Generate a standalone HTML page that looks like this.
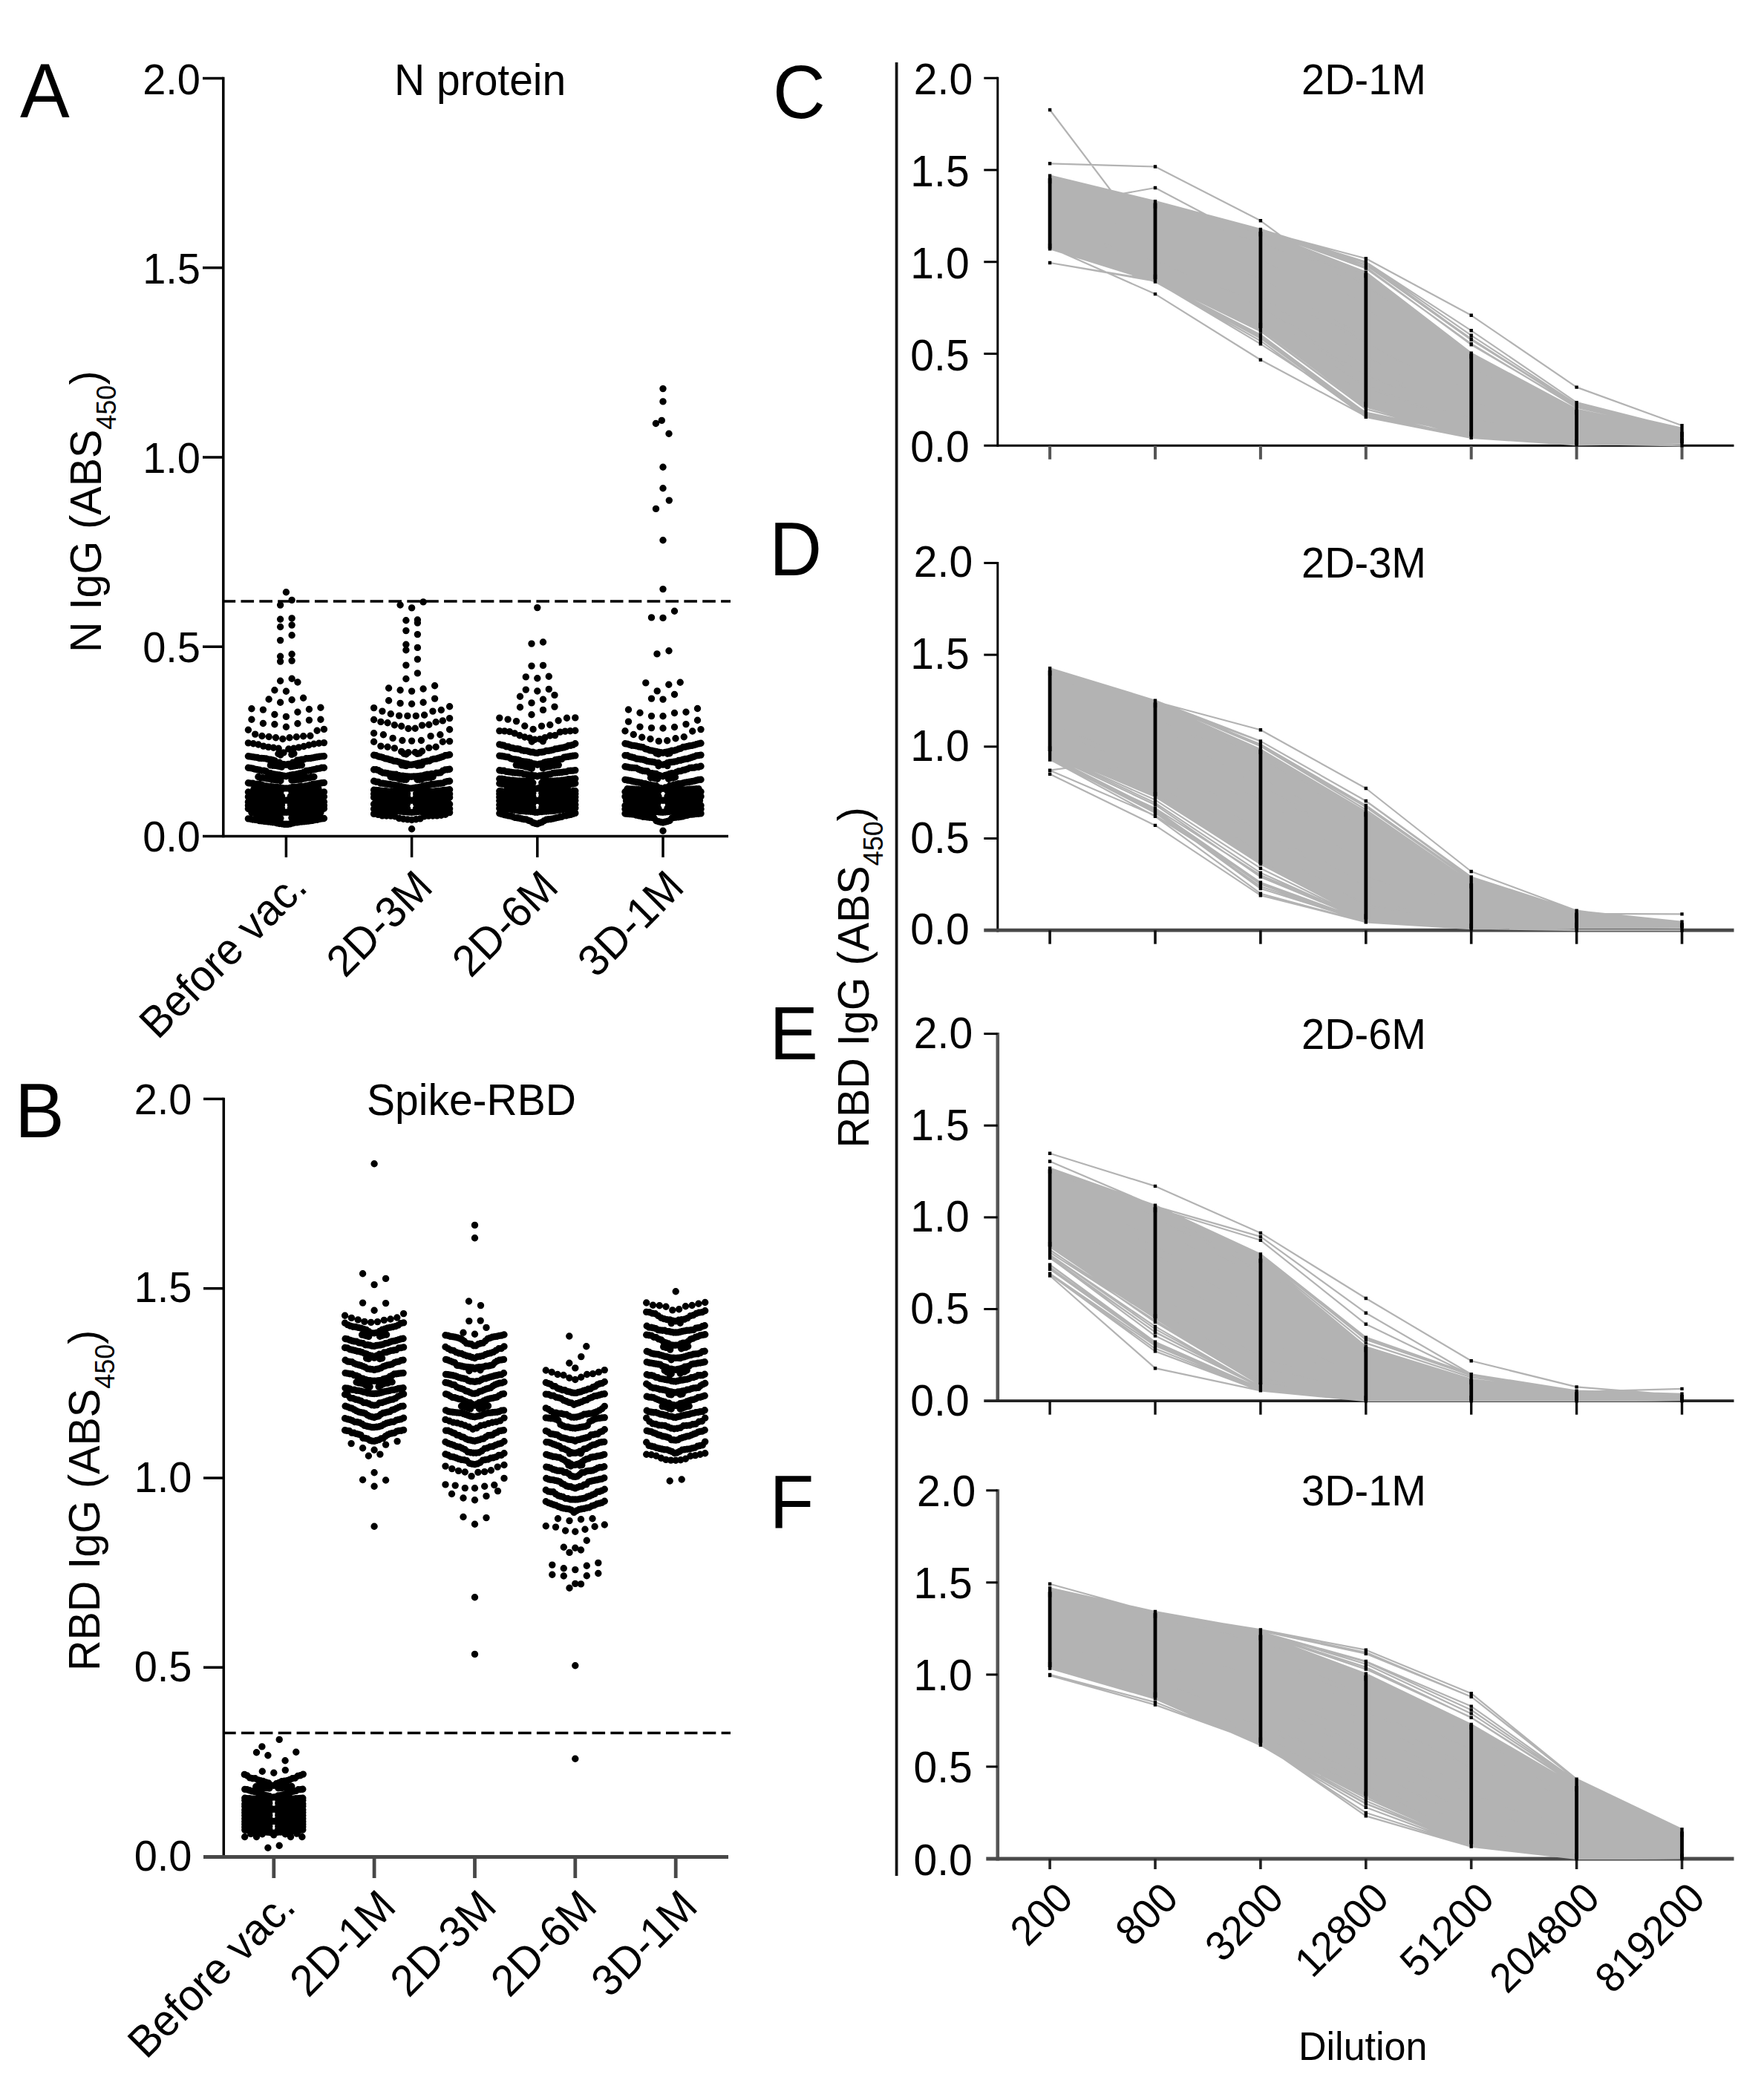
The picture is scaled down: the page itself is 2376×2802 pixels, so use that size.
<!DOCTYPE html>
<html lang="en"><head><meta charset="utf-8"><title>Figure</title>
<style>html,body{margin:0;padding:0;background:#fff}svg{display:block}text{font-family:"Liberation Sans", Arial, Helvetica, sans-serif;fill:#000}</style></head>
<body>
<svg width="2376" height="2802" viewBox="0 0 2376 2802">
<rect width="2376" height="2802" fill="#fff"/>
<line x1="300.8" y1="103.8" x2="300.8" y2="1128.2" stroke="#000" stroke-width="3.5"/>
<line x1="273" y1="1126.4" x2="981" y2="1126.4" stroke="#000" stroke-width="3.5"/>
<line x1="273" y1="871.2" x2="300.8" y2="871.2" stroke="#000" stroke-width="3.5"/>
<line x1="273" y1="616" x2="300.8" y2="616" stroke="#000" stroke-width="3.5"/>
<line x1="273" y1="360.7" x2="300.8" y2="360.7" stroke="#000" stroke-width="3.5"/>
<line x1="273" y1="105.5" x2="300.8" y2="105.5" stroke="#000" stroke-width="3.5"/>
<text font-size="56" text-anchor="end" transform="translate(270 1147.4) scale(1 1.04)">0.0</text>
<text font-size="56" text-anchor="end" transform="translate(270 892.2) scale(1 1.04)">0.5</text>
<text font-size="56" text-anchor="end" transform="translate(270 637) scale(1 1.04)">1.0</text>
<text font-size="56" text-anchor="end" transform="translate(270 381.7) scale(1 1.04)">1.5</text>
<text font-size="56" text-anchor="end" transform="translate(270 126.5) scale(1 1.04)">2.0</text>
<line x1="385.4" y1="1126.4" x2="385.4" y2="1154.9" stroke="#000" stroke-width="3.5"/>
<line x1="554.6" y1="1126.4" x2="554.6" y2="1154.9" stroke="#000" stroke-width="3.5"/>
<line x1="723.8" y1="1126.4" x2="723.8" y2="1154.9" stroke="#000" stroke-width="3.5"/>
<line x1="893" y1="1126.4" x2="893" y2="1154.9" stroke="#000" stroke-width="3.5"/>
<line x1="300.8" y1="809.9" x2="984" y2="809.9" stroke="#000" stroke-width="3.5" stroke-dasharray="17.6 7.27" stroke-dashoffset="1.2"/>
<text font-size="57" text-anchor="middle" transform="translate(646.6 127.5) scale(1 1.04)">N protein</text>
<text font-size="57.5" text-anchor="start" transform="translate(136.4 879) rotate(-90) scale(1 1.04)">N IgG (ABS<tspan font-size="36" dy="19">450</tspan><tspan dy="-19">)</tspan></text>
<text font-size="57" text-anchor="end" transform="translate(416.4 1197.9) rotate(-45) scale(1 1.04)">Before vac.</text>
<text font-size="57" text-anchor="end" transform="translate(585.6 1197.9) rotate(-45) scale(1 1.04)">2D-3M</text>
<text font-size="57" text-anchor="end" transform="translate(754.8 1197.9) rotate(-45) scale(1 1.04)">2D-6M</text>
<text font-size="57" text-anchor="end" transform="translate(924 1197.9) rotate(-45) scale(1 1.04)">3D-1M</text>
<path d="M385.4 1110.3h0M382.4 1110.3h0M388.4 1110.2h0M379.4 1109.8h0M391.4 1109.7h0M376.4 1109.5h0M394.4 1108.9h0M373.4 1108.9h0M397.4 1108h0M370.4 1108h0M400.4 1107.9h0M367.4 1107.8h0M403.4 1107.3h0M364.4 1107.2h0M406.4 1107h0M361.4 1107h0M409.4 1106.8h0M358.4 1106.6h0M412.4 1106.4h0M355.4 1106.3h0M415.4 1106.1h0M352.4 1105.9h0M418.4 1105.6h0M349.4 1105.6h0M421.4 1105.2h0M346.4 1104.6h0M424.4 1104.5h0M343.4 1104.3h0M427.4 1104.2h0M340.4 1104h0M430.4 1103.4h0M337.4 1103.3h0M433.4 1102.9h0M334.4 1102.9h0M436.4 1102.5h0M377.9 1102.2h0M392.9 1101.7h0M374.9 1101.5h0M395.9 1101h0M371.9 1100.8h0M398.9 1100.7h0M368.9 1100.6h0M401.9 1100.4h0M365.9 1100.3h0M404.9 1100.2h0M362.9 1100.2h0M407.9 1099.6h0M359.9 1099.3h0M410.9 1098.5h0M356.9 1097.7h0M413.9 1097.6h0M353.9 1097.3h0M416.9 1097.3h0M350.9 1097.1h0M419.9 1096.8h0M347.9 1096.5h0M422.9 1096.4h0M344.9 1096.3h0M425.9 1095.7h0M341.9 1094.9h0M428.9 1094.7h0M338.9 1094.6h0M431.9 1094.5h0M385.4 1094.3h0M382.4 1094.2h0M388.4 1094.1h0M379.4 1094h0M391.4 1093.9h0M376.4 1093.9h0M394.4 1093.8h0M373.4 1093.8h0M397.4 1093.7h0M370.4 1093.6h0M400.4 1093.4h0M367.4 1093.3h0M403.4 1092.6h0M364.4 1092.6h0M406.4 1092.4h0M361.4 1092.3h0M409.4 1092.2h0M358.4 1092.1h0M412.4 1092h0M355.4 1091.5h0M415.4 1091.5h0M352.4 1091.5h0M418.4 1091.4h0M349.4 1091.3h0M421.4 1091.2h0M346.4 1091.2h0M424.4 1091h0M343.4 1090.8h0M427.4 1090.6h0M340.4 1090.4h0M430.4 1090.4h0M337.4 1090.4h0M433.4 1090.1h0M334.4 1089.5h0M436.4 1089.2h0M379.4 1088.9h0M391.4 1088.7h0M376.4 1088.6h0M394.4 1088.4h0M373.4 1088.4h0M397.4 1088h0M370.4 1087.8h0M400.4 1087.8h0M367.4 1087.8h0M403.4 1087.7h0M364.4 1087.6h0M406.4 1087.6h0M361.4 1087.5h0M409.4 1087.3h0M358.4 1087h0M412.4 1086.9h0M355.4 1086.7h0M415.4 1086.2h0M352.4 1086.2h0M418.4 1086.1h0M349.4 1086.1h0M421.4 1086.1h0M346.4 1086h0M424.4 1086h0M343.4 1085.6h0M427.4 1085.6h0M340.4 1085.3h0M430.4 1085.3h0M337.4 1085.3h0M433.4 1085.2h0M334.4 1085.1h0M436.4 1085h0M379.4 1084.4h0M391.4 1084.3h0M376.4 1084.3h0M394.4 1084.2h0M373.4 1084.1h0M397.4 1083.9h0M370.4 1083.9h0M400.4 1083.8h0M367.4 1083.6h0M403.4 1083.5h0M364.4 1082.9h0M406.4 1082.8h0M361.4 1082.7h0M409.4 1082.5h0M358.4 1082.4h0M412.4 1082.4h0M355.4 1082.2h0M415.4 1082.2h0M352.4 1081.7h0M418.4 1081.6h0M349.4 1081.5h0M421.4 1081.4h0M346.4 1081.4h0M424.4 1081.4h0M343.4 1081h0M427.4 1080.9h0M340.4 1080.4h0M430.4 1080.4h0M337.4 1080.4h0M433.4 1080.4h0M334.4 1080.4h0M436.4 1080.3h0M379.4 1079.8h0M391.4 1079.8h0M376.4 1079.8h0M394.4 1079.6h0M373.4 1079.6h0M397.4 1079.5h0M370.4 1079.3h0M400.4 1079.2h0M367.4 1079.2h0M403.4 1079.2h0M364.4 1079h0M406.4 1078.9h0M361.4 1078.9h0M409.4 1078.7h0M385.4 1078.1h0M382.4 1078h0M388.4 1077.8h0M379.4 1077.6h0M391.4 1077.4h0M376.4 1077.2h0M394.4 1077.1h0M373.4 1077.1h0M397.4 1076.9h0M370.4 1076.9h0M400.4 1076.8h0M367.4 1076.6h0M403.4 1076.4h0M364.4 1076.3h0M406.4 1076.3h0M361.4 1076.3h0M409.4 1076.3h0M358.4 1076.3h0M412.4 1075.8h0M355.4 1075.5h0M415.4 1075.4h0M352.4 1075.4h0M418.4 1075.3h0M349.4 1075.2h0M421.4 1075h0M346.4 1075h0M424.4 1074.4h0M343.4 1074.4h0M427.4 1074.1h0M340.4 1074.1h0M430.4 1073.6h0M337.4 1073.5h0M433.4 1073.4h0M334.4 1073.4h0M436.4 1073.3h0M379.4 1072.5h0M391.4 1072.5h0M376.4 1072.4h0M394.4 1072.4h0M373.4 1072.3h0M397.4 1072.3h0M370.4 1071.4h0M400.4 1071.1h0M367.4 1071.1h0M403.4 1070.1h0M364.4 1069.8h0M406.4 1069.8h0M361.4 1069.8h0M409.4 1069.4h0M358.4 1069.2h0M412.4 1069.2h0M355.4 1069.1h0M415.4 1068.7h0M352.4 1068.6h0M418.4 1068.5h0M349.4 1068.4h0M421.4 1068.3h0M346.4 1068.2h0M424.4 1068.1h0M343.4 1068h0M427.4 1067.9h0M340.4 1067.9h0M430.4 1067.8h0M337.4 1067.8h0M433.4 1067.6h0M334.4 1067h0M436.4 1066.9h0M377.9 1066.3h0M392.9 1066.2h0M374.9 1066.1h0M395.9 1066h0M371.9 1065.7h0M398.9 1065.6h0M368.9 1065.6h0M401.9 1065.6h0M365.9 1065.5h0M404.9 1065.4h0M362.9 1065.2h0M407.9 1065.2h0M359.9 1065.1h0M410.9 1065.1h0M356.9 1064.7h0M413.9 1064.6h0M353.9 1064.5h0M416.9 1064.3h0M350.9 1064.3h0M419.9 1064.1h0M347.9 1064.1h0M422.9 1063.9h0M344.9 1063.4h0M425.9 1063.3h0M341.9 1063h0M428.9 1062.5h0M385.4 1061.9h0M382.4 1061.9h0M388.4 1061.9h0M379.4 1061.5h0M391.4 1061.3h0M376.4 1060.9h0M394.4 1060.5h0M373.4 1060.4h0M397.4 1060.4h0M370.4 1060.4h0M400.4 1060.2h0M367.4 1060h0M403.4 1059.6h0M364.4 1059.6h0M406.4 1059.5h0M361.4 1059.5h0M409.4 1059.4h0M358.4 1058.9h0M412.4 1058.8h0M355.4 1058.5h0M415.4 1058.2h0M352.4 1057.4h0M418.4 1057.4h0M349.4 1056.4h0M421.4 1056.3h0M346.4 1056.2h0M424.4 1056.2h0M343.4 1056.1h0M427.4 1055.7h0M340.4 1055.3h0M430.4 1055.3h0M337.4 1055.1h0M433.4 1054.8h0M334.4 1054.7h0M436.4 1054.4h0M377.9 1051.7h0M392.9 1051h0M374.9 1050.9h0M395.9 1050.9h0M371.9 1050.9h0M398.9 1050.4h0M368.9 1050.3h0M401.9 1050.3h0M365.9 1050.2h0M404.9 1050.1h0M362.9 1049.2h0M407.9 1049.1h0M359.9 1048.9h0M410.9 1048.6h0M356.9 1048.2h0M413.9 1047.8h0M353.9 1047.7h0M416.9 1047.7h0M350.9 1047.7h0M419.9 1046.6h0M347.9 1046.5h0M422.9 1046.5h0M385.4 1045.8h0M382.4 1045.3h0M388.4 1044.9h0M379.4 1044.6h0M391.4 1044.2h0M376.4 1043.9h0M394.4 1043.8h0M373.4 1043.7h0M397.4 1043.5h0M370.4 1043.1h0M400.4 1042.7h0M367.4 1042.6h0M403.4 1041.9h0M364.4 1041.6h0M406.4 1041.4h0M361.4 1041.1h0M409.4 1040.1h0M358.4 1039h0M412.4 1038.5h0M355.4 1038.3h0M415.4 1038.2h0M352.4 1038.2h0M418.4 1037.8h0M349.4 1037.2h0M421.4 1036.9h0M346.4 1036.8h0M424.4 1036.4h0M343.4 1036.1h0M427.4 1035.5h0M340.4 1035.2h0M430.4 1035.1h0M337.4 1034.6h0M433.4 1034.3h0M334.4 1034.2h0M436.4 1034.2h0M379.4 1033.1h0M391.4 1032.8h0M376.4 1032.4h0M394.4 1032.3h0M373.4 1031.8h0M397.4 1031.7h0M370.4 1031.4h0M400.4 1031.3h0M367.4 1031.2h0M403.4 1031h0M364.4 1030.9h0M406.4 1030.7h0M385.4 1030.2h0M382.4 1029.8h0M388.4 1029.4h0M379.4 1029.2h0M391.4 1029.1h0M376.4 1027.3h0M394.4 1027.2h0M373.4 1027.1h0M397.4 1026.9h0M370.4 1025h0M400.4 1024.1h0M367.4 1023.9h0M403.4 1023.9h0M364.4 1023.2h0M406.4 1023.1h0M361.4 1023h0M409.4 1022.9h0M358.4 1022h0M412.4 1021.6h0M355.4 1021.6h0M415.4 1021.6h0M352.4 1021.5h0M418.4 1021.5h0M349.4 1021.4h0M421.4 1020.9h0M346.4 1020.5h0M424.4 1020.3h0M343.4 1020.1h0M427.4 1019.7h0M340.4 1019.6h0M430.4 1019.3h0M337.4 1019.1h0M433.4 1018.9h0M334.4 1018.8h0M436.4 1018.7h0M377.9 1017h0M392.9 1016.4h0M374.9 1015.5h0M395.9 1015.1h0M382 1013.9h0M388.8 1009h0M375.2 1008.3h0M395.6 1008.2h0M368.4 1007.3h0M402.4 1006.9h0M361.6 1006.4h0M409.2 1005.5h0M354.8 1005.1h0M416 1003.8h0M348 1003h0M422.8 1002.3h0M341.2 1001.8h0M429.6 1001.2h0M334.4 1000.9h0M436.4 1000.6h0M380.8 995.5h0M390 993.7h0M371.5 993.7h0M399.3 992.8h0M362.2 992.5h0M408.6 991.7h0M352.9 991.5h0M417.9 991.3h0M343.7 989.1h0M427.1 984.2h0M334.4 983.2h0M436.4 982.4h0M385.4 979.2h0M369.9 975.7h0M400.9 974.8h0M354.4 974.5h0M416.4 970.1h0M338.9 969.2h0M431.9 969.2h0M385.4 965.4h0M369.9 962.5h0M400.9 959.3h0M354.4 956.1h0M416.4 955.5h0M338.9 954.7h0M431.9 953.3h0M377.6 946.3h0M393.1 942.8h0M362.1 942h0M408.6 940.2h0M385.4 931.2h0M369.9 929.8h0M400.9 919h0M377.6 917.3h0M393.1 914.3h0M377.6 891.1h0M393.1 890.1h0M377.6 884.2h0M393.1 881.3h0M377.6 862.6h0M393.1 855.7h0M377.6 844.5h0M393.1 842.1h0M377.6 834.3h0M393.1 832.9h0M377.6 815.1h0M393.1 808.4h0M385.4 797.7h0" stroke="#000" stroke-width="9.4" stroke-linecap="round" fill="none"/>
<path d="M554.6 1104.5h0M548.9 1103.9h0M560.3 1103.7h0M543.3 1103.2h0M565.9 1102.9h0M537.6 1102.4h0M571.6 1099.8h0M531.9 1099.7h0M577.3 1099.1h0M526.3 1099.1h0M582.9 1099h0M520.6 1099h0M588.6 1098.9h0M514.9 1098.9h0M594.3 1098.3h0M509.3 1097.4h0M599.9 1097.3h0M503.6 1096.4h0M605.6 1094.6h0M554.6 1094.4h0M551.6 1094.1h0M557.6 1094h0M548.6 1093.9h0M560.6 1093.8h0M545.6 1093.6h0M563.6 1093.4h0M542.6 1093.2h0M566.6 1093.2h0M539.6 1093.1h0M569.6 1092.6h0M536.6 1092.5h0M572.6 1092.3h0M533.6 1092.3h0M575.6 1092.1h0M530.6 1091.8h0M578.6 1091.6h0M527.6 1091.5h0M581.6 1091.5h0M524.6 1091.1h0M584.6 1091h0M521.6 1091h0M587.6 1091h0M518.6 1090.9h0M590.6 1090.5h0M515.6 1090.1h0M593.6 1090.1h0M512.6 1090.1h0M596.6 1090h0M509.6 1090h0M599.6 1089.9h0M506.6 1089.9h0M602.6 1089.8h0M503.6 1089.7h0M605.6 1089.5h0M548.6 1089h0M560.6 1089h0M545.6 1088.4h0M563.6 1088.2h0M542.6 1088h0M566.6 1087.9h0M539.6 1087.7h0M569.6 1087.7h0M536.6 1087.2h0M572.6 1087.2h0M533.6 1087.1h0M575.6 1087h0M530.6 1086.9h0M578.6 1086.2h0M527.6 1086.1h0M581.6 1085.6h0M524.6 1085.3h0M584.6 1084.8h0M521.6 1084.7h0M587.6 1084.7h0M518.6 1084.6h0M590.6 1084.5h0M515.6 1084.3h0M593.6 1084.2h0M512.6 1083.8h0M596.6 1083.7h0M509.6 1083.7h0M599.6 1083.5h0M506.6 1083.5h0M602.6 1083.4h0M503.6 1083.3h0M605.6 1083.2h0M548.6 1082.8h0M560.6 1082.7h0M545.6 1082.6h0M563.6 1082.6h0M542.6 1082.3h0M566.6 1082.3h0M539.6 1082.2h0M569.6 1082h0M536.6 1081.8h0M572.6 1081.6h0M533.6 1081.4h0M575.6 1081.3h0M530.6 1081.1h0M578.6 1080.9h0M527.6 1080.8h0M581.6 1080.7h0M524.6 1080.6h0M584.6 1080.6h0M521.6 1080.2h0M587.6 1080.1h0M518.6 1080h0M590.6 1079.8h0M515.6 1079.6h0M593.6 1079.6h0M512.6 1079.6h0M596.6 1079.4h0M509.6 1079.2h0M599.6 1079.2h0M506.6 1079h0M602.6 1078.6h0M554.6 1078.3h0M551.6 1078.2h0M557.6 1077.9h0M548.6 1077.7h0M560.6 1077.7h0M545.6 1077.6h0M563.6 1077.3h0M542.6 1077.3h0M566.6 1077.2h0M539.6 1077.2h0M569.6 1077.1h0M536.6 1076.8h0M572.6 1076.7h0M533.6 1076.5h0M575.6 1076.4h0M530.6 1076.3h0M578.6 1076.3h0M527.6 1076.2h0M581.6 1076.2h0M524.6 1076.2h0M584.6 1076.1h0M521.6 1076.1h0M587.6 1076h0M518.6 1075.8h0M590.6 1075.8h0M515.6 1075.7h0M593.6 1075.7h0M512.6 1075.6h0M596.6 1075.3h0M509.6 1075.2h0M599.6 1074.9h0M506.6 1074.4h0M602.6 1074.4h0M503.6 1074.3h0M605.6 1074.2h0M548.6 1073.4h0M560.6 1073.4h0M545.6 1073.3h0M563.6 1073.2h0M542.6 1073.1h0M566.6 1073.1h0M539.6 1072.7h0M569.6 1072.7h0M536.6 1072.5h0M572.6 1072.4h0M533.6 1072.1h0M575.6 1072h0M530.6 1071.9h0M578.6 1071.9h0M527.6 1071.4h0M581.6 1071.4h0M524.6 1071.2h0M584.6 1071.1h0M521.6 1071h0M587.6 1070.9h0M518.6 1070.9h0M590.6 1070.8h0M515.6 1070.8h0M593.6 1070.6h0M512.6 1070.6h0M596.6 1070.3h0M509.6 1070.1h0M599.6 1070h0M506.6 1069.7h0M602.6 1069.7h0M503.6 1069.6h0M605.6 1069.5h0M548.6 1069.1h0M560.6 1069h0M545.6 1069h0M563.6 1068.9h0M542.6 1068.8h0M566.6 1068.5h0M539.6 1068.1h0M569.6 1067.8h0M536.6 1067.4h0M572.6 1067h0M533.6 1066.7h0M575.6 1066.6h0M530.6 1066.5h0M578.6 1066.4h0M527.6 1066.4h0M581.6 1066.3h0M524.6 1066.3h0M584.6 1066.2h0M521.6 1065.9h0M587.6 1065.6h0M518.6 1065.5h0M590.6 1065.5h0M515.6 1065.4h0M593.6 1065.3h0M512.6 1065.3h0M596.6 1064.8h0M509.6 1064.6h0M599.6 1064.5h0M506.6 1064.5h0M602.6 1064.2h0M503.6 1064.2h0M605.6 1063.8h0M547.1 1063.1h0M562.1 1062.9h0M544.1 1062.8h0M565.1 1062.7h0M554.6 1061.9h0M551.6 1061.9h0M557.6 1061.4h0M548.6 1061.3h0M560.6 1060.9h0M545.6 1060.8h0M563.6 1060.7h0M542.6 1060.2h0M566.6 1059.9h0M539.6 1059.4h0M569.6 1058.7h0M536.6 1058.7h0M572.6 1058.2h0M533.6 1058h0M575.6 1057.7h0M530.6 1057.5h0M578.6 1057.2h0M527.6 1057.1h0M581.6 1056.4h0M524.6 1056.4h0M584.6 1056.4h0M521.6 1056.2h0M587.6 1055.9h0M518.6 1055.8h0M590.6 1055.5h0M515.6 1055.2h0M593.6 1055.2h0M512.6 1055.1h0M596.6 1054.9h0M509.6 1053.4h0M599.6 1053.4h0M506.6 1053.3h0M602.6 1052.6h0M503.6 1052.2h0M605.6 1052.2h0M547.1 1050.3h0M562.1 1050.3h0M544.1 1050.3h0M565.1 1050.2h0M541.1 1049.9h0M568.1 1049.6h0M538.1 1049.4h0M571.1 1048.1h0M535.1 1047.9h0M574.1 1047.7h0M532.1 1047.4h0M577.1 1047.4h0M529.1 1047.3h0M580.1 1047.3h0M526.1 1046.5h0M583.1 1046.5h0M554.6 1046.3h0M551.6 1046.3h0M557.6 1046h0M548.6 1046h0M560.6 1045.9h0M545.6 1045.8h0M563.6 1045.7h0M542.6 1045.3h0M566.6 1045.2h0M539.6 1045.1h0M569.6 1044.9h0M536.6 1044.4h0M572.6 1043.9h0M533.6 1043.2h0M575.6 1043.2h0M530.6 1043.2h0M578.6 1043.1h0M527.6 1042.9h0M581.6 1042.5h0M524.6 1042.4h0M584.6 1042.4h0M521.6 1041.8h0M587.6 1041.3h0M518.6 1041.2h0M590.6 1041.1h0M515.6 1041h0M593.6 1040.8h0M512.6 1039.4h0M596.6 1038.1h0M509.6 1037.6h0M599.6 1037h0M506.6 1036.8h0M602.6 1036.7h0M503.6 1036.7h0M605.6 1036.2h0M547.1 1031.6h0M562.1 1031.2h0M544.1 1031h0M565.1 1030.9h0M541.1 1030.6h0M568.1 1030.5h0M554.6 1030.3h0M551.6 1030.2h0M557.6 1029.8h0M548.6 1029.3h0M560.6 1029h0M545.6 1028.8h0M563.6 1028.3h0M542.6 1027.9h0M566.6 1027.6h0M539.6 1027.2h0M569.6 1026.5h0M536.6 1026.2h0M572.6 1025.9h0M533.6 1025.4h0M575.6 1025.3h0M530.6 1025.1h0M578.6 1025h0M527.6 1024h0M581.6 1023.3h0M524.6 1023.2h0M584.6 1022.4h0M521.6 1022.3h0M587.6 1022.1h0M518.6 1021.7h0M590.6 1021.1h0M515.6 1020.5h0M593.6 1020.2h0M512.6 1019.6h0M596.6 1019.3h0M509.6 1019h0M599.6 1017.8h0M506.6 1017.7h0M602.6 1017.4h0M503.6 1017.3h0M605.6 1016.8h0M547.1 1016h0M562.1 1015.4h0M544.1 1015.2h0M565.1 1014.8h0M550 1013.7h0M559.2 1013.5h0M540.7 1012.4h0M568.5 1012h0M531.4 1007.9h0M577.8 1007.4h0M522.1 1006.3h0M587.1 1006.2h0M512.9 1005.1h0M596.3 999.2h0M503.6 999.2h0M605.6 998.6h0M554.6 998.1h0M541.9 997.5h0M567.4 997.5h0M529.1 994.4h0M580.1 991.6h0M516.4 989.8h0M592.9 989.8h0M503.6 987.8h0M605.6 982.8h0M550 981.5h0M559.2 981.3h0M540.7 978.3h0M568.5 977.1h0M531.4 976.8h0M577.8 976.3h0M522.1 973.7h0M587.1 972.8h0M512.9 972.4h0M596.3 970.9h0M503.6 969.5h0M605.6 967.6h0M548.9 964.4h0M560.3 964.4h0M537.6 964.1h0M571.6 963.2h0M526.3 961.8h0M582.9 958.1h0M514.9 958.1h0M594.3 956.5h0M503.6 953.6h0M605.6 951.7h0M554.6 948.3h0M539.1 947.4h0M570.1 946.2h0M523.6 943.7h0M585.6 941.1h0M554.6 931.1h0M539.1 929.8h0M570.1 928h0M523.6 927h0M585.6 923.8h0M546.9 914.5h0M562.4 906.9h0M546.9 896.1h0M562.4 888.1h0M546.9 875.7h0M562.4 872.4h0M546.9 868.2h0M562.4 854.6h0M546.9 849.6h0M562.4 839.1h0M546.9 835.8h0M562.4 835h0M554.6 818.9h0M539.1 815h0M570.1 810.9h0M554.6 1116.7h0" stroke="#000" stroke-width="9.4" stroke-linecap="round" fill="none"/>
<path d="M723.8 1109.9h0M720.8 1109.2h0M726.8 1108.6h0M717.8 1108.2h0M729.8 1107.6h0M714.8 1106.3h0M732.8 1105.8h0M711.8 1105.3h0M735.8 1104.2h0M708.8 1103.9h0M738.8 1103.8h0M705.8 1103.6h0M741.8 1103.5h0M702.8 1103h0M744.8 1102.9h0M699.8 1102.2h0M747.8 1102.1h0M696.8 1101.7h0M750.8 1101.4h0M693.8 1101.4h0M753.8 1100.7h0M690.8 1100.3h0M756.8 1100.2h0M687.8 1099.3h0M759.8 1098.9h0M684.8 1098.9h0M762.8 1098.7h0M681.8 1098.1h0M765.8 1097.9h0M678.8 1097.5h0M768.8 1097.4h0M675.8 1096.6h0M771.8 1096.4h0M672.8 1095.7h0M774.8 1095.4h0M723.8 1094.3h0M720.8 1094.2h0M726.8 1093.6h0M717.8 1093.5h0M729.8 1093.5h0M714.8 1093.3h0M732.8 1093.1h0M711.8 1093h0M735.8 1093h0M708.8 1093h0M738.8 1092.8h0M705.8 1092.5h0M741.8 1092.5h0M702.8 1092.4h0M744.8 1092.4h0M699.8 1092.4h0M747.8 1092h0M696.8 1091.8h0M750.8 1091.4h0M693.8 1091.3h0M753.8 1091.3h0M690.8 1090.5h0M756.8 1090.2h0M687.8 1089.9h0M759.8 1089.8h0M684.8 1089.8h0M762.8 1089.7h0M681.8 1089.7h0M765.8 1089.6h0M678.8 1089.6h0M768.8 1089.5h0M675.8 1089.2h0M771.8 1089.1h0M672.8 1089h0M774.8 1088.6h0M717.8 1087.9h0M729.8 1087.9h0M714.8 1087.4h0M732.8 1087.2h0M711.8 1087h0M735.8 1087h0M708.8 1086.9h0M738.8 1086.8h0M705.8 1086.7h0M741.8 1086.6h0M702.8 1086.5h0M744.8 1086.4h0M699.8 1086.3h0M747.8 1086.2h0M696.8 1086.2h0M750.8 1086.2h0M693.8 1085.6h0M753.8 1085.6h0M690.8 1085.6h0M756.8 1085.3h0M687.8 1085.1h0M759.8 1085.1h0M684.8 1085h0M762.8 1084.9h0M681.8 1084.9h0M765.8 1084.8h0M678.8 1084.8h0M768.8 1084.7h0M675.8 1084.6h0M771.8 1084.4h0M672.8 1084.2h0M774.8 1084h0M717.8 1082.5h0M729.8 1082.4h0M714.8 1082.2h0M732.8 1082.1h0M711.8 1082h0M735.8 1081.8h0M708.8 1081.8h0M738.8 1081.6h0M705.8 1081.4h0M741.8 1081.3h0M702.8 1081.2h0M744.8 1081.1h0M699.8 1080.8h0M747.8 1080.7h0M696.8 1080.5h0M750.8 1080.5h0M693.8 1080.4h0M753.8 1080.4h0M690.8 1080.3h0M756.8 1080.2h0M687.8 1080.2h0M759.8 1080.2h0M684.8 1080.1h0M762.8 1079.8h0M681.8 1079.5h0M765.8 1079.4h0M678.8 1079.2h0M768.8 1079h0M675.8 1079h0M771.8 1079h0M672.8 1078.7h0M774.8 1078.6h0M723.8 1078.4h0M720.8 1078.3h0M726.8 1078.1h0M717.8 1077.7h0M729.8 1077.7h0M714.8 1077.6h0M732.8 1077.6h0M711.8 1077.5h0M735.8 1077.4h0M708.8 1077.2h0M738.8 1077.1h0M705.8 1077.1h0M741.8 1077h0M702.8 1077h0M744.8 1076.9h0M699.8 1076.8h0M747.8 1076.4h0M696.8 1076.4h0M750.8 1076.2h0M693.8 1076.2h0M753.8 1076h0M690.8 1075.7h0M756.8 1075.6h0M687.8 1075.4h0M759.8 1075.2h0M684.8 1075.1h0M762.8 1074.8h0M681.8 1074.6h0M765.8 1074.5h0M678.8 1074.3h0M768.8 1074.2h0M675.8 1074.2h0M771.8 1073.9h0M672.8 1073.9h0M774.8 1073.7h0M717.8 1073.2h0M729.8 1073.2h0M714.8 1072.9h0M732.8 1072.8h0M711.8 1072.7h0M735.8 1072.7h0M708.8 1072.6h0M738.8 1072.6h0M705.8 1072.6h0M741.8 1072.3h0M702.8 1072.2h0M744.8 1072.1h0M699.8 1071.8h0M747.8 1071.8h0M696.8 1071.4h0M750.8 1071.3h0M693.8 1071.3h0M753.8 1071h0M690.8 1071h0M756.8 1070.9h0M687.8 1070.5h0M759.8 1070.4h0M684.8 1070.3h0M762.8 1070.3h0M681.8 1070.1h0M765.8 1070h0M678.8 1069.9h0M768.8 1069.7h0M675.8 1069.7h0M771.8 1069.5h0M672.8 1069.5h0M774.8 1069.4h0M717.8 1068.5h0M729.8 1068.5h0M714.8 1068.5h0M732.8 1068.4h0M711.8 1068.2h0M735.8 1068h0M708.8 1067.9h0M738.8 1067.9h0M705.8 1067.8h0M741.8 1067.8h0M702.8 1067.8h0M744.8 1067.7h0M699.8 1067.5h0M747.8 1067.4h0M696.8 1067.2h0M750.8 1067.1h0M693.8 1067.1h0M753.8 1067h0M690.8 1067h0M756.8 1067h0M687.8 1066.9h0M759.8 1066.8h0M684.8 1066.8h0M762.8 1066.7h0M681.8 1066.6h0M765.8 1066.6h0M678.8 1066.5h0M768.8 1066.2h0M675.8 1066h0M771.8 1065.8h0M672.8 1065.7h0M774.8 1065.5h0M716.3 1064.5h0M731.3 1064.2h0M713.3 1064.2h0M734.3 1064.1h0M710.3 1064h0M737.3 1064h0M707.3 1064h0M740.3 1063.8h0M704.3 1063.8h0M743.3 1063.7h0M701.3 1063.7h0M746.3 1063.6h0M698.3 1063.4h0M749.3 1063.4h0M695.3 1063.4h0M752.3 1063.2h0M692.3 1063h0M755.3 1063h0M689.3 1063h0M758.3 1062.9h0M686.3 1062.8h0M761.3 1062.6h0M683.3 1062.5h0M764.3 1062.4h0M723.8 1062.1h0M720.8 1062.1h0M726.8 1061.2h0M717.8 1061h0M729.8 1060.7h0M714.8 1060.5h0M732.8 1060.4h0M711.8 1060.4h0M735.8 1060.3h0M708.8 1060.2h0M738.8 1059.4h0M705.8 1059.4h0M741.8 1058.9h0M702.8 1058.9h0M744.8 1058.7h0M699.8 1058.7h0M747.8 1058.2h0M696.8 1058h0M750.8 1057.8h0M693.8 1057.7h0M753.8 1057.6h0M690.8 1057.3h0M756.8 1057.3h0M687.8 1056.9h0M759.8 1056.7h0M684.8 1056.6h0M762.8 1056.6h0M681.8 1056.5h0M765.8 1056.3h0M678.8 1056.3h0M768.8 1056.2h0M675.8 1056.1h0M771.8 1056h0M672.8 1055.5h0M774.8 1055.3h0M717.8 1054.6h0M729.8 1054.5h0M714.8 1054.4h0M732.8 1053.9h0M711.8 1053.4h0M735.8 1053.1h0M708.8 1052.7h0M738.8 1052.6h0M705.8 1052.5h0M741.8 1052.4h0M702.8 1052.2h0M744.8 1052.1h0M699.8 1052h0M747.8 1051.9h0M696.8 1051.9h0M750.8 1051.6h0M693.8 1051.6h0M753.8 1051.6h0M690.8 1051.3h0M756.8 1051.3h0M687.8 1051.3h0M759.8 1051h0M684.8 1050.6h0M762.8 1050.5h0M681.8 1050.5h0M765.8 1049.8h0M678.8 1049.6h0M768.8 1049.6h0M675.8 1049.3h0M771.8 1049.3h0M672.8 1049.3h0M774.8 1049h0M716.3 1047.3h0M731.3 1046.7h0M713.3 1046.6h0M734.3 1046.5h0M723.8 1045.8h0M720.8 1045h0M726.8 1044.9h0M717.8 1044.7h0M729.8 1044.7h0M714.8 1044.2h0M732.8 1044.1h0M711.8 1043.9h0M735.8 1043.9h0M708.8 1043.3h0M738.8 1043.3h0M705.8 1042.9h0M741.8 1042.7h0M702.8 1041.6h0M744.8 1041.5h0M699.8 1041.5h0M747.8 1041.2h0M696.8 1041h0M750.8 1041h0M693.8 1041h0M753.8 1040.8h0M690.8 1040.8h0M756.8 1040.5h0M687.8 1040.1h0M759.8 1039.9h0M684.8 1039.7h0M762.8 1039.6h0M681.8 1039.4h0M765.8 1038.5h0M678.8 1038.3h0M768.8 1038.3h0M675.8 1038.3h0M771.8 1038.1h0M672.8 1037.8h0M774.8 1037.6h0M716.3 1035.2h0M731.3 1034.9h0M713.3 1034.3h0M734.3 1033.6h0M710.3 1033.1h0M737.3 1032.8h0M707.3 1032.8h0M740.3 1032.6h0M704.3 1031.6h0M743.3 1031.4h0M701.3 1031.3h0M746.3 1031.2h0M698.3 1031h0M749.3 1030.7h0M695.3 1030.6h0M752.3 1030.6h0M723.8 1030.2h0M720.8 1029.3h0M726.8 1029.2h0M717.8 1028.8h0M729.8 1028.7h0M714.8 1027.5h0M732.8 1027.3h0M711.8 1026.7h0M735.8 1026.4h0M708.8 1026.3h0M738.8 1026h0M705.8 1025.9h0M741.8 1025.7h0M702.8 1025.5h0M744.8 1025.4h0M699.8 1024.2h0M747.8 1023.7h0M696.8 1023.4h0M750.8 1023.1h0M693.8 1023h0M753.8 1022.7h0M690.8 1022.6h0M756.8 1022.5h0M687.8 1021.8h0M759.8 1020.1h0M684.8 1020h0M762.8 1019.6h0M681.8 1019.6h0M765.8 1019.2h0M678.8 1019h0M768.8 1018.8h0M675.8 1018.5h0M771.8 1018.3h0M672.8 1018.1h0M774.8 1017.9h0M723.8 1014.4h0M720.8 1014.1h0M726.8 1013.4h0M717.8 1013.3h0M729.8 1013.3h0M714.8 1013.1h0M732.8 1012.8h0M711.8 1012.2h0M735.8 1011.4h0M708.8 1011.4h0M738.8 1011.4h0M705.8 1011.2h0M741.8 1010.9h0M702.8 1010.6h0M744.8 1010.1h0M699.8 1009.3h0M747.8 1009h0M696.8 1008.7h0M750.8 1008.6h0M693.8 1008.6h0M753.8 1008h0M690.8 1007.8h0M756.8 1007.4h0M687.8 1007.2h0M759.8 1006.9h0M684.8 1005.9h0M762.8 1005.9h0M681.8 1005.7h0M765.8 1004.4h0M678.8 1004.3h0M768.8 1004.2h0M675.8 1003.8h0M771.8 1003.4h0M672.8 1002.9h0M774.8 1001.7h0M716.3 999h0M731.3 998.6h0M720.4 996.2h0M727.2 995.8h0M713.6 994.2h0M734 993.6h0M706.8 993h0M740.8 991h0M700 990.7h0M747.6 990.6h0M693.2 987.9h0M754.4 986.1h0M686.4 985.6h0M761.2 985.1h0M679.6 984.9h0M768 984.7h0M672.8 984.6h0M774.8 984.2h0M718.1 982.4h0M729.5 978.1h0M706.8 978h0M740.8 976.5h0M695.5 971.6h0M752.1 970.7h0M684.1 969.1h0M763.5 967.3h0M672.8 967.1h0M774.8 966.9h0M716 962.7h0M731.5 956.4h0M700.5 952.7h0M747 952.1h0M716 946.9h0M731.5 942.2h0M700.5 938.2h0M747 936.4h0M723.8 931h0M708.3 929.1h0M739.3 928.4h0M723.8 913.8h0M708.3 911.9h0M739.3 911.2h0M716 897.1h0M731.5 896.4h0M723.8 818.6h0M716 867.1h0M731.5 865h0" stroke="#000" stroke-width="9.4" stroke-linecap="round" fill="none"/>
<path d="M893 523.6h0M893 540.9h0M891.3 566.4h0M883.4 570.5h0M901 584.3h0M893 629.2h0M893 657.8h0M901.3 674.1h0M883.5 685.4h0M893 727.7h0M893 793.6h0M908.5 823.2h0M893 832.4h0M877.5 831.9h0M901 876.8h0M885 880.9h0M893 1119.3h0M893 1108h0M890 1107.5h0M896 1107.3h0M887 1106.7h0M899 1106.5h0M884 1105.7h0M902 1105.5h0M881 1102.2h0M905 1102.1h0M878 1101.4h0M908 1101.4h0M875 1101.2h0M911 1101h0M872 1100.9h0M914 1100.8h0M869 1100.4h0M917 1100.3h0M866 1100.3h0M920 1099.7h0M863 1099.2h0M923 1098.7h0M860 1098.7h0M926 1098.3h0M857 1098.1h0M929 1097.3h0M854 1097.1h0M932 1097.1h0M851 1096.8h0M935 1096.7h0M848 1096.6h0M938 1096.4h0M845 1096.4h0M941 1096.2h0M842 1096h0M944 1095.9h0M893 1094.2h0M890 1094.1h0M896 1094h0M887 1093.8h0M899 1093.6h0M884 1093.5h0M902 1093.3h0M881 1093.3h0M905 1092.9h0M878 1092.9h0M908 1092.8h0M875 1092.6h0M911 1091.9h0M872 1091.8h0M914 1091.8h0M869 1091.7h0M917 1091.4h0M866 1091.3h0M920 1091.2h0M863 1091.2h0M923 1091.1h0M860 1091.1h0M926 1090.8h0M857 1090.7h0M929 1090.6h0M854 1090.6h0M932 1090.5h0M851 1090.4h0M935 1090.4h0M848 1090.3h0M938 1090.2h0M845 1090.2h0M941 1090.1h0M842 1090h0M944 1089.9h0M887 1089.4h0M899 1088.7h0M884 1088.6h0M902 1088.4h0M881 1088.4h0M905 1088.2h0M878 1088.1h0M908 1087.9h0M875 1087.9h0M911 1087.8h0M872 1087.7h0M914 1087.7h0M869 1087.5h0M917 1087.5h0M866 1087.4h0M920 1087.2h0M863 1087.2h0M923 1087.2h0M860 1087.1h0M926 1087h0M857 1086.7h0M929 1086.6h0M854 1086.5h0M932 1086.4h0M851 1086.4h0M935 1086.2h0M848 1086.1h0M938 1086.1h0M845 1086h0M941 1085.8h0M842 1085.2h0M944 1085h0M885.5 1083.8h0M900.5 1083.6h0M882.5 1083.6h0M903.5 1083.4h0M879.5 1083.2h0M906.5 1083.1h0M876.5 1083.1h0M909.5 1082.9h0M873.5 1082.7h0M912.5 1082.7h0M870.5 1082.2h0M915.5 1081.9h0M867.5 1081.9h0M918.5 1081.9h0M864.5 1081.9h0M921.5 1081h0M861.5 1081h0M924.5 1081h0M858.5 1080.8h0M927.5 1080.3h0M855.5 1080.2h0M930.5 1080.2h0M852.5 1080h0M933.5 1079.4h0M849.5 1079.4h0M936.5 1079.3h0M846.5 1079.2h0M939.5 1078.8h0M843.5 1078.8h0M942.5 1078.5h0M893 1078.3h0M890 1078.3h0M896 1078.2h0M887 1078.1h0M899 1077.9h0M884 1077.7h0M902 1077.4h0M881 1077.2h0M905 1077.1h0M878 1077h0M908 1076.9h0M875 1076.6h0M911 1076.6h0M872 1076.1h0M914 1075.6h0M869 1075.3h0M917 1075.2h0M866 1075h0M920 1074.9h0M863 1074.7h0M923 1074.6h0M860 1074.4h0M926 1074h0M857 1073.9h0M929 1073.7h0M854 1073.7h0M932 1073.7h0M851 1073.6h0M935 1073.5h0M848 1073.5h0M938 1073.2h0M845 1073.2h0M941 1073.1h0M842 1073.1h0M944 1072.9h0M887 1072.8h0M899 1072.8h0M884 1072.7h0M902 1072.6h0M881 1072.5h0M905 1072.3h0M878 1072.3h0M908 1071.4h0M875 1071.2h0M911 1071.1h0M872 1071h0M914 1070.9h0M869 1070.6h0M917 1070.4h0M866 1070.1h0M920 1069.9h0M863 1069.8h0M923 1069.5h0M860 1069.3h0M926 1069.1h0M857 1068.9h0M929 1068.7h0M854 1068.5h0M932 1068.2h0M851 1067.8h0M935 1067.4h0M848 1067.3h0M938 1067.3h0M845 1067h0M941 1066.9h0M842 1066.7h0M944 1066.6h0M887 1065.7h0M899 1065.5h0M884 1065.5h0M902 1065.5h0M881 1065.3h0M905 1065.1h0M878 1065.1h0M908 1065.1h0M875 1065h0M911 1064.9h0M872 1064.9h0M914 1064.5h0M869 1064.2h0M917 1064.1h0M866 1064.1h0M920 1064h0M863 1064h0M923 1063.9h0M860 1063.7h0M926 1063.6h0M857 1063.5h0M929 1063.3h0M854 1063.3h0M932 1063.3h0M851 1063h0M935 1063h0M848 1062.9h0M938 1062.8h0M845 1062.8h0M941 1062.6h0M893 1062.3h0M890 1061.6h0M896 1061h0M887 1061h0M899 1060.7h0M884 1058.7h0M902 1058.5h0M881 1058.1h0M905 1058.1h0M878 1057.9h0M908 1057.1h0M875 1057.1h0M911 1056.7h0M872 1056.6h0M914 1055.8h0M869 1055.6h0M917 1055.6h0M866 1055.5h0M920 1054.9h0M863 1054.4h0M923 1054.1h0M860 1054h0M926 1053.8h0M857 1053.5h0M929 1053.3h0M854 1052.9h0M932 1052.8h0M851 1052.3h0M935 1052.1h0M848 1051.4h0M938 1051.3h0M845 1051h0M941 1050.5h0M842 1050.4h0M944 1050.2h0M885.5 1049.2h0M900.5 1049.2h0M882.5 1048.4h0M903.5 1048h0M879.5 1047.8h0M906.5 1047.7h0M876.5 1047.7h0M909.5 1047h0M893 1045.8h0M890 1045.3h0M896 1044.4h0M887 1044.1h0M899 1043.7h0M884 1042.5h0M902 1042.4h0M881 1042.1h0M905 1041.8h0M878 1041.7h0M908 1041.6h0M875 1041.5h0M911 1040.2h0M872 1039h0M914 1038.9h0M869 1038.7h0M917 1038.6h0M866 1038.5h0M920 1037.5h0M863 1037.5h0M923 1037h0M860 1036.2h0M926 1035.9h0M857 1034.6h0M929 1034.5h0M854 1034.4h0M932 1034.3h0M851 1034.2h0M935 1034.1h0M848 1034h0M938 1033.2h0M845 1033.2h0M941 1033.2h0M842 1032.8h0M944 1032.3h0M887 1031.8h0M899 1031.6h0M893 1030.1h0M890 1030h0M896 1029.4h0M887 1027.8h0M899 1027.6h0M884 1027.6h0M902 1026.9h0M881 1026.7h0M905 1026.6h0M878 1026.3h0M908 1026.3h0M875 1025.9h0M911 1025.6h0M872 1025.4h0M914 1024.5h0M869 1024.3h0M917 1024.3h0M866 1023.3h0M920 1023.3h0M863 1022.9h0M923 1022.5h0M860 1022.4h0M926 1022.3h0M857 1022h0M929 1021.2h0M854 1020.8h0M932 1020.3h0M851 1020h0M935 1019.3h0M848 1019.2h0M938 1018h0M845 1017.8h0M941 1017.6h0M842 1017.6h0M944 1017.1h0M887 1015.8h0M899 1015.3h0M884 1014.8h0M902 1014.7h0M893 1014.2h0M890 1013.7h0M896 1013.4h0M887 1013.2h0M899 1012.9h0M884 1012.5h0M902 1012.3h0M881 1011.9h0M905 1011.2h0M878 1011.1h0M908 1011.1h0M875 1010.7h0M911 1010.2h0M872 1009.4h0M914 1009h0M869 1008.7h0M917 1008.3h0M866 1006.7h0M920 1006.5h0M863 1006.3h0M923 1006.1h0M860 1005.7h0M926 1005.4h0M857 1004.9h0M929 1004.7h0M854 1004.4h0M932 1004.4h0M851 1004.3h0M935 1003.6h0M848 1003.3h0M938 1002.8h0M845 1002.2h0M941 1001.9h0M842 1001.7h0M944 1001.3h0M887.3 998.4h0M898.7 997.8h0M876 995.5h0M910 994.7h0M864.7 993.2h0M921.3 992.7h0M853.3 989.5h0M932.7 985h0M842 984.8h0M944 982.6h0M893 981h0M877.5 980.6h0M908.5 979.5h0M862 979.1h0M924 975.6h0M846.5 972.1h0M939.5 970.2h0M893 964.7h0M877.5 964.6h0M908.5 960.5h0M862 960.2h0M924 959.2h0M846.5 956h0M939.5 954.5h0M893 942.1h0M877.5 941.1h0M908.5 935.5h0M885.2 930.9h0M900.8 922.2h0M869.8 919.9h0M916.2 919.2h0" stroke="#000" stroke-width="9.4" stroke-linecap="round" fill="none"/>
<line x1="301.3" y1="1478.7" x2="301.3" y2="2503.2" stroke="#000" stroke-width="3.5"/>
<line x1="274" y1="2501.5" x2="981" y2="2501.5" stroke="#484848" stroke-width="4.8"/>
<line x1="274" y1="2246.2" x2="301.3" y2="2246.2" stroke="#000" stroke-width="3.5"/>
<line x1="274" y1="1991" x2="301.3" y2="1991" stroke="#000" stroke-width="3.5"/>
<line x1="274" y1="1735.7" x2="301.3" y2="1735.7" stroke="#000" stroke-width="3.5"/>
<line x1="274" y1="1480.4" x2="301.3" y2="1480.4" stroke="#000" stroke-width="3.5"/>
<text font-size="56" text-anchor="end" transform="translate(258.5 2520) scale(1 1.04)">0.0</text>
<text font-size="56" text-anchor="end" transform="translate(258.5 2264.7) scale(1 1.04)">0.5</text>
<text font-size="56" text-anchor="end" transform="translate(258.5 2009.5) scale(1 1.04)">1.0</text>
<text font-size="56" text-anchor="end" transform="translate(258.5 1754.2) scale(1 1.04)">1.5</text>
<text font-size="56" text-anchor="end" transform="translate(258.5 1501.1) scale(1 1.04)">2.0</text>
<line x1="368.8" y1="2501.5" x2="368.8" y2="2530" stroke="#484848" stroke-width="4.8"/>
<line x1="504.1" y1="2501.5" x2="504.1" y2="2530" stroke="#484848" stroke-width="4.8"/>
<line x1="639.5" y1="2501.5" x2="639.5" y2="2530" stroke="#484848" stroke-width="4.8"/>
<line x1="774.8" y1="2501.5" x2="774.8" y2="2530" stroke="#484848" stroke-width="4.8"/>
<line x1="910.2" y1="2501.5" x2="910.2" y2="2530" stroke="#484848" stroke-width="4.8"/>
<line x1="301.3" y1="2334.6" x2="984" y2="2334.6" stroke="#000" stroke-width="3.5" stroke-dasharray="17.6 7.27" stroke-dashoffset="1.2"/>
<text font-size="57" text-anchor="middle" transform="translate(635 1502.4) scale(1 1.04)">Spike-RBD</text>
<text font-size="57.5" text-anchor="start" transform="translate(134 2251) rotate(-90) scale(1 1.04)">RBD IgG (ABS<tspan font-size="36" dy="19">450</tspan><tspan dy="-19">)</tspan></text>
<text font-size="57" text-anchor="end" transform="translate(400.8 2571.5) rotate(-45) scale(1 1.04)">Before vac.</text>
<text font-size="57" text-anchor="end" transform="translate(536.1 2571.5) rotate(-45) scale(1 1.04)">2D-1M</text>
<text font-size="57" text-anchor="end" transform="translate(671.5 2571.5) rotate(-45) scale(1 1.04)">2D-3M</text>
<text font-size="57" text-anchor="end" transform="translate(806.8 2571.5) rotate(-45) scale(1 1.04)">2D-6M</text>
<text font-size="57" text-anchor="end" transform="translate(942.2 2571.5) rotate(-45) scale(1 1.04)">3D-1M</text>
<path d="M376.2 2343.4h0M352.9 2352.9h0M345.5 2360.8h0M360.9 2364.7h0M398.8 2360.3h0M384.1 2371.8h0M329.7 2474.5h0M345.5 2474.5h0M391.5 2474.5h0M406.9 2474.5h0M360.9 2489.3h0M376.2 2486.2h0M368.8 2471.9h0M353.3 2470.8h0M384.3 2470.7h0M337.8 2470.4h0M399.8 2470.1h0M368.8 2469.1h0M365.8 2469.1h0M371.8 2468.8h0M362.8 2468.4h0M374.8 2468.1h0M359.8 2468.1h0M377.8 2468h0M356.8 2467.9h0M380.8 2467.9h0M353.8 2467.6h0M383.8 2467.5h0M350.8 2467.5h0M386.8 2467.2h0M347.8 2467.1h0M389.8 2467.1h0M344.8 2467h0M392.8 2466.9h0M341.8 2466.6h0M395.8 2466.6h0M338.8 2466.3h0M398.8 2466h0M335.8 2465.6h0M401.8 2465.6h0M332.8 2465.4h0M404.8 2465.3h0M329.8 2465.1h0M407.8 2465h0M362.8 2464.2h0M374.8 2464.1h0M359.8 2464.1h0M377.8 2464h0M356.8 2464h0M380.8 2463.7h0M353.8 2463.7h0M383.8 2463.6h0M350.8 2463.5h0M386.8 2463.5h0M347.8 2463.3h0M389.8 2462.4h0M344.8 2462.1h0M392.8 2462h0M341.8 2461.8h0M395.8 2461.8h0M338.8 2461.7h0M398.8 2461.7h0M335.8 2461.5h0M401.8 2461.5h0M332.8 2461.4h0M404.8 2461.4h0M329.8 2461.3h0M407.8 2461.1h0M362.8 2460.3h0M374.8 2460.3h0M359.8 2460.3h0M377.8 2460.3h0M356.8 2460.2h0M380.8 2459.5h0M353.8 2459.4h0M383.8 2459.4h0M350.8 2459.3h0M386.8 2458.9h0M347.8 2458.9h0M389.8 2458.5h0M344.8 2458.4h0M392.8 2458.4h0M341.8 2458.3h0M395.8 2458.2h0M338.8 2458h0M398.8 2458h0M335.8 2457.8h0M401.8 2457.7h0M332.8 2457.7h0M404.8 2457.6h0M329.8 2457.6h0M407.8 2457.5h0M362.8 2457.1h0M374.8 2457.1h0M359.8 2457.1h0M377.8 2457h0M356.8 2456.7h0M380.8 2456.2h0M353.8 2456.1h0M383.8 2456.1h0M350.8 2456h0M386.8 2456h0M347.8 2455.9h0M389.8 2455.8h0M344.8 2455.7h0M392.8 2455.7h0M341.8 2455.7h0M395.8 2455.2h0M338.8 2455.1h0M398.8 2455h0M335.8 2454.8h0M401.8 2454.7h0M332.8 2454.5h0M404.8 2454.5h0M329.8 2454.1h0M407.8 2453.9h0M368.8 2453.4h0M365.8 2453.3h0M371.8 2453.2h0M362.8 2453.1h0M374.8 2452.8h0M359.8 2452.7h0M377.8 2452.5h0M356.8 2452.5h0M380.8 2452.4h0M353.8 2452.3h0M383.8 2452.2h0M350.8 2452.2h0M386.8 2452.2h0M347.8 2452h0M389.8 2452h0M344.8 2451.9h0M392.8 2451.8h0M341.8 2451.8h0M395.8 2451.7h0M338.8 2450.8h0M398.8 2450.8h0M335.8 2450.8h0M401.8 2450.5h0M332.8 2450.4h0M404.8 2450h0M329.8 2450h0M407.8 2449.9h0M362.8 2449.5h0M374.8 2449.4h0M359.8 2449.3h0M377.8 2449.3h0M356.8 2449.1h0M380.8 2448.9h0M353.8 2448.8h0M383.8 2448.8h0M350.8 2448.7h0M386.8 2448.7h0M347.8 2448.2h0M389.8 2448.1h0M344.8 2448.1h0M392.8 2448h0M341.8 2447.9h0M395.8 2447.4h0M338.8 2447.4h0M398.8 2447.2h0M335.8 2447h0M401.8 2446.7h0M332.8 2446.3h0M404.8 2446h0M329.8 2445.8h0M407.8 2445.8h0M362.8 2445.4h0M374.8 2445.3h0M359.8 2445h0M377.8 2445h0M356.8 2444.8h0M380.8 2444.5h0M353.8 2444.3h0M383.8 2444h0M350.8 2443.7h0M386.8 2443.3h0M347.8 2443.2h0M389.8 2443.1h0M344.8 2442.9h0M392.8 2442.8h0M341.8 2442.6h0M395.8 2442.6h0M338.8 2442.5h0M398.8 2442.4h0M335.8 2442.2h0M401.8 2442.2h0M332.8 2442.2h0M404.8 2442.1h0M329.8 2441.9h0M407.8 2441.7h0M362.8 2441.5h0M374.8 2441.5h0M359.8 2441.3h0M377.8 2441.3h0M356.8 2441.1h0M380.8 2441h0M353.8 2440.9h0M383.8 2440.6h0M350.8 2440.4h0M386.8 2439.9h0M347.8 2439.9h0M389.8 2439.8h0M344.8 2439.8h0M392.8 2439.6h0M341.8 2439.5h0M395.8 2439.2h0M338.8 2439.1h0M398.8 2439h0M335.8 2438.7h0M401.8 2438.5h0M332.8 2438.4h0M404.8 2438.4h0M329.8 2438.2h0M407.8 2438.1h0M361.3 2437.6h0M376.3 2437.6h0M368.8 2437.3h0M365.8 2437.2h0M371.8 2437.2h0M362.8 2437.1h0M374.8 2436.8h0M359.8 2436.4h0M377.8 2436.4h0M356.8 2435.9h0M380.8 2435.4h0M353.8 2435.3h0M383.8 2435.3h0M350.8 2435.3h0M386.8 2435.1h0M347.8 2435h0M389.8 2434.7h0M344.8 2434.7h0M392.8 2434.7h0M341.8 2434.6h0M395.8 2434.4h0M338.8 2434.3h0M398.8 2434h0M335.8 2433.9h0M401.8 2433.7h0M332.8 2433.6h0M404.8 2433.5h0M329.8 2433.4h0M407.8 2433.3h0M362.8 2433.2h0M374.8 2433.2h0M359.8 2433h0M377.8 2432.9h0M356.8 2432.8h0M380.8 2432.8h0M353.8 2432.8h0M383.8 2432.7h0M350.8 2432h0M386.8 2431.8h0M347.8 2431.6h0M389.8 2431.5h0M344.8 2431.4h0M392.8 2431.3h0M341.8 2431.3h0M395.8 2431.2h0M338.8 2430.9h0M398.8 2430.9h0M335.8 2430.9h0M401.8 2430.4h0M332.8 2430.4h0M404.8 2430.3h0M329.8 2430.3h0M407.8 2430.1h0M362.8 2429h0M374.8 2429h0M359.8 2428.7h0M377.8 2428.5h0M356.8 2428.4h0M380.8 2428h0M353.8 2428h0M383.8 2427.6h0M350.8 2427.6h0M386.8 2427.2h0M347.8 2427.1h0M389.8 2427h0M344.8 2427h0M392.8 2426.6h0M341.8 2426.4h0M395.8 2426.3h0M338.8 2426.2h0M398.8 2426h0M335.8 2426h0M401.8 2425.5h0M332.8 2425.3h0M404.8 2425.3h0M329.8 2425.3h0M407.8 2425.2h0M362.8 2424.9h0M374.8 2424.8h0M359.8 2424.3h0M377.8 2424.1h0M356.8 2424h0M380.8 2423.9h0M353.8 2423.9h0M383.8 2423.7h0M350.8 2423.6h0M386.8 2423.6h0M347.8 2423.6h0M389.8 2423.5h0M344.8 2423.5h0M392.8 2423.2h0M341.8 2423.1h0M395.8 2423.1h0M338.8 2423.1h0M398.8 2422.8h0M335.8 2422.7h0M401.8 2422.7h0M332.8 2422.6h0M404.8 2422.5h0M329.8 2422.3h0M407.8 2422.2h0M362.8 2421.7h0M374.8 2421.5h0M368.8 2421h0M365.8 2420.9h0M371.8 2420.5h0M362.8 2419.6h0M374.8 2418.9h0M359.8 2418.9h0M377.8 2418.7h0M356.8 2418.4h0M380.8 2418h0M353.8 2417.5h0M383.8 2417.2h0M350.8 2416.1h0M386.8 2415.4h0M347.8 2415.1h0M389.8 2415h0M344.8 2413.9h0M392.8 2413.8h0M341.8 2413.3h0M395.8 2413h0M338.8 2412.7h0M398.8 2412.4h0M335.8 2411.8h0M401.8 2410.8h0M332.8 2410.8h0M404.8 2410.6h0M329.8 2410.4h0M407.8 2410.3h0M362.8 2409h0M374.8 2408.7h0M359.8 2408.6h0M377.8 2408.6h0M356.8 2408.6h0M380.8 2408.2h0M353.8 2408.2h0M383.8 2407.9h0M350.8 2407.4h0M386.8 2407.4h0M347.8 2407.2h0M389.8 2406.8h0M344.8 2406.8h0M392.8 2406.5h0M368.8 2405.3h0M365.2 2405h0M372.4 2402.6h0M361.6 2401.9h0M376 2401.4h0M358 2400.9h0M379.6 2399.8h0M354.4 2399.5h0M383.2 2399.2h0M350.8 2398.8h0M386.8 2398.6h0M347.3 2397.7h0M390.3 2397.4h0M343.7 2395.8h0M393.9 2395.7h0M340.1 2395.7h0M397.5 2395.3h0M336.5 2394.9h0M401.1 2392.5h0M332.9 2392h0M404.7 2391.7h0M329.3 2390.4h0M408.3 2390.1h0M368.8 2388.2h0M353.3 2386.3h0M384.3 2384.6h0" stroke="#000" stroke-width="9.4" stroke-linecap="round" fill="none"/>
<path d="M504.1 1567.7h0M488.6 1715.8h0M519.6 1722.4h0M504.1 1730.6h0M488.6 1755.1h0M519.6 1755.6h0M504.1 1765.3h0M504.1 1983.8h0M488.6 1993.5h0M519.6 1994h0M504.1 2002.2h0M504.1 2056.3h0M496.4 1961.3h0M511.9 1959.1h0M504.1 1953.2h0M488.6 1950.7h0M519.6 1946.1h0M473.1 1944.6h0M535.1 1941.6h0M504.1 1941.4h0M501.1 1941.1h0M507.1 1940.5h0M498 1940.3h0M510.2 1939.6h0M495 1938.3h0M513.2 1938h0M491.9 1937.5h0M516.3 1937.5h0M488.9 1937.3h0M519.3 1934.6h0M485.9 1933.1h0M522.3 1932.8h0M482.8 1932.1h0M525.4 1931.4h0M479.8 1931.4h0M528.4 1930.8h0M476.8 1930.3h0M531.4 1930.2h0M473.7 1930.1h0M534.5 1928.1h0M470.7 1927.8h0M537.5 1927.4h0M467.6 1927.4h0M540.6 1927.2h0M464.6 1926.8h0M543.6 1926.4h0M504.1 1922.6h0M500.8 1922.6h0M507.4 1922.2h0M497.5 1921.9h0M510.7 1921.8h0M494.2 1921.2h0M514 1920.8h0M490.9 1920.4h0M517.3 1918.7h0M487.6 1918.1h0M520.6 1917.2h0M484.4 1916.5h0M523.9 1916.4h0M481.1 1915.7h0M527.1 1915.5h0M477.8 1915.5h0M530.4 1915.3h0M474.5 1913.7h0M533.7 1913.2h0M471.2 1912.5h0M537 1912.4h0M467.9 1911.7h0M540.3 1911.7h0M464.6 1910.7h0M543.6 1910.1h0M504.1 1909.5h0M501.1 1908.7h0M507.1 1908.4h0M498.1 1907.9h0M510.1 1907.7h0M495.1 1906.4h0M513.1 1905.1h0M492.1 1904.3h0M516.1 1903.4h0M489.1 1903.3h0M519.1 1903h0M486.1 1902.7h0M522.1 1902.1h0M483.1 1902h0M525.1 1901.6h0M480.1 1900.6h0M528.1 1899.4h0M477.1 1898.9h0M531.1 1898.7h0M474.1 1897.2h0M534.1 1897.1h0M471.1 1896.5h0M537.1 1895.7h0M468.1 1895.1h0M540.1 1894.5h0M465.1 1894.3h0M543.1 1894.2h0M504.1 1893.1h0M500.5 1892.7h0M507.7 1892.6h0M496.9 1891h0M511.3 1889.9h0M493.3 1889.7h0M514.9 1889.5h0M489.7 1889.5h0M518.5 1888.1h0M486.1 1887.1h0M522.1 1886.9h0M482.6 1886h0M525.6 1885.8h0M479 1885.3h0M529.2 1885.1h0M475.4 1883.7h0M532.8 1883.6h0M471.8 1883.2h0M536.4 1880.9h0M468.2 1879.3h0M540 1879.1h0M464.6 1878.5h0M543.6 1877.9h0M504.1 1877.5h0M501.1 1877.4h0M507.1 1877.2h0M498.1 1877h0M510.1 1876.9h0M495.1 1876.8h0M513.1 1876.1h0M492.1 1875.5h0M516.1 1875.3h0M489.1 1875h0M519.1 1874.4h0M486.1 1874h0M522.1 1873.9h0M483.1 1873.4h0M525.1 1873.2h0M480.1 1873.2h0M528.1 1872.4h0M477.1 1872.3h0M531.1 1872.2h0M474.1 1872.1h0M534.1 1871.5h0M471.1 1870.9h0M537.1 1870.4h0M468.1 1870.3h0M540.1 1870.1h0M465.1 1869.9h0M543.1 1869.8h0M498.1 1868.1h0M510.1 1867.9h0M495.1 1867.8h0M513.1 1866.1h0M492.1 1865.7h0M516.1 1864.4h0M489.1 1863.9h0M519.1 1863.4h0M486.1 1863.3h0M522.1 1863.3h0M483.1 1862.9h0M525.1 1862h0M480.1 1862h0M528.1 1861.7h0M504.1 1860.3h0M501.1 1860.2h0M507.1 1860.1h0M498.1 1859.7h0M510.1 1859.7h0M495.1 1859.5h0M513.1 1859.5h0M492.1 1858.4h0M516.1 1858h0M489.1 1857.3h0M519.1 1857.1h0M486.1 1856.6h0M522.1 1856.5h0M483.1 1854.5h0M525.1 1854.3h0M480.1 1853.1h0M528.1 1852.9h0M477.1 1852.6h0M531.1 1850.9h0M474.1 1850.9h0M534.1 1850.8h0M471.1 1850.7h0M537.1 1850.2h0M468.1 1850.1h0M540.1 1849.9h0M465.1 1849.6h0M543.1 1849.6h0M504.1 1845.4h0M501.1 1844.6h0M507.1 1844.5h0M498.1 1844.3h0M510.1 1844h0M495.1 1843.9h0M513.1 1842.9h0M492.1 1842h0M516.1 1841h0M489.1 1840.6h0M519.1 1840h0M486.1 1839.5h0M522.1 1838.9h0M483.1 1838.7h0M525.1 1838.5h0M480.1 1837.9h0M528.1 1837.8h0M477.1 1836.6h0M531.1 1835.7h0M474.1 1834.8h0M534.1 1834.6h0M471.1 1834.4h0M537.1 1834.1h0M468.1 1834h0M540.1 1832.8h0M465.1 1832.2h0M543.1 1832.1h0M496.6 1830.5h0M511.6 1830.5h0M493.6 1829.8h0M514.6 1829.7h0M504.1 1829.1h0M500.8 1826.5h0M507.4 1826.1h0M497.5 1825.7h0M510.7 1824.3h0M494.2 1824.3h0M514 1824.1h0M490.9 1823.1h0M517.3 1822h0M487.6 1821.6h0M520.6 1821.6h0M484.4 1820.8h0M523.9 1820.4h0M481.1 1820.3h0M527.1 1819.4h0M477.8 1819.2h0M530.4 1819h0M474.5 1818.5h0M533.7 1818.4h0M471.2 1817.8h0M537 1816h0M467.9 1815.9h0M540.3 1815.6h0M464.6 1815.5h0M543.6 1814.9h0M504.1 1813.4h0M501.1 1813.1h0M507.1 1812.5h0M498.1 1812.3h0M510.1 1812.1h0M495.1 1811.8h0M513.1 1811.8h0M492.1 1811.8h0M516.1 1811h0M489.1 1809.8h0M519.1 1809.6h0M486.1 1809.1h0M522.1 1809.1h0M483.1 1808.8h0M525.1 1808h0M480.1 1807.1h0M528.1 1806.9h0M477.1 1806.9h0M531.1 1806.4h0M474.1 1806.3h0M534.1 1805.7h0M471.1 1805.2h0M537.1 1804.6h0M468.1 1804h0M540.1 1803.7h0M465.1 1803.5h0M543.1 1803.2h0M496.6 1800.4h0M511.6 1800.3h0M493.6 1799.6h0M514.6 1799.3h0M490.6 1798.7h0M517.6 1798.2h0M487.6 1798.1h0M520.6 1798h0M504.1 1795.9h0M500.5 1795.7h0M507.7 1795.1h0M496.9 1793.8h0M511.3 1793.3h0M493.3 1791.4h0M514.9 1791.1h0M489.7 1790.4h0M518.5 1790.3h0M486.1 1789.1h0M522.1 1788.9h0M482.6 1788.4h0M525.6 1788.1h0M479 1787.5h0M529.2 1787.5h0M475.4 1787.3h0M532.8 1786.6h0M471.8 1786.1h0M536.4 1785.1h0M468.2 1784.6h0M540 1782.6h0M464.6 1782.3h0M543.6 1781.9h0M499.7 1781.4h0M508.5 1780.6h0M490.9 1780.4h0M517.3 1778.4h0M482.2 1777.9h0M526 1777h0M473.4 1775.4h0M534.8 1775h0M464.6 1772.3h0M543.6 1769.6h0" stroke="#000" stroke-width="9.4" stroke-linecap="round" fill="none"/>
<path d="M639.5 1650.4h0M639.5 1667.8h0M631.5 1753h0M647.5 1758.6h0M624 2043.5h0M655 2044.6h0M639.5 2053.2h0M639.5 2151.8h0M639.5 2228.4h0M639.5 2020.7h0M624 2018h0M655 2015.4h0M608.5 2012.5h0M670.5 2008.6h0M639.5 2004.8h0M626.3 2004.6h0M652.7 2002.3h0M613.2 2001.1h0M665.8 2000.5h0M600 1999.9h0M679 1991.4h0M635.1 1988.6h0M643.9 1983.4h0M626.3 1983h0M652.7 1982.6h0M617.6 1981.4h0M661.4 1980.7h0M608.8 1978.6h0M670.2 1976.1h0M600 1975.1h0M679 1973.5h0M639.5 1972.6h0M635.9 1972.1h0M643.1 1971.9h0M632.3 1971.2h0M646.7 1970.2h0M628.7 1967.7h0M650.3 1967.1h0M625.1 1966.8h0M653.9 1966.5h0M621.5 1966.4h0M657.5 1966h0M618 1965.4h0M661 1964.1h0M614.4 1964h0M664.6 1963.8h0M610.8 1962.7h0M668.2 1962.6h0M607.2 1962.1h0M671.8 1960.4h0M603.6 1960.2h0M675.4 1960.2h0M600 1959h0M679 1957.8h0M637.6 1957.3h0M641.4 1957.2h0M633.9 1956.8h0M645.1 1956.7h0M630.1 1955.9h0M648.9 1954.8h0M626.3 1952.7h0M652.7 1951.5h0M622.6 1951h0M656.4 1950.8h0M618.8 1949.1h0M660.2 1948.9h0M615 1948.6h0M664 1948.5h0M611.3 1947h0M667.7 1946.6h0M607.5 1945.6h0M671.5 1945.1h0M603.8 1944.4h0M675.2 1944.2h0M600 1942.5h0M679 1941.7h0M639.5 1941.3h0M636.5 1940.7h0M642.5 1940.4h0M633.5 1940h0M645.5 1939.6h0M630.5 1939.5h0M648.5 1938.5h0M627.5 1938.2h0M651.5 1938h0M624.5 1936.3h0M654.5 1935.6h0M621.5 1935.5h0M657.5 1933.8h0M618.5 1933.8h0M660.5 1933.5h0M615.5 1933.1h0M663.5 1933h0M612.5 1931h0M666.5 1930.8h0M609.5 1930h0M669.5 1929.6h0M606.5 1928.4h0M672.5 1927.6h0M603.5 1927.3h0M675.5 1927.2h0M600.5 1927.1h0M678.5 1926.8h0M636.9 1925.3h0M642.1 1923.7h0M631.6 1922.2h0M647.4 1920.5h0M626.3 1920.2h0M652.7 1919.5h0M621.1 1918.4h0M657.9 1917.6h0M615.8 1916.9h0M663.2 1916.3h0M610.5 1916.1h0M668.5 1915.4h0M605.3 1914.2h0M673.7 1913.9h0M600 1912.4h0M679 1910.1h0M639.5 1908.8h0M636.5 1908.3h0M642.5 1908h0M633.5 1907.7h0M645.5 1907.5h0M630.5 1906.8h0M648.5 1906.7h0M627.5 1905.6h0M651.5 1905h0M624.5 1904.6h0M654.5 1904h0M621.5 1903.4h0M657.5 1903.2h0M618.5 1903.2h0M660.5 1903.1h0M615.5 1903h0M663.5 1902.7h0M612.5 1902.6h0M666.5 1902.5h0M609.5 1902.3h0M669.5 1902.3h0M606.5 1901.9h0M672.5 1901.5h0M603.5 1901.2h0M675.5 1900.1h0M600.5 1899.9h0M678.5 1899.9h0M633.5 1897.9h0M645.5 1897.8h0M630.5 1897h0M648.5 1896.9h0M627.5 1896.1h0M651.5 1895.4h0M624.5 1894.7h0M654.5 1894.2h0M621.5 1894.2h0M657.5 1893.9h0M639.5 1893.3h0M636.5 1891.7h0M642.5 1891.3h0M633.5 1889.8h0M645.5 1889.4h0M630.5 1889.1h0M648.5 1888.9h0M627.5 1887.9h0M651.5 1887h0M624.5 1886.6h0M654.5 1885.8h0M621.5 1885h0M657.5 1884.7h0M618.5 1884.6h0M660.5 1883.9h0M615.5 1883.7h0M663.5 1883.4h0M612.5 1882.7h0M666.5 1882.6h0M609.5 1882.4h0M669.5 1882h0M606.5 1880.7h0M672.5 1879.9h0M603.5 1878.9h0M675.5 1878.3h0M600.5 1877.9h0M678.5 1877.6h0M639.5 1877.3h0M636.5 1877.1h0M642.5 1876.6h0M633.4 1875.9h0M645.6 1874.8h0M630.4 1874.5h0M648.6 1873.9h0M627.3 1873.7h0M651.7 1872.5h0M624.3 1871.8h0M654.7 1871.3h0M621.3 1870.6h0M657.7 1870.4h0M618.2 1869.7h0M660.8 1869.6h0M615.2 1868.5h0M663.8 1867.3h0M612.2 1865.8h0M666.8 1865.4h0M609.1 1865.3h0M669.9 1864.2h0M606.1 1864h0M672.9 1863.2h0M603 1863h0M676 1862.9h0M600 1862.5h0M679 1861.8h0M639.5 1861.4h0M636.5 1860.9h0M642.5 1860.8h0M633.5 1860.7h0M645.5 1860.5h0M630.5 1859.8h0M648.5 1858.7h0M627.5 1857.8h0M651.5 1857.2h0M624.5 1857h0M654.5 1857h0M621.5 1856.5h0M657.5 1855.9h0M618.5 1855.6h0M660.5 1854.9h0M615.5 1854.5h0M663.5 1854.1h0M612.5 1853.4h0M666.5 1853.3h0M609.5 1852.8h0M669.5 1852.8h0M606.5 1852.3h0M672.5 1851.9h0M603.5 1851.8h0M675.5 1851.7h0M600.5 1851.4h0M678.5 1849.8h0M632 1846.8h0M647 1845.7h0M639.5 1844.1h0M636.5 1842.2h0M642.5 1842.1h0M633.5 1842h0M645.5 1841.8h0M630.5 1841.8h0M648.5 1841.6h0M627.5 1841.5h0M651.5 1841.3h0M624.5 1841h0M654.5 1840.3h0M621.5 1840.2h0M657.5 1840.1h0M618.5 1839.6h0M660.5 1839.5h0M615.5 1839.3h0M663.5 1838.7h0M612.5 1835.7h0M666.5 1835.5h0M609.5 1834.7h0M669.5 1833.5h0M606.5 1833.4h0M672.5 1832.3h0M603.5 1832.2h0M675.5 1831.9h0M600.5 1831.4h0M678.5 1831.4h0M639.5 1829.5h0M635.9 1828.5h0M643.1 1827.6h0M632.3 1827.2h0M646.7 1827.2h0M628.7 1826.5h0M650.3 1826.4h0M625.1 1825.1h0M653.9 1824.6h0M621.5 1823.5h0M657.5 1823.4h0M618 1823h0M661 1822.7h0M614.4 1821.6h0M664.6 1821.4h0M610.8 1819.4h0M668.2 1819.1h0M607.2 1818.8h0M671.8 1816.7h0M603.6 1816.6h0M675.4 1816.5h0M600 1814.5h0M679 1813.9h0M637.9 1812.8h0M641.1 1812.7h0M634.8 1810.8h0M644.2 1810.8h0M631.6 1810.1h0M647.4 1809.8h0M628.4 1809.6h0M650.6 1809.1h0M625.3 1806.7h0M653.7 1806.5h0M622.1 1804.4h0M656.9 1803.5h0M619 1802.9h0M660 1802.5h0M615.8 1801.9h0M663.2 1801.2h0M612.6 1801.1h0M666.4 1800.6h0M609.5 1800.6h0M669.5 1800.3h0M606.3 1800.3h0M672.7 1799.4h0M603.2 1799.2h0M675.8 1799h0M600 1798.8h0M679 1798h0M639.5 1797.2h0M624 1795.3h0M655 1788.4h0M631.8 1779.6h0M647.2 1779.1h0" stroke="#000" stroke-width="9.4" stroke-linecap="round" fill="none"/>
<path d="M766.8 1800h0M789.8 1813.8h0M782.8 1827.6h0M766.8 1836.3h0M774.8 2243.7h0M774.8 2369.3h0M767 2139.2h0M782.5 2133.9h0M774.8 2133.4h0M759.3 2123h0M790.3 2122.7h0M743.8 2121.3h0M805.8 2119.5h0M774.8 2114.6h0M759.3 2112.8h0M790.3 2109.3h0M743.8 2108.1h0M805.8 2105.4h0M767 2091.4h0M782.5 2088h0M774.8 2085.3h0M759.3 2084.3h0M790.3 2075.2h0M774.8 2063.3h0M761.6 2062h0M788 2060.2h0M748.5 2057.1h0M801.1 2056.5h0M735.3 2055.7h0M814.3 2054h0M767 2048.6h0M782.5 2046.7h0M751.5 2045.8h0M798 2045.7h0M773.1 2037.4h0M776.5 2035.3h0M769.6 2034.3h0M780 2033.5h0M766.2 2032.9h0M783.4 2032.7h0M762.8 2032.5h0M786.8 2032.3h0M759.3 2031.9h0M790.3 2031.3h0M755.9 2031h0M793.7 2030.8h0M752.5 2029.6h0M797.1 2028.8h0M749 2028h0M800.6 2027.7h0M745.6 2027h0M804 2026h0M742.2 2025.7h0M807.4 2025.1h0M738.7 2024.5h0M810.9 2024.3h0M735.3 2022.8h0M814.3 2022.3h0M774.8 2020h0M771.5 2019.9h0M778.1 2019.9h0M768.2 2019.9h0M781.4 2019.3h0M764.9 2018.8h0M784.7 2018.8h0M761.6 2018.5h0M788 2018h0M758.3 2016.5h0M791.3 2016.1h0M755 2015.7h0M794.5 2015.2h0M751.8 2014.7h0M797.8 2013.7h0M748.5 2012.6h0M801.1 2012.4h0M745.2 2009.8h0M804.4 2009.8h0M741.9 2009.6h0M807.7 2009.3h0M738.6 2009.1h0M811 2008h0M735.3 2007.3h0M814.3 2006.3h0M774.8 2004.9h0M771.8 2003.9h0M777.8 2003.6h0M768.8 2002.7h0M780.8 2002.5h0M765.8 2002.5h0M783.8 2002.2h0M762.8 2001.7h0M786.8 2000.1h0M759.8 1999.8h0M789.8 1999.6h0M756.8 1998.4h0M792.8 1996.3h0M753.8 1995.9h0M795.8 1995.4h0M750.8 1995h0M798.8 1994.6h0M747.8 1994.4h0M801.8 1994h0M744.8 1993.6h0M804.8 1993.5h0M741.8 1993.4h0M807.8 1992.8h0M738.8 1992.7h0M810.8 1992.3h0M735.8 1991.5h0M813.8 1990.9h0M774.8 1989.4h0M771.8 1989h0M777.8 1988.8h0M768.8 1987.9h0M780.8 1986.5h0M765.8 1985.1h0M783.8 1983.6h0M762.8 1983.5h0M786.8 1983.4h0M759.8 1983.4h0M789.8 1982h0M756.8 1981.4h0M792.8 1981.4h0M753.8 1981.2h0M795.8 1981.2h0M750.8 1981.1h0M798.8 1980.8h0M747.8 1980.3h0M801.8 1979.4h0M744.8 1979.4h0M804.8 1977.8h0M741.8 1977.7h0M807.8 1976.8h0M738.8 1976.8h0M810.8 1976.7h0M735.8 1976.1h0M813.8 1975.8h0M768.8 1975h0M780.8 1974h0M765.8 1973.7h0M783.8 1973.6h0M774.8 1973.4h0M771.8 1973.4h0M777.8 1972.4h0M768.8 1972h0M780.8 1971.5h0M765.8 1970.2h0M783.8 1969.5h0M762.8 1969.3h0M786.8 1967.3h0M759.8 1966.7h0M789.8 1965.6h0M756.8 1965.3h0M792.8 1964.9h0M753.8 1963.5h0M795.8 1963.2h0M750.8 1963.1h0M798.8 1962.7h0M747.8 1962.4h0M801.8 1962.4h0M744.8 1962.3h0M804.8 1961.5h0M741.8 1961.2h0M807.8 1961.1h0M738.8 1960.5h0M810.8 1960.5h0M735.8 1959.4h0M813.8 1959.4h0M767.3 1958.1h0M782.3 1957.9h0M774.8 1957.4h0M771.8 1957.2h0M777.8 1956.7h0M768.8 1956.5h0M780.8 1955.3h0M765.8 1954.8h0M783.8 1954.7h0M762.8 1953.1h0M786.8 1951.9h0M759.8 1951.7h0M789.8 1951.4h0M756.8 1951.1h0M792.8 1949.7h0M753.8 1948.5h0M795.8 1947.7h0M750.8 1947.4h0M798.8 1946.4h0M747.8 1946.2h0M801.8 1946h0M744.8 1945.2h0M804.8 1944.5h0M741.8 1943.9h0M807.8 1943.1h0M738.8 1942.9h0M810.8 1942.8h0M735.8 1942.7h0M813.8 1942.4h0M774.8 1941.2h0M771.8 1940h0M777.8 1939.7h0M768.7 1939.4h0M780.9 1939.2h0M765.7 1939.1h0M783.9 1938.3h0M762.6 1938h0M787 1937.5h0M759.6 1937.1h0M790 1936.8h0M756.6 1936.6h0M793 1935.9h0M753.5 1935h0M796.1 1933h0M750.5 1932.9h0M799.1 1932.8h0M747.5 1932.5h0M802.1 1932h0M744.4 1931.9h0M805.2 1931.8h0M741.4 1931.5h0M808.2 1929.1h0M738.3 1929h0M811.3 1928.1h0M735.3 1927.6h0M814.3 1925.7h0M774.8 1924h0M771.5 1923.8h0M778.1 1923.4h0M768.2 1923.2h0M781.4 1922.8h0M764.9 1922.3h0M784.7 1922.1h0M761.6 1922h0M788 1921.6h0M758.3 1920.6h0M791.3 1920.2h0M755 1918.9h0M794.5 1914.9h0M751.8 1913.5h0M797.8 1913.4h0M748.5 1911.9h0M801.1 1911.7h0M745.2 1910.9h0M804.4 1910.8h0M741.9 1910.8h0M807.7 1910.4h0M738.6 1910.2h0M811 1909.9h0M735.3 1909.9h0M814.3 1909.6h0M773.1 1909.2h0M776.5 1909h0M769.6 1909h0M780 1908.1h0M766.2 1907.4h0M783.4 1906.9h0M762.8 1905.4h0M786.8 1905.1h0M759.3 1905.1h0M790.3 1905h0M755.9 1904.3h0M793.7 1904.3h0M752.5 1904.2h0M797.1 1904.1h0M749 1903.3h0M800.6 1903h0M745.6 1902.9h0M804 1901.6h0M742.2 1900.9h0M807.4 1899.9h0M738.7 1898.5h0M810.9 1897.8h0M735.3 1896.9h0M814.3 1894.4h0M773.1 1892.2h0M776.5 1890.7h0M769.6 1889.9h0M780 1889.8h0M766.2 1889.2h0M783.4 1888.4h0M762.8 1887.8h0M786.8 1886.7h0M759.3 1886.4h0M790.3 1885.9h0M755.9 1884h0M793.7 1883.6h0M752.5 1882.9h0M797.1 1882.4h0M749 1882.3h0M800.6 1880.8h0M745.6 1880.2h0M804 1880.2h0M742.2 1880h0M807.4 1879.3h0M738.7 1878.4h0M810.9 1878.3h0M735.3 1878.1h0M814.3 1877.8h0M773.2 1876.4h0M776.4 1876.4h0M770.1 1876h0M779.5 1875.4h0M766.9 1874.9h0M782.7 1874.7h0M763.7 1874.3h0M785.9 1873.4h0M760.6 1872.6h0M789 1872.6h0M757.4 1872.5h0M792.2 1871.2h0M754.3 1871.2h0M795.3 1870.9h0M751.1 1870.3h0M798.5 1868.8h0M747.9 1867.8h0M801.7 1867.8h0M744.8 1867.1h0M804.8 1865.2h0M741.6 1864.8h0M808 1864h0M738.5 1863.6h0M811.1 1863.4h0M735.3 1862.5h0M814.3 1861.5h0M774.8 1858.5h0M766.9 1856.2h0M782.7 1855.3h0M759 1852.5h0M790.6 1851.5h0M751.1 1851.5h0M798.5 1850.6h0M743.2 1848.5h0M806.4 1848.4h0M735.3 1846h0M814.3 1845.6h0M774.8 1842.9h0" stroke="#000" stroke-width="9.4" stroke-linecap="round" fill="none"/>
<path d="M910.2 1739.8h0M918.2 1993h0M902.2 1995h0M910.2 1967.2h0M903.6 1967.1h0M916.8 1966.8h0M897 1966.4h0M923.4 1965.2h0M890.5 1964.2h0M930 1961.5h0M883.9 1961.3h0M936.5 1960.6h0M877.3 1959.7h0M943.1 1959.3h0M870.7 1959.2h0M949.7 1957.8h0M908.5 1957.5h0M911.9 1957h0M905 1955.4h0M915.4 1955.3h0M901.6 1954.3h0M918.8 1953.3h0M898.2 1952.9h0M922.2 1952.8h0M894.7 1952.7h0M925.7 1952.2h0M891.3 1952h0M929.1 1951.9h0M887.9 1951.3h0M932.5 1950.9h0M884.4 1950.4h0M936 1950.1h0M881 1949h0M939.4 1948.2h0M877.6 1948.2h0M942.8 1947.5h0M874.1 1947.4h0M946.3 1946.8h0M870.7 1943h0M949.7 1942.1h0M910.2 1940.1h0M907.2 1939.8h0M913.2 1939.6h0M904.2 1939.6h0M916.2 1937.6h0M901.2 1936.9h0M919.2 1936.8h0M898.2 1936h0M922.2 1935.9h0M895.2 1935.1h0M925.2 1934.9h0M892.2 1934.7h0M928.2 1934.5h0M889.2 1933.4h0M931.2 1933.2h0M886.2 1932.8h0M934.2 1932h0M883.2 1931.1h0M937.2 1931h0M880.2 1930.1h0M940.2 1929.2h0M877.2 1928.6h0M943.2 1928.4h0M874.2 1928.1h0M946.2 1928h0M871.2 1927.4h0M949.2 1926.5h0M908.1 1924.8h0M912.3 1924.3h0M904 1924h0M916.4 1923.4h0M899.8 1922.3h0M920.6 1920.7h0M895.6 1920.5h0M924.8 1920.4h0M891.5 1920.1h0M928.9 1920.1h0M887.3 1919.9h0M933.1 1918.6h0M883.2 1918.4h0M937.2 1918.1h0M879 1917.7h0M941.4 1915.2h0M874.9 1914.9h0M945.5 1914.5h0M870.7 1910.3h0M949.7 1910.2h0M910.2 1909.5h0M907.2 1909.2h0M913.2 1908.5h0M904.2 1908.1h0M916.2 1908h0M901.2 1907.9h0M919.2 1906.9h0M898.2 1906.7h0M922.2 1906.4h0M895.2 1906.2h0M925.2 1905.6h0M892.2 1905.4h0M928.2 1905.2h0M889.2 1905h0M931.2 1904.1h0M886.2 1903.7h0M934.2 1903.6h0M883.2 1902.8h0M937.2 1902.8h0M880.2 1902.7h0M940.2 1902.5h0M877.2 1902.2h0M943.2 1901.8h0M874.2 1901.8h0M946.2 1901.5h0M871.2 1900.2h0M949.2 1899.8h0M904.2 1898h0M916.2 1898h0M901.2 1897.4h0M919.2 1897h0M898.2 1895.9h0M922.2 1895.7h0M895.2 1894.8h0M925.2 1894.8h0M892.2 1894.6h0M928.2 1894.2h0M910.2 1893.5h0M907.2 1892.8h0M913.2 1892.5h0M904.2 1892.1h0M916.2 1890.6h0M901.2 1890.3h0M919.2 1890.2h0M898.2 1890h0M922.2 1889.5h0M895.2 1888.4h0M925.2 1887.9h0M892.2 1887.7h0M928.2 1887h0M889.2 1886.7h0M931.2 1886h0M886.2 1885.5h0M934.2 1885.4h0M883.2 1884.2h0M937.2 1884.2h0M880.2 1882.8h0M940.2 1882.5h0M877.2 1882.3h0M943.2 1882.3h0M874.2 1882.1h0M946.2 1881.3h0M871.2 1881.2h0M949.2 1880.3h0M904.2 1878.9h0M916.2 1878.4h0M901.2 1878.2h0M919.2 1877.7h0M910.2 1875.9h0M907.2 1875.6h0M913.2 1875h0M904.1 1874.9h0M916.3 1874.6h0M901.1 1874.5h0M919.3 1873.9h0M898 1873.5h0M922.4 1873.4h0M895 1872.5h0M925.4 1872.2h0M892 1872h0M928.4 1871.9h0M888.9 1871.7h0M931.5 1870.6h0M885.9 1870.6h0M934.5 1869.9h0M882.9 1869.9h0M937.5 1869.7h0M879.8 1869.7h0M940.6 1869.4h0M876.8 1868.6h0M943.6 1866.7h0M873.7 1866.2h0M946.7 1864.9h0M870.7 1864.2h0M949.7 1863.5h0M910.2 1861h0M907.2 1860.7h0M913.2 1860.3h0M904.2 1860.2h0M916.2 1859.5h0M901.2 1859.1h0M919.2 1859.1h0M898.2 1858.8h0M922.2 1858.5h0M895.2 1858.3h0M925.2 1858.1h0M892.2 1857.6h0M928.2 1857.3h0M889.2 1857.1h0M931.2 1855.7h0M886.2 1855.7h0M934.2 1855.5h0M883.2 1855.2h0M937.2 1854.4h0M880.2 1853.5h0M940.2 1852.8h0M877.2 1852.8h0M943.2 1852.7h0M874.2 1852.7h0M946.2 1852.6h0M871.2 1851.7h0M949.2 1851.2h0M904.2 1850.8h0M916.2 1850.1h0M901.2 1850.1h0M919.2 1848.2h0M898.2 1848.2h0M922.2 1847.8h0M895.2 1846.3h0M925.2 1846h0M910.2 1845.2h0M907.2 1844.9h0M913.2 1844.4h0M904.2 1844.3h0M916.2 1844h0M901.2 1843.9h0M919.2 1843h0M898.2 1842.3h0M922.2 1841.3h0M895.2 1841.3h0M925.2 1841h0M892.2 1840.4h0M928.2 1840.2h0M889.2 1838.1h0M931.2 1838h0M886.2 1837.8h0M934.2 1837.2h0M883.2 1837.2h0M937.2 1837h0M880.2 1836.8h0M940.2 1836.3h0M877.2 1836.1h0M943.2 1836h0M874.2 1835.8h0M946.2 1835.4h0M871.2 1834.9h0M949.2 1834.7h0M904.2 1831.7h0M916.2 1829.6h0M910.2 1829.4h0M907.2 1829.3h0M913.2 1829.2h0M904.2 1829.2h0M916.2 1829h0M901.2 1828.6h0M919.2 1828.4h0M898.2 1827.8h0M922.2 1827.7h0M895.2 1827.2h0M925.2 1826.8h0M892.2 1826.3h0M928.2 1825.7h0M889.2 1825.4h0M931.2 1825.2h0M886.2 1824.4h0M934.2 1824.3h0M883.2 1824.1h0M937.2 1823.9h0M880.2 1823.8h0M940.2 1823.7h0M877.2 1823h0M943.2 1822.6h0M874.2 1821.4h0M946.2 1820.6h0M871.2 1820.5h0M949.2 1820.2h0M902.7 1818.1h0M917.7 1816.8h0M899.7 1815.6h0M920.7 1815.5h0M896.7 1815.3h0M923.7 1815.1h0M893.7 1814.4h0M926.7 1813.7h0M910.2 1812.1h0M906.9 1812.1h0M913.5 1812h0M903.6 1811.8h0M916.8 1810.3h0M900.3 1810h0M920.1 1809.1h0M897 1809h0M923.4 1809h0M893.7 1807.8h0M926.7 1807.2h0M890.5 1804.9h0M930 1804.3h0M887.2 1803.9h0M933.2 1803.1h0M883.9 1801.8h0M936.5 1801.5h0M880.6 1801.2h0M939.8 1800.5h0M877.3 1799.1h0M943.1 1799h0M874 1798.7h0M946.4 1798.4h0M870.7 1798.3h0M949.7 1797.7h0M910.2 1795h0M907.2 1795h0M913.2 1794.9h0M904.2 1794.4h0M916.2 1794.2h0M901.2 1793.7h0M919.2 1793.5h0M898.2 1793.4h0M922.2 1792.9h0M895.2 1792.2h0M925.2 1792.2h0M892.2 1792.2h0M928.2 1792.1h0M889.2 1791.9h0M931.2 1791.6h0M886.2 1791.5h0M934.2 1791.5h0M883.2 1789.6h0M937.2 1789.3h0M880.2 1788.9h0M940.2 1788.8h0M877.2 1788.3h0M943.2 1788.2h0M874.2 1788.1h0M946.2 1786.6h0M871.2 1786.3h0M949.2 1785.8h0M904.2 1782.6h0M916.2 1782.2h0M910.2 1779.7h0M906.2 1779.3h0M914.2 1778.2h0M902.3 1777.9h0M918.1 1777.7h0M898.4 1777.6h0M922.1 1777.2h0M894.4 1776.6h0M926 1775.6h0M890.5 1775.2h0M930 1772.6h0M886.5 1772.5h0M933.9 1771.7h0M882.6 1769.7h0M937.9 1769.4h0M878.6 1769.1h0M941.8 1768.1h0M874.7 1767.7h0M945.8 1767.6h0M870.7 1767.4h0M949.7 1765.8h0M905.8 1764.9h0M914.6 1763.8h0M897 1760.2h0M923.4 1759.8h0M888.3 1758.8h0M932.1 1758.5h0M879.5 1758.3h0M940.9 1756.3h0M870.7 1755h0M949.7 1754.5h0" stroke="#000" stroke-width="9.4" stroke-linecap="round" fill="none"/>
<line x1="1343.8" y1="103.7" x2="1343.8" y2="601.8" stroke="#000" stroke-width="3"/>
<line x1="1325.3" y1="600.3" x2="2335.5" y2="600.3" stroke="#000" stroke-width="3"/>
<line x1="1325.3" y1="476.5" x2="1343.8" y2="476.5" stroke="#000" stroke-width="3"/>
<line x1="1325.3" y1="352.8" x2="1343.8" y2="352.8" stroke="#000" stroke-width="3"/>
<line x1="1325.3" y1="229" x2="1343.8" y2="229" stroke="#000" stroke-width="3"/>
<line x1="1325.3" y1="105.2" x2="1343.8" y2="105.2" stroke="#000" stroke-width="3"/>
<text font-size="57" text-anchor="end" transform="translate(1305.6 622.3) scale(1 1.04)">0.0</text>
<text font-size="57" text-anchor="end" transform="translate(1305.6 498.5) scale(1 1.04)">0.5</text>
<text font-size="57" text-anchor="end" transform="translate(1305.6 374.8) scale(1 1.04)">1.0</text>
<text font-size="57" text-anchor="end" transform="translate(1305.6 251) scale(1 1.04)">1.5</text>
<text font-size="57" text-anchor="end" transform="translate(1310.1 127.2) scale(1 1.04)">2.0</text>
<line x1="1414.1" y1="600.3" x2="1414.1" y2="618.8" stroke="#555" stroke-width="4"/>
<line x1="1556" y1="600.3" x2="1556" y2="618.8" stroke="#555" stroke-width="4"/>
<line x1="1697.9" y1="600.3" x2="1697.9" y2="618.8" stroke="#555" stroke-width="4"/>
<line x1="1839.8" y1="600.3" x2="1839.8" y2="618.8" stroke="#555" stroke-width="4"/>
<line x1="1981.7" y1="600.3" x2="1981.7" y2="618.8" stroke="#555" stroke-width="4"/>
<line x1="2123.6" y1="600.3" x2="2123.6" y2="618.8" stroke="#555" stroke-width="4"/>
<line x1="2265.5" y1="600.3" x2="2265.5" y2="618.8" stroke="#555" stroke-width="4"/>
<polygon points="1414.1,240.1 1556,273.5 1697.9,311.9 1839.8,368.1 1981.7,476.5 2123.6,552 2265.5,581.7 2265.5,597.3 2123.6,599.3 1981.7,587.9 1839.8,548.3 1697.9,441.9 1556,376.3 1414.1,335.2" fill="#b3b3b3"/>
<path d="M1414.1 335.2L1556 378.7L1697.9 455.7L1839.8 559.6L1981.7 589.6L2123.6 599.3L2265.5 597.3M1414.1 335.2L1556 378.5L1697.9 454.1L1839.8 557.2L1981.7 589.2L2123.6 599.3L2265.5 597.3M1414.1 335.2L1556 378.2L1697.9 451L1839.8 556.5L1981.7 589.4L2123.6 599.3L2265.5 597.3M1414.1 335.2L1556 378L1697.9 453.2L1839.8 559L1981.7 589.5L2123.6 599.3L2265.5 597.3M1414.1 335.2L1556 377L1697.9 446.2L1839.8 551.1L1981.7 588.1L2123.6 599.3L2265.5 597.3M1414.1 335.2L1556 376.4L1697.9 444.6L1839.8 551.2L1981.7 588.5L2123.6 599.3L2265.5 597.3M1414.1 236.9L1556 271.1L1697.9 308.9L1839.8 352.8L1981.7 451.8L2123.6 544.6L2265.5 577.3M1414.1 237L1556 271.7L1697.9 309.6L1839.8 356.7L1981.7 456.4L2123.6 546.3L2265.5 577.9M1414.1 237.5L1556 271.9L1697.9 309.8L1839.8 357.1L1981.7 457.8L2123.6 546.7L2265.5 577.7M1414.1 238L1556 271.9L1697.9 309.6L1839.8 354.1L1981.7 457.2L2123.6 545.7L2265.5 577.3M1414.1 238.8L1556 272.3L1697.9 310.8L1839.8 361.5L1981.7 463.1L2123.6 549L2265.5 579.9M1414.1 238.8L1556 272.3L1697.9 309.9L1839.8 359.8L1981.7 464.4L2123.6 547.9L2265.5 578.3M1414.1 239.8L1556 273.3L1697.9 311.6L1839.8 366.6L1981.7 475.7L2123.6 551.5L2265.5 581.3M1414.1 240.1L1556 273.9L1697.9 317.1L1839.8 368.1L1981.7 478.1L2123.6 557.8L2265.5 582.1M1414.1 314.3L1556 353.2L1697.9 417.2L1839.8 533.8L1981.7 567.8L2123.6 581.6L2265.5 592.5M1414.1 327.2L1556 374.1L1697.9 441.8L1839.8 548.3L1981.7 586.3L2123.6 594.7L2265.5 595.8M1414.1 308.2L1556 344.6L1697.9 422.7L1839.8 541.4L1981.7 577L2123.6 596.8L2265.5 595.8M1414.1 259.1L1556 287.8L1697.9 320L1839.8 380.9L1981.7 490.3L2123.6 560.5L2265.5 585.1M1414.1 270.8L1556 307.4L1697.9 352.3L1839.8 428.7L1981.7 530.1L2123.6 575L2265.5 589.1M1414.1 283.7L1556 325.6L1697.9 384.9L1839.8 442L1981.7 515.9L2123.6 562.2L2265.5 582.6M1414.1 304.8L1556 339.9L1697.9 390.4L1839.8 469.6L1981.7 537.6L2123.6 577.3L2265.5 591.8M1414.1 317.9L1556 363.4L1697.9 424.4L1839.8 530.4L1981.7 571.6L2123.6 589.5L2265.5 593.7M1414.1 248.8L1556 286.4L1697.9 329.7L1839.8 399.6L1981.7 492.7L2123.6 558.9L2265.5 583.3M1414.1 258L1556 298.8L1697.9 351L1839.8 425.1L1981.7 516.5L2123.6 567.9L2265.5 587.7M1414.1 274.2L1556 300.2L1697.9 345.2L1839.8 430.1L1981.7 514.8L2123.6 573.8L2265.5 586.8M1414.1 272.9L1556 304.7L1697.9 365.6L1839.8 438.4L1981.7 511.6L2123.6 565.3L2265.5 585.8M1414.1 287.1L1556 323.1L1697.9 371.3L1839.8 452.2L1981.7 523.2L2123.6 575.2L2265.5 588.4M1414.1 335.2L1556 373.4L1697.9 421.7L1839.8 507.4L1981.7 566.9L2123.6 587.9L2265.5 594.1M1414.1 307.2L1556 363.9L1697.9 424.4L1839.8 538L1981.7 587.4L2123.6 599.3L2265.5 597.3M1414.1 321.7L1556 348.8L1697.9 407.4L1839.8 485.7L1981.7 551.4L2123.6 590.6L2265.5 594.3M1414.1 268L1556 301.3L1697.9 341.4L1839.8 420.7L1981.7 521.4L2123.6 571.9L2265.5 588.5M1414.1 289.5L1556 313.5L1697.9 366.6L1839.8 434.4L1981.7 509.6L2123.6 563.5L2265.5 584.3M1414.1 242.9L1556 273.5L1697.9 311.9L1839.8 376.5L1981.7 476.6L2123.6 552L2265.5 581.7M1414.1 296.4L1556 344L1697.9 396.2L1839.8 485.2L1981.7 558.9L2123.6 582.6L2265.5 591.4M1414.1 284.6L1556 324.9L1697.9 395.5L1839.8 493.4L1981.7 551.7L2123.6 581.7L2265.5 591.3M1414.1 319.7L1556 361.2L1697.9 411.3L1839.8 503.9L1981.7 558L2123.6 584.7L2265.5 593.7M1414.1 248.2L1556 279.7L1697.9 322.5L1839.8 378.1L1981.7 486.8L2123.6 555.4L2265.5 583.6M1414.1 335.2L1556 366L1697.9 433.9L1839.8 548.3L1981.7 587.9L2123.6 599.3L2265.5 597.2M1414.1 276L1556 284.3L1697.9 338L1839.8 399.8L1981.7 498.7L2123.6 560.8L2265.5 586.7M1414.1 310.4L1556 349.8L1697.9 392.3L1839.8 489.2L1981.7 549.9L2123.6 572.8L2265.5 589.5M1414.1 280.5L1556 317.5L1697.9 359.3L1839.8 432L1981.7 522.4L2123.6 570.7L2265.5 584.8M1414.1 264.1L1556 300.5L1697.9 354.6L1839.8 418.9L1981.7 509.4L2123.6 559.1L2265.5 583M1414.1 255.7L1556 290.7L1697.9 330.3L1839.8 376.1L1981.7 477L2123.6 553.5L2265.5 581.7M1414.1 286.9L1556 330.2L1697.9 389.2L1839.8 483.9L1981.7 571.5L2123.6 588.7L2265.5 593.2M1414.1 299.7L1556 334.5L1697.9 385.4L1839.8 503.6L1981.7 562.3L2123.6 586.5L2265.5 591.2M1414.1 240.1L1556 282.5L1697.9 344.8L1839.8 405.9L1981.7 499.7L2123.6 558.4L2265.5 584M1414.1 335.2L1556 372.8L1697.9 441.8L1839.8 543.5L1981.7 581.1L2123.6 596.8L2265.5 596.1M1414.1 294L1556 327.9L1697.9 386L1839.8 478.8L1981.7 530.3L2123.6 575.2L2265.5 588.2M1414.1 254L1556 294.3L1697.9 337.1L1839.8 399.5L1981.7 490.8L2123.6 562.6L2265.5 585.9M1414.1 287.1L1556 342.6L1697.9 394.9L1839.8 490.6L1981.7 548.6L2123.6 584.4L2265.5 592M1414.1 297.2L1556 331.9L1697.9 382.1L1839.8 475.6L1981.7 538.4L2123.6 579L2265.5 591.6M1414.1 253.4L1556 282L1697.9 323.1L1839.8 390.8L1981.7 478.3L2123.6 552L2265.5 581.7M1414.1 318.2L1556 361.2L1697.9 425.6L1839.8 512.8L1981.7 565.1L2123.6 594.9L2265.5 595.9M1414.1 298.6L1556 346.1L1697.9 416L1839.8 510.8L1981.7 565.4L2123.6 595.7L2265.5 595.3M1414.1 263.2L1556 284.4L1697.9 332.4L1839.8 403.3L1981.7 499.8L2123.6 567L2265.5 585.2M1414.1 271.9L1556 310L1697.9 372.9L1839.8 457.4L1981.7 523.8L2123.6 578.2L2265.5 590.9M1414.1 302.6L1556 330.6L1697.9 388.6L1839.8 484.5L1981.7 544.7L2123.6 582.2L2265.5 592.1M1414.1 288.7L1556 324L1697.9 377.6L1839.8 451.5L1981.7 543.9L2123.6 580.7L2265.5 592.4M1414.1 259.4L1556 293.3L1697.9 338.8L1839.8 439.5L1981.7 514.7L2123.6 562.4L2265.5 586M1414.1 299.2L1556 349.3L1697.9 398.6L1839.8 470L1981.7 537.6L2123.6 578.2L2265.5 589.4M1414.1 252.2L1556 278.5L1697.9 330.3L1839.8 380.2L1981.7 487.5L2123.6 564.1L2265.5 585.8M1414.1 268.1L1556 312.9L1697.9 351.4L1839.8 432.9L1981.7 513.6L2123.6 569.9L2265.5 588M1414.1 278.3L1556 317.9L1697.9 380.2L1839.8 447.1L1981.7 519.2L2123.6 571.3L2265.5 587.8M1414.1 286L1556 329.5L1697.9 379.3L1839.8 457.5L1981.7 538L2123.6 575.5L2265.5 588.6M1414.1 279.1L1556 317.9L1697.9 369.1L1839.8 441.1L1981.7 521.9L2123.6 568.5L2265.5 588.6M1414.1 273.1L1556 310.5L1697.9 372.1L1839.8 443.5L1981.7 512.4L2123.6 563.5L2265.5 584.5M1414.1 330.5L1556 374.8L1697.9 441.9L1839.8 533.1L1981.7 577L2123.6 594.7L2265.5 595.3M1414.1 331.5L1556 376.3L1697.9 437L1839.8 536.9L1981.7 576L2123.6 590.4L2265.5 596M1414.1 329.8L1556 376.3L1697.9 441.9L1839.8 534.6L1981.7 570.2L2123.6 587.9L2265.5 593.5M1414.1 240.5L1556 276.9L1697.9 312.8L1839.8 368.1L1981.7 479.6L2123.6 555.5L2265.5 582.9M1414.1 328.4L1556 367.7L1697.9 425.6L1839.8 547.5L1981.7 587.9L2123.6 598.7L2265.5 597.3M1414.1 288L1556 332.4L1697.9 388.1L1839.8 487.6L1981.7 548.4L2123.6 576.5L2265.5 590M1414.1 279.7L1556 325L1697.9 379.5L1839.8 475.2L1981.7 536.3L2123.6 581.5L2265.5 589.9M1414.1 307.5L1556 340.3L1697.9 381.2L1839.8 474.9L1981.7 534.3L2123.6 582.9L2265.5 591.6M1414.1 324.5L1556 376.3L1697.9 441.9L1839.8 542.9L1981.7 565.4L2123.6 591.9L2265.5 593.9M1414.1 312.5L1556 347L1697.9 388.8L1839.8 491.4L1981.7 548L2123.6 581.1L2265.5 593M1414.1 279.8L1556 323.8L1697.9 358.5L1839.8 431.9L1981.7 517.3L2123.6 564L2265.5 585.4M1414.1 240.1L1556 273.5L1697.9 311.9L1839.8 387.1L1981.7 501.5L2123.6 558.6L2265.5 585M1414.1 270.7L1556 308L1697.9 368.1L1839.8 423.8L1981.7 519.5L2123.6 570.7L2265.5 588.1M1414.1 264.2L1556 299.8L1697.9 347.2L1839.8 409.8L1981.7 498.4L2123.6 562.9L2265.5 585.1M1414.1 257.8L1556 293.4L1697.9 343.5L1839.8 412.3L1981.7 500.8L2123.6 554.3L2265.5 583M1414.1 273.2L1556 325.3L1697.9 394.5L1839.8 498.7L1981.7 558.2L2123.6 578L2265.5 589.8M1414.1 256.2L1556 310L1697.9 380.7L1839.8 449.7L1981.7 525.4L2123.6 577.4L2265.5 588.8M1414.1 240.1L1556 273.5L1697.9 319.4L1839.8 393.5L1981.7 485.1L2123.6 559.6L2265.5 583.2M1414.1 324.6L1556 364.1L1697.9 430.8L1839.8 545.1L1981.7 583.9L2123.6 599.3L2265.5 597.3M1414.1 305.4L1556 353.7L1697.9 396.6L1839.8 489.8L1981.7 561.3L2123.6 583.1L2265.5 590M1414.1 304.5L1556 343L1697.9 406.5L1839.8 503.5L1981.7 547.2L2123.6 580.6L2265.5 591M1414.1 248.9L1556 276.5L1697.9 311.9L1839.8 373.1L1981.7 478.7L2123.6 552L2265.5 581.7M1414.1 269.3L1556 305L1697.9 362.5L1839.8 429L1981.7 521.7L2123.6 573L2265.5 588.3M1414.1 267.6L1556 307.5L1697.9 360.6L1839.8 419.8L1981.7 514.5L2123.6 570.2L2265.5 585.3M1414.1 270.8L1556 296.5L1697.9 342.5L1839.8 429.8L1981.7 510.9L2123.6 564.2L2265.5 584.6M1414.1 266.2L1556 290.9L1697.9 344.2L1839.8 393.5L1981.7 490.8L2123.6 560.1L2265.5 584.8M1414.1 320.6L1556 374.4L1697.9 438.7L1839.8 545.8L1981.7 587.8L2123.6 599.3L2265.5 597.3M1414.1 314.6L1556 356.9L1697.9 423.2L1839.8 532.4L1981.7 571.8L2123.6 591.1L2265.5 595.4M1414.1 284.4L1556 313.9L1697.9 361.7L1839.8 434L1981.7 520L2123.6 571.4L2265.5 587.9M1414.1 266.5L1556 308.1L1697.9 361.2L1839.8 418.3L1981.7 505.7L2123.6 564.3L2265.5 586.5M1414.1 301.8L1556 331L1697.9 393.4L1839.8 462.6L1981.7 544.4L2123.6 583.4L2265.5 591.5M1414.1 318.3L1556 363.8L1697.9 436.2L1839.8 548.3L1981.7 587.9L2123.6 599.3L2265.5 597.3M1414.1 335.2L1556 376.3L1697.9 417.6L1839.8 526L1981.7 584.6L2123.6 593.5L2265.5 594M1414.1 300.6L1556 346.7L1697.9 393.4L1839.8 485.3L1981.7 555.7L2123.6 585.8L2265.5 591.4M1414.1 280.2L1556 327.5L1697.9 359L1839.8 408.7L1981.7 493.6L2123.6 559.8L2265.5 583.5M1414.1 274L1556 320.4L1697.9 384.2L1839.8 477.9L1981.7 547.3L2123.6 580L2265.5 590.2M1414.1 304.5L1556 337.9L1697.9 394.5L1839.8 466.6L1981.7 545.1L2123.6 591L2265.5 595.1M1414.1 240.1L1556 275L1697.9 311.9L1839.8 368.1L1981.7 476.5L2123.6 553.9L2265.5 582.2M1414.1 278.2L1556 323.3L1697.9 373.5L1839.8 440.4L1981.7 515.8L2123.6 566.9L2265.5 586.1M1414.1 309.8L1556 340.8L1697.9 377.8L1839.8 458.8L1981.7 530.3L2123.6 571.2L2265.5 586.1M1414.1 268.2L1556 303.2L1697.9 361.2L1839.8 421.3L1981.7 511.5L2123.6 573L2265.5 588.8M1414.1 250.4L1556 284.4L1697.9 334.7L1839.8 385.1L1981.7 499.3L2123.6 560.7L2265.5 583.9M1414.1 240.1L1556 273.5L1697.9 311.9L1839.8 368.8L1981.7 476.5L2123.6 554.3L2265.5 581.9M1414.1 261L1556 298.1L1697.9 322L1839.8 390.8L1981.7 488.4L2123.6 556L2265.5 582.3M1414.1 329.8L1556 362.8L1697.9 439.4L1839.8 544.6L1981.7 587.9L2123.6 598.4L2265.5 597.3M1414.1 258.7L1556 282.7L1697.9 317.7L1839.8 372L1981.7 476.5L2123.6 555.3L2265.5 585.3M1414.1 298.2L1556 326.6L1697.9 358L1839.8 449.9L1981.7 506.2L2123.6 559L2265.5 583M1414.1 252.9L1556 286.6L1697.9 332.9L1839.8 395.2L1981.7 504.6L2123.6 562.2L2265.5 585.2M1414.1 255.2L1556 298L1697.9 329.8L1839.8 406.5L1981.7 492.7L2123.6 564.5L2265.5 585.4M1414.1 245L1556 283.8L1697.9 346.1L1839.8 430.4L1981.7 514.3L2123.6 565.8L2265.5 588M1414.1 271.4L1556 308.8L1697.9 362.6L1839.8 449.2L1981.7 519.4L2123.6 566.7L2265.5 585.7M1414.1 313.9L1556 354.7L1697.9 428.4L1839.8 517.4L1981.7 568L2123.6 592.5L2265.5 593.4M1414.1 275.5L1556 302.3L1697.9 341.2L1839.8 425.6L1981.7 515.2L2123.6 564.8L2265.5 586.8M1414.1 259.1L1556 282.8L1697.9 311.9L1839.8 368.1L1981.7 478L2123.6 552L2265.5 581.7M1414.1 252.2L1556 282.7L1697.9 330.8L1839.8 376.9L1981.7 484L2123.6 553L2265.5 583.8M1414.1 270.4L1556 313.7L1697.9 381.3L1839.8 435.2L1981.7 519.1L2123.6 569.2L2265.5 586.1M1414.1 245.8L1556 290.2L1697.9 330.9L1839.8 399.9L1981.7 491.9L2123.6 557.9L2265.5 585.3M1414.1 320.2L1556 354.3L1697.9 409.8L1839.8 498.3L1981.7 573.9L2123.6 599.3L2265.5 597.3M1414.1 273.8L1556 307.1L1697.9 356L1839.8 445.2L1981.7 531.5L2123.6 574.9L2265.5 589.2M1414.1 258.5L1556 295.4L1697.9 338.3L1839.8 418.2L1981.7 510.5L2123.6 564.6L2265.5 585.2M1414.1 307.1L1556 345.5L1697.9 421.3L1839.8 548.3L1981.7 568.5L2123.6 588.1L2265.5 593.7M1414.1 323.8L1556 353.5L1697.9 440.3L1839.8 548.3L1981.7 580.6L2123.6 595.7L2265.5 595.3M1414.1 292.9L1556 338.5L1697.9 407.5L1839.8 496.9L1981.7 544.1L2123.6 580.9L2265.5 590M1414.1 268.1L1556 293L1697.9 321.1L1839.8 368.1L1981.7 480.2L2123.6 557.7L2265.5 585M1414.1 256.7L1556 287.5L1697.9 343.6L1839.8 409.4L1981.7 501.9L2123.6 562.5L2265.5 585.2M1414.1 281.5L1556 317.3L1697.9 365L1839.8 451.1L1981.7 524.5L2123.6 572.8L2265.5 591.1M1414.1 330.8L1556 364.3L1697.9 428.3L1839.8 530.9L1981.7 575.4L2123.6 594L2265.5 596.1M1414.1 264.7L1556 312.3L1697.9 364.3L1839.8 431.9L1981.7 512.7L2123.6 565.4L2265.5 585.2M1414.1 312.3L1556 329.1L1697.9 392.1L1839.8 476.3L1981.7 546.4L2123.6 583.6L2265.5 591.8M1414.1 259.2L1556 299.7L1697.9 337.9L1839.8 396.8L1981.7 477.9L2123.6 552L2265.5 581.7M1414.1 260.6L1556 297L1697.9 355L1839.8 427.7L1981.7 514.8L2123.6 569.1L2265.5 587.9M1414.1 283.8L1556 313.5L1697.9 368.4L1839.8 460.2L1981.7 535.9L2123.6 576.3L2265.5 590.2M1414.1 255.7L1556 288L1697.9 339.9L1839.8 412.7L1981.7 509.6L2123.6 565.4L2265.5 587.5M1414.1 269.5L1556 305L1697.9 360.7L1839.8 444.1L1981.7 522.5L2123.6 569.8L2265.5 586.6M1414.1 329.8L1556 359.4L1697.9 417.6L1839.8 509.2L1981.7 561.2L2123.6 591.6L2265.5 595.2M1414.1 314.3L1556 353.3L1697.9 441.9L1839.8 548.3L1981.7 585L2123.6 593.4L2265.5 594.6M1414.1 240.1L1556 273.5L1697.9 311.9L1839.8 386.9L1981.7 481L2123.6 552L2265.5 582.4M1414.1 244.4L1556 281.8L1697.9 323.5L1839.8 387.8L1981.7 486.8L2123.6 557.9L2265.5 583M1414.1 266.5L1556 315.1L1697.9 369.2L1839.8 440.5L1981.7 521.1L2123.6 571.3L2265.5 588M1414.1 283.8L1556 313.9L1697.9 377.8L1839.8 465.8L1981.7 535.5L2123.6 580.1L2265.5 590.8M1414.1 314.3L1556 354.3L1697.9 417.8L1839.8 541.2L1981.7 585.1L2123.6 599.3L2265.5 595.8M1414.1 241.7L1556 279.4L1697.9 311.9L1839.8 368.1L1981.7 476.5L2123.6 552L2265.5 581.7M1414.1 316.9L1556 359.2L1697.9 432.5L1839.8 548.3L1981.7 587.9L2123.6 596.6L2265.5 596M1414.1 265.1L1556 305.5L1697.9 355.1L1839.8 422.8L1981.7 525.1L2123.6 570.1L2265.5 589.4M1414.1 266.5L1556 304.9L1697.9 361.8L1839.8 453L1981.7 530.9L2123.6 579L2265.5 587.7M1414.1 273.6L1556 314L1697.9 373.7L1839.8 487.1L1981.7 552.3L2123.6 583.1L2265.5 593.8M1414.1 320.1L1556 360.3L1697.9 418.2L1839.8 509.1L1981.7 560.1L2123.6 590L2265.5 593.2M1414.1 246L1556 274.5L1697.9 316.2L1839.8 391.6L1981.7 486L2123.6 560L2265.5 585.4M1414.1 240.3L1556 275L1697.9 335.9L1839.8 391.5L1981.7 476.5L2123.6 552L2265.5 582.4M1414.1 283.5L1556 313.6L1697.9 362.3L1839.8 453L1981.7 522.8L2123.6 569.5L2265.5 589.1M1414.1 295.9L1556 333.9L1697.9 383.2L1839.8 456.4L1981.7 526.6L2123.6 573.7L2265.5 590.5M1414.1 309.2L1556 333.1L1697.9 387.6L1839.8 473.8L1981.7 529.8L2123.6 569.6L2265.5 587.1M1414.1 275.3L1556 307.2L1697.9 362.7L1839.8 440.7L1981.7 522.5L2123.6 573.3L2265.5 591.2M1414.1 314.8L1556 354.9L1697.9 418.8L1839.8 510.7L1981.7 559L2123.6 584.1L2265.5 593.3M1414.1 325.8L1556 373L1697.9 441.9L1839.8 548.3L1981.7 587.9L2123.6 591.7L2265.5 595M1414.1 299.9L1556 323.7L1697.9 384.8L1839.8 471.6L1981.7 547.1L2123.6 582.5L2265.5 591.8M1414.1 300.6L1556 339.2L1697.9 379.3L1839.8 468.7L1981.7 540.4L2123.6 582.3L2265.5 594.8M1414.1 266.2L1556 305.5L1697.9 370.6L1839.8 446.1L1981.7 524.2L2123.6 568.8L2265.5 586.2M1414.1 268.4L1556 318.1L1697.9 357.6L1839.8 429.2L1981.7 505.3L2123.6 560.5L2265.5 584.9M1414.1 269.4L1556 321.3L1697.9 373.8L1839.8 452L1981.7 537.6L2123.6 575.5L2265.5 589.4M1414.1 314.2L1556 367.4L1697.9 423.2L1839.8 514.3L1981.7 568L2123.6 592.4L2265.5 595.4M1414.1 265.7L1556 316.9L1697.9 359.2L1839.8 454.3L1981.7 532.7L2123.6 577L2265.5 589.7M1414.1 294.6L1556 327.4L1697.9 372.7L1839.8 435.4L1981.7 524.9L2123.6 583.8L2265.5 591.8M1414.1 319.8L1556 363.9L1697.9 427.2L1839.8 524.2L1981.7 587.9L2123.6 599.3L2265.5 597.3M1414.1 256.9L1556 279.6L1697.9 319.5L1839.8 401.4L1981.7 478.6L2123.6 556.4L2265.5 582.4M1414.1 283.1L1556 329.5L1697.9 372.6L1839.8 451.3L1981.7 538.3L2123.6 582.1L2265.5 592.1M1414.1 307.5L1556 338.9L1697.9 397.4L1839.8 477.7L1981.7 530.4L2123.6 570.4L2265.5 586.1M1414.1 304.2L1556 333.3L1697.9 384.4L1839.8 470.3L1981.7 548.8L2123.6 588.3L2265.5 595M1414.1 319.6L1556 365.8L1697.9 434.6L1839.8 529.3L1981.7 578.6L2123.6 595.9L2265.5 594.6M1414.1 279.7L1556 324.5L1697.9 373.2L1839.8 451.5L1981.7 526.6L2123.6 574.9L2265.5 590.5M1414.1 264.8L1556 292.3L1697.9 326.7L1839.8 405L1981.7 494.1L2123.6 561.2L2265.5 584.2M1414.1 301.6L1556 332.1L1697.9 381.6L1839.8 481.3L1981.7 562.4L2123.6 590.4L2265.5 595.8M1414.1 304.1L1556 331.3L1697.9 388.5L1839.8 455.6L1981.7 520.8L2123.6 572.4L2265.5 590.4M1414.1 256.1L1556 273.5L1697.9 311.9L1839.8 368.1L1981.7 476.5L2123.6 555.7L2265.5 582.7M1414.1 240.1L1556 273.5L1697.9 341.8L1839.8 390.9L1981.7 498.1L2123.6 558.4L2265.5 584.4M1414.1 329.8L1556 368.8L1697.9 441.7L1839.8 528.9L1981.7 572.5L2123.6 592.8L2265.5 594.3M1414.1 258.7L1556 291.8L1697.9 331.2L1839.8 390L1981.7 497.6L2123.6 565.1L2265.5 585.8M1414.1 257L1556 288.1L1697.9 340.8L1839.8 400.8L1981.7 489.6L2123.6 554L2265.5 582M1414.1 281.3L1556 323.5L1697.9 369.3L1839.8 468.8L1981.7 532.2L2123.6 578.4L2265.5 589.1M1414.1 318.2L1556 366.8L1697.9 439L1839.8 548.3L1981.7 582.2L2123.6 595.6L2265.5 595.9M1414.1 292.9L1556 325.4L1697.9 360.9L1839.8 436.5L1981.7 517L2123.6 575.8L2265.5 591.1M1414.1 311L1556 348.4L1697.9 396.3L1839.8 490.8L1981.7 556.4L2123.6 587.7L2265.5 593.3M1414.1 277.8L1556 311.9L1697.9 357L1839.8 420.2L1981.7 508.4L2123.6 565L2265.5 584M1414.1 269.5L1556 304.9L1697.9 356L1839.8 435.4L1981.7 525L2123.6 572.6L2265.5 589.2M1414.1 273.5L1556 310.7L1697.9 347.8L1839.8 414.3L1981.7 497.9L2123.6 563.3L2265.5 585.3M1414.1 240.1L1556 273.5L1697.9 311.9L1839.8 368.1L1981.7 486.3L2123.6 559.2L2265.5 583.6M1414.1 250L1556 285.7L1697.9 330.9L1839.8 397.1L1981.7 504.6L2123.6 569.1L2265.5 587.5M1414.1 332.6L1556 376.3L1697.9 441.9L1839.8 545.3L1981.7 587.9L2123.6 599.3L2265.5 597.3M1414.1 253.8L1556 285.7L1697.9 332.1L1839.8 391.4L1981.7 489.6L2123.6 557.1L2265.5 581.7M1414.1 245.7L1556 276.5L1697.9 318.2L1839.8 393.1L1981.7 486.4L2123.6 555.4L2265.5 582.8M1414.1 335.2L1556 376.3L1697.9 439.4L1839.8 548.3L1981.7 587.9L2123.6 599.3L2265.5 597.3M1414.1 259.7L1556 298.7L1697.9 339.2L1839.8 410.3L1981.7 506.4L2123.6 566.3L2265.5 584.7M1414.1 256.6L1556 300.9L1697.9 341L1839.8 426.8L1981.7 509.2L2123.6 570.1L2265.5 585.5M1414.1 294.5L1556 326.6L1697.9 396.9L1839.8 490.1L1981.7 540.3L2123.6 575.3L2265.5 591.4M1414.1 325.7L1556 374.5L1697.9 441.9L1839.8 524.2L1981.7 572.4L2123.6 593.8L2265.5 596M1414.1 265.2L1556 308.3L1697.9 342.1L1839.8 425.6L1981.7 514.9L2123.6 566.9L2265.5 584.7M1414.1 325L1556 355.7L1697.9 410.4L1839.8 490.2L1981.7 543.9L2123.6 579.9L2265.5 590.3M1414.1 268.6L1556 292.4L1697.9 355.9L1839.8 442.4L1981.7 510.9L2123.6 565.3L2265.5 587M1414.1 251.9L1556 291.1L1697.9 327.2L1839.8 391.8L1981.7 492.7L2123.6 559.4L2265.5 582.9M1414.1 332.5L1556 368.8L1697.9 441.9L1839.8 548.3L1981.7 583.7L2123.6 597.7L2265.5 597.1M1414.1 318.2L1556 335.9L1697.9 401L1839.8 498.5L1981.7 569.6L2123.6 593.2L2265.5 593.6M1414.1 318.6L1556 362.6L1697.9 407.4L1839.8 499.2L1981.7 568.6L2123.6 588.6L2265.5 594.3M1414.1 291.2L1556 327.2L1697.9 379.1L1839.8 474.5L1981.7 555.4L2123.6 582.3L2265.5 591.9M1414.1 277.7L1556 330.3L1697.9 396.8L1839.8 467.8L1981.7 545.3L2123.6 582.8L2265.5 593.7M1414.1 329.2L1556 372L1697.9 437.8L1839.8 548.3L1981.7 587.9L2123.6 599.3L2265.5 597M1414.1 297.4L1556 334.4L1697.9 388L1839.8 483.4L1981.7 539.8L2123.6 582.8L2265.5 593.8M1414.1 262.7L1556 307.3L1697.9 342.6L1839.8 412L1981.7 516.9L2123.6 570.2L2265.5 585.7M1414.1 304.9L1556 340.2L1697.9 384.1L1839.8 455.4L1981.7 533.9L2123.6 576L2265.5 589.3M1414.1 251.6L1556 287.3L1697.9 317.3L1839.8 381.3L1981.7 480.3L2123.6 557.2L2265.5 584.4M1414.1 299L1556 330.9L1697.9 390.6L1839.8 477.1L1981.7 545.2L2123.6 582.6L2265.5 591.8M1414.1 248.3L1556 292.2L1697.9 333.2L1839.8 401L1981.7 505.1L2123.6 563.4L2265.5 586.6M1414.1 242.4L1556 292.2L1697.9 333.8L1839.8 393.3L1981.7 500.7L2123.6 560.7L2265.5 584.3M1414.1 300.9L1556 349.9L1697.9 402.9L1839.8 498.5L1981.7 566.6L2123.6 591.1L2265.5 595.1M1414.1 278.9L1556 317.5L1697.9 372.7L1839.8 432L1981.7 526L2123.6 569.5L2265.5 589.6M1414.1 296.2L1556 331.8L1697.9 393.2L1839.8 508.3L1981.7 576.8L2123.6 590.2L2265.5 594.2M1414.1 311.8L1556 357.4L1697.9 426L1839.8 543.9L1981.7 576L2123.6 587.6L2265.5 594.7M1414.1 327.2L1556 352L1697.9 435.5L1839.8 538.8L1981.7 577.4L2123.6 599.3L2265.5 597M1414.1 258.7L1556 298.9L1697.9 340.8L1839.8 417.6L1981.7 502.9L2123.6 563L2265.5 585.9M1414.1 292.3L1556 322.1L1697.9 365.7L1839.8 453L1981.7 532.7L2123.6 570.3L2265.5 587M1414.1 327.1L1556 367.2L1697.9 433.2L1839.8 548.3L1981.7 578.2L2123.6 593.4L2265.5 595.7M1414.1 259.8L1556 295.5L1697.9 332.1L1839.8 402.3L1981.7 489.1L2123.6 557.2L2265.5 584.4M1414.1 333.3L1556 376.3L1697.9 441.9L1839.8 544.9L1981.7 574.8L2123.6 594.1L2265.5 597.1M1414.1 289.5L1556 329.5L1697.9 386L1839.8 490.2L1981.7 547.3L2123.6 581L2265.5 589.5M1414.1 275.3L1556 302.4L1697.9 351.8L1839.8 430.4L1981.7 516L2123.6 573.5L2265.5 589.1M1414.1 244.9L1556 279.3L1697.9 338.5L1839.8 405.4L1981.7 488.2L2123.6 563.7L2265.5 586.6M1414.1 321.1L1556 365.7L1697.9 428.5L1839.8 548.3L1981.7 585.9L2123.6 597.2L2265.5 597.3M1414.1 256.2L1556 292.7L1697.9 332.3L1839.8 388.3L1981.7 491.4L2123.6 555L2265.5 582.3M1414.1 240.1L1556 273.5L1697.9 311.9L1839.8 377.4L1981.7 478.7L2123.6 552L2265.5 581.7M1414.1 258.5L1556 293.9L1697.9 331.5L1839.8 399.6L1981.7 487.3L2123.6 557L2265.5 584.1M1414.1 323.1L1556 360.5L1697.9 417.6L1839.8 530.8L1981.7 582.7L2123.6 595.9L2265.5 595.7M1414.1 292.3L1556 321.5L1697.9 373.5L1839.8 443.8L1981.7 512.2L2123.6 565.9L2265.5 588.4M1414.1 274.3L1556 294L1697.9 355.9L1839.8 408.2L1981.7 502.6L2123.6 559.8L2265.5 584.6M1414.1 325.9L1556 365.6L1697.9 418.1L1839.8 516.3L1981.7 571.5L2123.6 593.1L2265.5 595.9M1414.1 252.7L1556 296.1L1697.9 356.6L1839.8 430.1L1981.7 500.6L2123.6 558.5L2265.5 582.3M1414.1 329.1L1556 368.6L1697.9 441.9L1839.8 548.3L1981.7 582.7L2123.6 599.3L2265.5 597.3M1414.1 299.5L1556 328.5L1697.9 355.9L1839.8 409.4L1981.7 514.5L2123.6 576.3L2265.5 589.5M1414.1 281.8L1556 322.3L1697.9 377.6L1839.8 458.2L1981.7 533.4L2123.6 574.1L2265.5 587.7M1414.1 245.1L1556 273.5L1697.9 321.3L1839.8 394.6L1981.7 488.1L2123.6 552L2265.5 581.7M1414.1 320.1L1556 352.3L1697.9 417.1L1839.8 503.8L1981.7 556.5L2123.6 584.3L2265.5 590.7M1414.1 328.3L1556 361.3L1697.9 438.7L1839.8 529.3L1981.7 552.3L2123.6 582L2265.5 590.9M1414.1 255.3L1556 292.6L1697.9 328.5L1839.8 393.2L1981.7 494.7L2123.6 558.9L2265.5 583.9M1414.1 307.7L1556 344.5L1697.9 417.1L1839.8 497.7L1981.7 555.8L2123.6 584.5L2265.5 591.5M1414.1 335.2L1556 376.1L1697.9 438L1839.8 527.7L1981.7 580.5L2123.6 596.6L2265.5 595.8M1414.1 334.6L1556 372.7L1697.9 441.9L1839.8 525.1L1981.7 580.3L2123.6 595.5L2265.5 596.3M1414.1 311.7L1556 342.1L1697.9 383.2L1839.8 457.4L1981.7 534.4L2123.6 573.1L2265.5 590.2M1414.1 328.6L1556 363.8L1697.9 436.2L1839.8 548.3L1981.7 573L2123.6 594.4L2265.5 597.3M1414.1 316.6L1556 346.3L1697.9 402.9L1839.8 476.6L1981.7 540.8L2123.6 577.3L2265.5 588.8M1414.1 303.7L1556 344.5L1697.9 407L1839.8 489.9L1981.7 557.9L2123.6 586L2265.5 593.8M1414.1 326.4L1556 357.7L1697.9 416.9L1839.8 511.5L1981.7 550.7L2123.6 593.6L2265.5 596.7M1414.1 240.8L1556 273.5L1697.9 311.9L1839.8 368.1L1981.7 483.4L2123.6 552L2265.5 581.7M1414.1 330.2L1556 367.3L1697.9 435L1839.8 544.3L1981.7 583.4L2123.6 596.5L2265.5 597.3M1414.1 283.2L1556 328.5L1697.9 378.2L1839.8 457.9L1981.7 531.2L2123.6 576.6L2265.5 589.8M1414.1 330.8L1556 365.7L1697.9 438.2L1839.8 546.1L1981.7 580.2L2123.6 595.9L2265.5 593M1414.1 318.2L1556 357L1697.9 404.1L1839.8 499.1L1981.7 569.4L2123.6 587.3L2265.5 594.4M1414.1 314.3L1556 358.8L1697.9 424.1L1839.8 516.9L1981.7 570.1L2123.6 590.7L2265.5 595.6M1414.1 329.6L1556 376.3L1697.9 424.6L1839.8 518.1L1981.7 561.5L2123.6 591.5L2265.5 594.8M1414.1 295.2L1556 328.8L1697.9 388.9L1839.8 477.5L1981.7 556.9L2123.6 582.6L2265.5 590.9M1414.1 277.5L1556 318.1L1697.9 356.3L1839.8 433.3L1981.7 514.6L2123.6 567.7L2265.5 588.2M1414.1 270.9L1556 305.1L1697.9 352.6L1839.8 446.4L1981.7 522.1L2123.6 569.5L2265.5 587.4M1414.1 302.7L1556 332.5L1697.9 384.3L1839.8 445L1981.7 516.8L2123.6 566.4L2265.5 584.8M1414.1 264.7L1556 296.1L1697.9 335.3L1839.8 380L1981.7 476.5L2123.6 552L2265.5 581.7M1414.1 280.7L1556 320.8L1697.9 362.8L1839.8 444.9L1981.7 526.9L2123.6 572.8L2265.5 589.2M1414.1 266.2L1556 298.6L1697.9 346.4L1839.8 413.1L1981.7 501L2123.6 568.9L2265.5 584.4M1414.1 273.4L1556 322.8L1697.9 367.5L1839.8 438.5L1981.7 522.3L2123.6 570.2L2265.5 586.1M1414.1 335.2L1556 365L1697.9 423.7L1839.8 523.6L1981.7 552.1L2123.6 583L2265.5 592M1414.1 329.9L1556 367.7L1697.9 428.2L1839.8 536.3L1981.7 581.4L2123.6 595L2265.5 595.3M1414.1 276.5L1556 309.8L1697.9 351.5L1839.8 426.3L1981.7 513.6L2123.6 563.6L2265.5 587.7M1414.1 256.1L1556 304.2L1697.9 334.9L1839.8 422.4L1981.7 506.2L2123.6 558.5L2265.5 582M1414.1 252.3L1556 297.3L1697.9 334.2L1839.8 403.4L1981.7 497.8L2123.6 559.9L2265.5 583.8M1414.1 267.1L1556 314.7L1697.9 349.3L1839.8 456.5L1981.7 520.4L2123.6 572.6L2265.5 588.7M1414.1 298.9L1556 336.9L1697.9 394.4L1839.8 496.8L1981.7 548.6L2123.6 584.5L2265.5 590.8M1414.1 267.9L1556 299.9L1697.9 336.3L1839.8 413.9L1981.7 506.9L2123.6 559.7L2265.5 585.4M1414.1 257L1556 300.9L1697.9 370.3L1839.8 471.2L1981.7 536.8L2123.6 575.1L2265.5 588.6M1414.1 335.2L1556 370.7L1697.9 423.2L1839.8 531.5L1981.7 569.3L2123.6 592.6L2265.5 594.8M1414.1 306.9L1556 334.1L1697.9 396.5L1839.8 486.2L1981.7 553.3L2123.6 582.9L2265.5 591.3M1414.1 252.9L1556 284.8L1697.9 329.7L1839.8 431.3L1981.7 517.6L2123.6 570.4L2265.5 588.8M1414.1 287.3L1556 316.1L1697.9 346.8L1839.8 400.4L1981.7 502.1L2123.6 561.8L2265.5 586.5M1414.1 261.6L1556 301.2L1697.9 347.5L1839.8 420.4L1981.7 513.8L2123.6 563L2265.5 581.7M1414.1 271.1L1556 305.5L1697.9 355.3L1839.8 398L1981.7 497.7L2123.6 559.5L2265.5 584.3M1414.1 291L1556 323.7L1697.9 387.3L1839.8 473.4L1981.7 529.8L2123.6 578.2L2265.5 591.1M1414.1 303.3L1556 333.3L1697.9 409L1839.8 500.1L1981.7 568.5L2123.6 595.9L2265.5 595.7M1414.1 313.7L1556 361.3L1697.9 428.2L1839.8 530.6L1981.7 587.8L2123.6 591.1L2265.5 593.9M1414.1 263.5L1556 280.5L1697.9 311.9L1839.8 374.3L1981.7 477.1L2123.6 552L2265.5 583.1M1414.1 313.9L1556 358.5L1697.9 423.3L1839.8 540.5L1981.7 587.9L2123.6 596.8L2265.5 597.3M1414.1 283.7L1556 306.7L1697.9 351.9L1839.8 431L1981.7 513.9L2123.6 566.3L2265.5 586.3M1414.1 288.3L1556 327.2L1697.9 371.4L1839.8 468.8L1981.7 529.8L2123.6 576.4L2265.5 591.8M1414.1 248.3L1556 279.4L1697.9 320.8L1839.8 368.1L1981.7 476.5L2123.6 552L2265.5 581.7M1414.1 302.1L1556 339L1697.9 404L1839.8 489.5L1981.7 550.2L2123.6 588.3L2265.5 594.9M1414.1 283.5L1556 322L1697.9 366.6L1839.8 425.6L1981.7 520.3L2123.6 572.6L2265.5 586.7M1414.1 253.4L1556 306.2L1697.9 363.3L1839.8 437.2L1981.7 524.2L2123.6 565.1L2265.5 586M1414.1 329.8L1556 376.3L1697.9 441.9L1839.8 548.3L1981.7 587.9L2123.6 598L2265.5 596.6M1414.1 266.9L1556 300.9L1697.9 344.2L1839.8 391.2L1981.7 492.7L2123.6 557.7L2265.5 584.6M1414.1 258.1L1556 297.9L1697.9 347.2L1839.8 417.5L1981.7 502.2L2123.6 567.1L2265.5 585.6M1414.1 281.6L1556 307L1697.9 358.2L1839.8 441L1981.7 500.8L2123.6 560.1L2265.5 583.7M1414.1 335.2L1556 379.5L1697.9 459.2L1839.8 561.9L1981.7 589.9L2123.6 599.3L2265.5 597.3M1414.1 236.6L1556 271.1L1697.9 308.9L1839.8 352.8L1981.7 451.8L2123.6 544.6L2265.5 576.8M1414.1 148L1556 335.4L1697.9 402.3L1839.8 476.5L1981.7 550.8L2123.6 587.9L2265.5 597.8M1414.1 220.3L1556 224.5L1697.9 297.3L1839.8 402.3L1981.7 488.9L2123.6 563.2L2265.5 592.9M1414.1 278.5L1556 253L1697.9 328L1839.8 389.9L1981.7 501.3L2123.6 575.5L2265.5 595.3M1414.1 354L1556 377.5L1697.9 427L1839.8 526L1981.7 575.5L2123.6 595.3L2265.5 597.8M1414.1 354L1556 378.7L1697.9 463.4L1839.8 555.7L1981.7 585.4L2123.6 597.8L2265.5 600.3M1414.1 332.9L1556 396.1L1697.9 484.7L1839.8 560.7L1981.7 587.9L2123.6 597.8L2265.5 600.3M1414.1 253.7L1556 278.5L1697.9 310.7L1839.8 348.3L1981.7 424.8L2123.6 521.6L2265.5 573.3M1414.1 248.8L1556 276L1697.9 313.1L1839.8 352.8L1981.7 445.3L2123.6 542.1L2265.5 578" stroke="#b3b3b3" stroke-width="2.2" fill="none" stroke-linejoin="round"/>
<path d="M1414.1 335.2h0M1556 378.7h0M1697.9 455.7h0M1839.8 559.6h0M1981.7 589.6h0M2123.6 599.3h0M2265.5 597.3h0M1414.1 335.2h0M1556 378.5h0M1697.9 454.1h0M1839.8 557.2h0M1981.7 589.2h0M2123.6 599.3h0M2265.5 597.3h0M1414.1 335.2h0M1556 378.2h0M1697.9 451h0M1839.8 556.5h0M1981.7 589.4h0M2123.6 599.3h0M2265.5 597.3h0M1414.1 335.2h0M1556 378h0M1697.9 453.2h0M1839.8 559h0M1981.7 589.5h0M2123.6 599.3h0M2265.5 597.3h0M1414.1 335.2h0M1556 377h0M1697.9 446.2h0M1839.8 551.1h0M1981.7 588.1h0M2123.6 599.3h0M2265.5 597.3h0M1414.1 335.2h0M1556 376.4h0M1697.9 444.6h0M1839.8 551.2h0M1981.7 588.5h0M2123.6 599.3h0M2265.5 597.3h0M1414.1 236.9h0M1556 271.1h0M1697.9 308.9h0M1839.8 352.8h0M1981.7 451.8h0M2123.6 544.6h0M2265.5 577.3h0M1414.1 237h0M1556 271.7h0M1697.9 309.6h0M1839.8 356.7h0M1981.7 456.4h0M2123.6 546.3h0M2265.5 577.9h0M1414.1 237.5h0M1556 271.9h0M1697.9 309.8h0M1839.8 357.1h0M1981.7 457.8h0M2123.6 546.7h0M2265.5 577.7h0M1414.1 238h0M1556 271.9h0M1697.9 309.6h0M1839.8 354.1h0M1981.7 457.2h0M2123.6 545.7h0M2265.5 577.3h0M1414.1 238.8h0M1556 272.3h0M1697.9 310.8h0M1839.8 361.5h0M1981.7 463.1h0M2123.6 549h0M2265.5 579.9h0M1414.1 238.8h0M1556 272.3h0M1697.9 309.9h0M1839.8 359.8h0M1981.7 464.4h0M2123.6 547.9h0M2265.5 578.3h0M1414.1 239.8h0M1556 273.3h0M1697.9 311.6h0M1839.8 366.6h0M1981.7 475.7h0M2123.6 551.5h0M2265.5 581.3h0M1414.1 240.1h0M1556 273.9h0M1839.8 368.1h0M1981.7 478.1h0M2265.5 582.1h0M2265.5 592.5h0M1556 374.1h0M1697.9 441.8h0M1839.8 548.3h0M1981.7 586.3h0M2123.6 594.7h0M2265.5 595.8h0M2123.6 596.8h0M2265.5 595.8h0M2265.5 585.1h0M2265.5 582.6h0M2265.5 593.7h0M2265.5 583.3h0M2265.5 585.8h0M1414.1 335.2h0M1556 373.4h0M2265.5 594.1h0M1981.7 587.4h0M2123.6 599.3h0M2265.5 597.3h0M2265.5 594.3h0M2265.5 584.3h0M1414.1 242.9h0M1556 273.5h0M1697.9 311.9h0M1981.7 476.6h0M2123.6 552h0M2265.5 581.7h0M2265.5 593.7h0M2123.6 555.4h0M2265.5 583.6h0M1414.1 335.2h0M1839.8 548.3h0M1981.7 587.9h0M2123.6 599.3h0M2265.5 597.2h0M2265.5 584.8h0M2265.5 583h0M1981.7 477h0M2123.6 553.5h0M2265.5 581.7h0M2265.5 593.2h0M1414.1 240.1h0M2265.5 584h0M1414.1 335.2h0M1556 372.8h0M1697.9 441.8h0M1839.8 543.5h0M2123.6 596.8h0M2265.5 596.1h0M2265.5 585.9h0M1981.7 478.3h0M2123.6 552h0M2265.5 581.7h0M2123.6 594.9h0M2265.5 595.9h0M2123.6 595.7h0M2265.5 595.3h0M2265.5 585.2h0M2265.5 592.4h0M2265.5 586h0M1556 278.5h0M2265.5 585.8h0M2265.5 584.5h0M1414.1 330.5h0M1556 374.8h0M1697.9 441.9h0M2123.6 594.7h0M2265.5 595.3h0M1414.1 331.5h0M1556 376.3h0M1697.9 437h0M2265.5 596h0M1556 376.3h0M1697.9 441.9h0M2265.5 593.5h0M1414.1 240.5h0M1556 276.9h0M1697.9 312.8h0M1839.8 368.1h0M1981.7 479.6h0M2123.6 555.5h0M2265.5 582.9h0M1839.8 547.5h0M1981.7 587.9h0M2123.6 598.7h0M2265.5 597.3h0M1556 376.3h0M1697.9 441.9h0M2265.5 593.9h0M2265.5 593h0M2265.5 585.4h0M1414.1 240.1h0M1556 273.5h0M1697.9 311.9h0M2265.5 585h0M2265.5 585.1h0M2123.6 554.3h0M2265.5 583h0M1414.1 240.1h0M1556 273.5h0M2265.5 583.2h0M1839.8 545.1h0M1981.7 583.9h0M2123.6 599.3h0M2265.5 597.3h0M1556 276.5h0M1697.9 311.9h0M1981.7 478.7h0M2123.6 552h0M2265.5 581.7h0M2265.5 585.3h0M2265.5 584.6h0M2265.5 584.8h0M1556 374.4h0M1697.9 438.7h0M1839.8 545.8h0M1981.7 587.8h0M2123.6 599.3h0M2265.5 597.3h0M2265.5 595.4h0M2265.5 586.5h0M1839.8 548.3h0M1981.7 587.9h0M2123.6 599.3h0M2265.5 597.3h0M1414.1 335.2h0M1556 376.3h0M1981.7 584.6h0M2265.5 594h0M2265.5 583.5h0M2265.5 595.1h0M1414.1 240.1h0M1556 275h0M1697.9 311.9h0M1839.8 368.1h0M1981.7 476.5h0M2123.6 553.9h0M2265.5 582.2h0M2265.5 586.1h0M2265.5 586.1h0M2265.5 583.9h0M1414.1 240.1h0M1556 273.5h0M1697.9 311.9h0M1839.8 368.8h0M1981.7 476.5h0M2123.6 554.3h0M2265.5 581.9h0M2123.6 556h0M2265.5 582.3h0M1697.9 439.4h0M1839.8 544.6h0M1981.7 587.9h0M2123.6 598.4h0M2265.5 597.3h0M1839.8 372h0M1981.7 476.5h0M2123.6 555.3h0M2265.5 585.3h0M2265.5 583h0M2265.5 585.2h0M2265.5 585.4h0M1414.1 245h0M2265.5 585.7h0M2265.5 593.4h0M1697.9 311.9h0M1839.8 368.1h0M1981.7 478h0M2123.6 552h0M2265.5 581.7h0M2123.6 553h0M2265.5 583.8h0M2265.5 586.1h0M2265.5 585.3h0M2123.6 599.3h0M2265.5 597.3h0M2265.5 585.2h0M1839.8 548.3h0M2265.5 593.7h0M1697.9 440.3h0M1839.8 548.3h0M2123.6 595.7h0M2265.5 595.3h0M1839.8 368.1h0M1981.7 480.2h0M2265.5 585h0M2265.5 585.2h0M1414.1 330.8h0M2265.5 596.1h0M2265.5 585.2h0M1981.7 477.9h0M2123.6 552h0M2265.5 581.7h0M2265.5 586.6h0M2265.5 595.2h0M1697.9 441.9h0M1839.8 548.3h0M1981.7 585h0M2265.5 594.6h0M1414.1 240.1h0M1556 273.5h0M1697.9 311.9h0M1981.7 481h0M2123.6 552h0M2265.5 582.4h0M1414.1 244.4h0M2265.5 583h0M1981.7 585.1h0M2123.6 599.3h0M2265.5 595.8h0M1414.1 241.7h0M1697.9 311.9h0M1839.8 368.1h0M1981.7 476.5h0M2123.6 552h0M2265.5 581.7h0M1839.8 548.3h0M1981.7 587.9h0M2123.6 596.6h0M2265.5 596h0M2265.5 593.8h0M2265.5 593.2h0M1556 274.5h0M1697.9 316.2h0M2265.5 585.4h0M1414.1 240.3h0M1556 275h0M1981.7 476.5h0M2123.6 552h0M2265.5 582.4h0M2265.5 593.3h0M1556 373h0M1697.9 441.9h0M1839.8 548.3h0M1981.7 587.9h0M2265.5 595h0M2265.5 594.8h0M2265.5 586.2h0M2265.5 584.9h0M2265.5 595.4h0M1981.7 587.9h0M2123.6 599.3h0M2265.5 597.3h0M1981.7 478.6h0M2123.6 556.4h0M2265.5 582.4h0M2265.5 586.1h0M2265.5 595h0M2123.6 595.9h0M2265.5 594.6h0M2265.5 584.2h0M2265.5 595.8h0M1556 273.5h0M1697.9 311.9h0M1839.8 368.1h0M1981.7 476.5h0M2123.6 555.7h0M2265.5 582.7h0M1414.1 240.1h0M1556 273.5h0M2265.5 584.4h0M1697.9 441.7h0M2265.5 594.3h0M2265.5 585.8h0M2123.6 554h0M2265.5 582h0M1697.9 439h0M1839.8 548.3h0M2123.6 595.6h0M2265.5 595.9h0M2265.5 593.3h0M2265.5 584h0M2265.5 585.3h0M1414.1 240.1h0M1556 273.5h0M1697.9 311.9h0M1839.8 368.1h0M2265.5 583.6h0M1414.1 332.6h0M1556 376.3h0M1697.9 441.9h0M1839.8 545.3h0M1981.7 587.9h0M2123.6 599.3h0M2265.5 597.3h0M2265.5 581.7h0M1556 276.5h0M2123.6 555.4h0M2265.5 582.8h0M1414.1 335.2h0M1556 376.3h0M1697.9 439.4h0M1839.8 548.3h0M1981.7 587.9h0M2123.6 599.3h0M2265.5 597.3h0M2265.5 584.7h0M2265.5 585.5h0M1556 374.5h0M1697.9 441.9h0M2265.5 596h0M2265.5 584.7h0M2265.5 582.9h0M1414.1 332.5h0M1697.9 441.9h0M1839.8 548.3h0M1981.7 583.7h0M2123.6 597.7h0M2265.5 597.1h0M2265.5 593.6h0M2265.5 594.3h0M2265.5 593.7h0M1556 372h0M1697.9 437.8h0M1839.8 548.3h0M1981.7 587.9h0M2123.6 599.3h0M2265.5 597h0M2265.5 593.8h0M2265.5 585.7h0M1981.7 480.3h0M2265.5 584.4h0M2265.5 586.6h0M1414.1 242.4h0M2265.5 584.3h0M2265.5 595.1h0M2265.5 594.2h0M1839.8 543.9h0M2265.5 594.7h0M2123.6 599.3h0M2265.5 597h0M2265.5 585.9h0M1839.8 548.3h0M2265.5 595.7h0M2265.5 584.4h0M1414.1 333.3h0M1556 376.3h0M1697.9 441.9h0M1839.8 544.9h0M2265.5 597.1h0M1414.1 244.9h0M2265.5 586.6h0M1839.8 548.3h0M1981.7 585.9h0M2123.6 597.2h0M2265.5 597.3h0M2123.6 555h0M2265.5 582.3h0M1414.1 240.1h0M1556 273.5h0M1697.9 311.9h0M1981.7 478.7h0M2123.6 552h0M2265.5 581.7h0M2265.5 584.1h0M2123.6 595.9h0M2265.5 595.7h0M2265.5 584.6h0M2265.5 595.9h0M2265.5 582.3h0M1697.9 441.9h0M1839.8 548.3h0M2123.6 599.3h0M2265.5 597.3h0M1556 273.5h0M2123.6 552h0M2265.5 581.7h0M1697.9 438.7h0M2265.5 583.9h0M1414.1 335.2h0M1556 376.1h0M1697.9 438h0M2123.6 596.6h0M2265.5 595.8h0M1414.1 334.6h0M1556 372.7h0M1697.9 441.9h0M2123.6 595.5h0M2265.5 596.3h0M1839.8 548.3h0M2123.6 594.4h0M2265.5 597.3h0M2265.5 593.8h0M2265.5 596.7h0M1414.1 240.8h0M1556 273.5h0M1697.9 311.9h0M1839.8 368.1h0M2123.6 552h0M2265.5 581.7h0M1839.8 544.3h0M1981.7 583.4h0M2123.6 596.5h0M2265.5 597.3h0M1414.1 330.8h0M1697.9 438.2h0M1839.8 546.1h0M2123.6 595.9h0M2265.5 593h0M2265.5 594.4h0M2265.5 595.6h0M1556 376.3h0M2265.5 594.8h0M2265.5 584.8h0M1981.7 476.5h0M2123.6 552h0M2265.5 581.7h0M2265.5 584.4h0M2265.5 586.1h0M1414.1 335.2h0M2123.6 595h0M2265.5 595.3h0M2265.5 582h0M2265.5 583.8h0M2265.5 585.4h0M1414.1 335.2h0M2265.5 594.8h0M2265.5 586.5h0M2265.5 581.7h0M2265.5 584.3h0M2123.6 595.9h0M2265.5 595.7h0M1981.7 587.8h0M2265.5 593.9h0M1697.9 311.9h0M1981.7 477.1h0M2123.6 552h0M2265.5 583.1h0M1981.7 587.9h0M2123.6 596.8h0M2265.5 597.3h0M2265.5 586.3h0M1839.8 368.1h0M1981.7 476.5h0M2123.6 552h0M2265.5 581.7h0M2265.5 594.9h0M2265.5 586h0M1556 376.3h0M1697.9 441.9h0M1839.8 548.3h0M1981.7 587.9h0M2123.6 598h0M2265.5 596.6h0M2265.5 584.6h0M2265.5 585.6h0M2265.5 583.7h0M1414.1 335.2h0M1556 379.5h0M1697.9 459.2h0M1839.8 561.9h0M1981.7 589.9h0M2123.6 599.3h0M2265.5 597.3h0M1414.1 236.6h0M1556 271.1h0M1697.9 308.9h0M1839.8 352.8h0M1981.7 451.8h0M2123.6 544.6h0M2265.5 576.8h0M1414.1 148h0M2265.5 597.8h0M1414.1 220.3h0M1556 224.5h0M1697.9 297.3h0M2265.5 592.9h0M1556 253h0M2265.5 595.3h0M1414.1 354h0M1556 377.5h0M2123.6 595.3h0M2265.5 597.8h0M1414.1 354h0M1556 378.7h0M1697.9 463.4h0M1839.8 555.7h0M1981.7 585.4h0M2123.6 597.8h0M2265.5 600.3h0M1414.1 332.9h0M1556 396.1h0M1697.9 484.7h0M1839.8 560.7h0M1981.7 587.9h0M2123.6 597.8h0M2265.5 600.3h0M1697.9 310.7h0M1839.8 348.3h0M1981.7 424.8h0M2123.6 521.6h0M2265.5 573.3h0M1556 276h0M1697.9 313.1h0M1839.8 352.8h0M1981.7 445.3h0M2123.6 542.1h0M2265.5 578h0" stroke="#000" stroke-width="4.4" stroke-linecap="square" fill="none"/>
<line x1="1414.1" y1="240.1" x2="1414.1" y2="335.2" stroke="#000" stroke-width="4.8"/>
<line x1="1556" y1="273.5" x2="1556" y2="376.3" stroke="#000" stroke-width="4.8"/>
<line x1="1697.9" y1="311.9" x2="1697.9" y2="441.9" stroke="#000" stroke-width="4.8"/>
<line x1="1839.8" y1="368.1" x2="1839.8" y2="548.3" stroke="#000" stroke-width="4.8"/>
<line x1="1981.7" y1="476.5" x2="1981.7" y2="587.9" stroke="#000" stroke-width="4.8"/>
<line x1="2123.6" y1="552" x2="2123.6" y2="599.3" stroke="#000" stroke-width="4.8"/>
<line x1="2265.5" y1="581.7" x2="2265.5" y2="597.3" stroke="#000" stroke-width="4.8"/>
<text font-size="56" text-anchor="middle" transform="translate(1837 126.8) scale(1 1.04)">2D-1M</text>
<line x1="1343.8" y1="756.9" x2="1343.8" y2="1255.6" stroke="#000" stroke-width="3"/>
<line x1="1325.3" y1="1253.2" x2="2335.5" y2="1253.2" stroke="#484848" stroke-width="4.8"/>
<line x1="1325.3" y1="1129.5" x2="1343.8" y2="1129.5" stroke="#000" stroke-width="3"/>
<line x1="1325.3" y1="1005.8" x2="1343.8" y2="1005.8" stroke="#000" stroke-width="3"/>
<line x1="1325.3" y1="882.1" x2="1343.8" y2="882.1" stroke="#000" stroke-width="3"/>
<line x1="1325.3" y1="758.4" x2="1343.8" y2="758.4" stroke="#000" stroke-width="3"/>
<text font-size="57" text-anchor="end" transform="translate(1305.6 1272.2) scale(1 1.04)">0.0</text>
<text font-size="57" text-anchor="end" transform="translate(1305.6 1148.5) scale(1 1.04)">0.5</text>
<text font-size="57" text-anchor="end" transform="translate(1305.6 1024.8) scale(1 1.04)">1.0</text>
<text font-size="57" text-anchor="end" transform="translate(1305.6 901.1) scale(1 1.04)">1.5</text>
<text font-size="57" text-anchor="end" transform="translate(1310.1 777.4) scale(1 1.04)">2.0</text>
<line x1="1414.1" y1="1253.2" x2="1414.1" y2="1271.7" stroke="#111" stroke-width="3.6"/>
<line x1="1556" y1="1253.2" x2="1556" y2="1271.7" stroke="#111" stroke-width="3.6"/>
<line x1="1697.9" y1="1253.2" x2="1697.9" y2="1271.7" stroke="#111" stroke-width="3.6"/>
<line x1="1839.8" y1="1253.2" x2="1839.8" y2="1271.7" stroke="#111" stroke-width="3.6"/>
<line x1="1981.7" y1="1253.2" x2="1981.7" y2="1271.7" stroke="#111" stroke-width="3.6"/>
<line x1="2123.6" y1="1253.2" x2="2123.6" y2="1271.7" stroke="#111" stroke-width="3.6"/>
<line x1="2265.5" y1="1253.2" x2="2265.5" y2="1271.7" stroke="#111" stroke-width="3.6"/>
<polygon points="1414.1,903.1 1556,946.4 1697.9,1009.5 1839.8,1093.6 1981.7,1190.1 2123.6,1229.7 2265.5,1243.3 2265.5,1250.2 2123.6,1250.2 1981.7,1251.2 1839.8,1238.4 1697.9,1164.1 1556,1072.6 1414.1,1012" fill="#b3b3b3"/>
<path d="M1414.1 1021.8L1556 1095L1697.9 1194.2L1839.8 1240.8L1981.7 1251.2L2123.6 1250.2L2265.5 1250.2M1414.1 1020.1L1556 1092.4L1697.9 1191.2L1839.8 1241.7L1981.7 1251.2L2123.6 1250.2L2265.5 1250.2M1414.1 1019.5L1556 1091L1697.9 1188.8L1839.8 1240.6L1981.7 1251.2L2123.6 1250.2L2265.5 1250.2M1414.1 1020.3L1556 1093.5L1697.9 1197L1839.8 1241.4L1981.7 1251.2L2123.6 1250.2L2265.5 1250.2M1414.1 1019.1L1556 1090.3L1697.9 1190.7L1839.8 1240.9L1981.7 1251.2L2123.6 1250.2L2265.5 1250.2M1414.1 1017.6L1556 1084.2L1697.9 1181.4L1839.8 1239.9L1981.7 1251.2L2123.6 1250.2L2265.5 1250.2M1414.1 1015.3L1556 1081.6L1697.9 1175.8L1839.8 1239.2L1981.7 1251.2L2123.6 1250.2L2265.5 1250.2M1414.1 1013.3L1556 1073.3L1697.9 1163.2L1839.8 1235.4L1981.7 1250L2123.6 1248.9L2265.5 1250.2M1414.1 1014.4L1556 1077.6L1697.9 1169.7L1839.8 1239.4L1981.7 1251.2L2123.6 1250.2L2265.5 1250.2M1414.1 1011.8L1556 1060.7L1697.9 1146.9L1839.8 1215.5L1981.7 1246.6L2123.6 1250.2L2265.5 1250.1M1414.1 900.2L1556 943.7L1697.9 998.4L1839.8 1079L1981.7 1182.8L2123.6 1227.8L2265.5 1242.1M1414.1 901.5L1556 944.7L1697.9 1002.7L1839.8 1085L1981.7 1184.8L2123.6 1228L2265.5 1242.5M1414.1 901.7L1556 945.3L1697.9 1005.3L1839.8 1090.8L1981.7 1188.9L2123.6 1229.3L2265.5 1243.2M1414.1 902.1L1556 945.4L1697.9 1004.5L1839.8 1087.1L1981.7 1186.4L2123.6 1228.5L2265.5 1242.3M1414.1 902.9L1556 946.6L1697.9 1009.5L1839.8 1093.6L1981.7 1190.1L2123.6 1229.8L2265.5 1243.9M1414.1 1002L1556 1069.2L1697.9 1164.1L1839.8 1233.5L1981.7 1249.9L2123.6 1245.8L2265.5 1249M1414.1 968.8L1556 1038.4L1697.9 1132.5L1839.8 1190.9L1981.7 1231.8L2123.6 1244.6L2265.5 1249M1414.1 920.6L1556 964.3L1697.9 1035.9L1839.8 1115L1981.7 1197.4L2123.6 1233.2L2265.5 1244.2M1414.1 914.1L1556 962.1L1697.9 1030L1839.8 1125.5L1981.7 1202L2123.6 1232.1L2265.5 1243.9M1414.1 908.8L1556 949.1L1697.9 1026.1L1839.8 1111.3L1981.7 1191.7L2123.6 1232L2265.5 1244M1414.1 945L1556 1004.5L1697.9 1079.5L1839.8 1155.7L1981.7 1214.9L2123.6 1240.3L2265.5 1247M1414.1 933.1L1556 974.8L1697.9 1034.6L1839.8 1105.2L1981.7 1191.2L2123.6 1231.3L2265.5 1243.8M1414.1 1000L1556 1072.6L1697.9 1139.8L1839.8 1227.8L1981.7 1251.2L2123.6 1250.2L2265.5 1249.4M1414.1 966.7L1556 1022.7L1697.9 1104L1839.8 1168.3L1981.7 1218L2123.6 1239.2L2265.5 1246M1414.1 910.2L1556 952.1L1697.9 1013.4L1839.8 1104.6L1981.7 1190.1L2123.6 1230L2265.5 1243.7M1414.1 970.2L1556 1009.7L1697.9 1100.3L1839.8 1174L1981.7 1225.7L2123.6 1240.9L2265.5 1246.8M1414.1 927L1556 973.1L1697.9 1040.9L1839.8 1123.3L1981.7 1204.1L2123.6 1233.4L2265.5 1243.9M1414.1 987.2L1556 1040.1L1697.9 1123.6L1839.8 1195.4L1981.7 1224.6L2123.6 1241.6L2265.5 1247.3M1414.1 976.6L1556 1037L1697.9 1101.9L1839.8 1176.8L1981.7 1227.9L2123.6 1239.4L2265.5 1247.3M1414.1 995.3L1556 1047.8L1697.9 1136.8L1839.8 1214.2L1981.7 1242.6L2123.6 1246.1L2265.5 1250.1M1414.1 1004.9L1556 1069.9L1697.9 1164.1L1839.8 1238.4L1981.7 1251.2L2123.6 1249L2265.5 1249.1M1414.1 932L1556 981.8L1697.9 1063.6L1839.8 1136.8L1981.7 1200.6L2123.6 1232.7L2265.5 1243.3M1414.1 903.1L1556 954.6L1697.9 1017.1L1839.8 1115.3L1981.7 1194L2123.6 1230.6L2265.5 1243.3M1414.1 952.4L1556 996.1L1697.9 1057.9L1839.8 1119.2L1981.7 1204.7L2123.6 1235.8L2265.5 1245.3M1414.1 1012L1556 1072.6L1697.9 1132.4L1839.8 1214.1L1981.7 1245.1L2123.6 1248.7L2265.5 1249.6M1414.1 935.5L1556 975.5L1697.9 1043.4L1839.8 1122.5L1981.7 1204.8L2123.6 1236.8L2265.5 1244.6M1414.1 997.9L1556 1058.3L1697.9 1146.5L1839.8 1222.5L1981.7 1250.4L2123.6 1249.9L2265.5 1249.9M1414.1 971.9L1556 1015.6L1697.9 1089.8L1839.8 1167.8L1981.7 1230.1L2123.6 1243.8L2265.5 1247.2M1414.1 904.2L1556 948.8L1697.9 1019.3L1839.8 1093.6L1981.7 1190.1L2123.6 1229.7L2265.5 1243.3M1414.1 932L1556 978.2L1697.9 1065.7L1839.8 1169.5L1981.7 1216.1L2123.6 1237.2L2265.5 1245.4M1414.1 969.1L1556 1018.2L1697.9 1094.7L1839.8 1171.7L1981.7 1219.3L2123.6 1243.2L2265.5 1247.3M1414.1 919.1L1556 953.1L1697.9 1026.7L1839.8 1100.3L1981.7 1190.1L2123.6 1230.7L2265.5 1243.9M1414.1 1001.7L1556 1064.7L1697.9 1152.1L1839.8 1231.8L1981.7 1251.2L2123.6 1250.2L2265.5 1249.4M1414.1 907.9L1556 959.5L1697.9 1025.6L1839.8 1108.5L1981.7 1199.5L2123.6 1233.4L2265.5 1244.2M1414.1 931L1556 969.4L1697.9 1036L1839.8 1105.9L1981.7 1195.4L2123.6 1230.8L2265.5 1243.3M1414.1 959.5L1556 1010L1697.9 1108.6L1839.8 1215.4L1981.7 1240.1L2123.6 1248.1L2265.5 1249M1414.1 990L1556 1045.1L1697.9 1131.9L1839.8 1197.3L1981.7 1233L2123.6 1243L2265.5 1247.3M1414.1 908.4L1556 946.4L1697.9 1025.4L1839.8 1111.5L1981.7 1198.2L2123.6 1233L2265.5 1245.2M1414.1 973.4L1556 1026.1L1697.9 1089.4L1839.8 1175L1981.7 1226.4L2123.6 1242.8L2265.5 1247.9M1414.1 951.6L1556 999.4L1697.9 1062.9L1839.8 1131.3L1981.7 1211L2123.6 1237L2265.5 1244.8M1414.1 981.5L1556 1038.7L1697.9 1110.8L1839.8 1177.9L1981.7 1215L2123.6 1237.3L2265.5 1245.6M1414.1 1003.4L1556 1069.3L1697.9 1163.9L1839.8 1238.4L1981.7 1245.6L2123.6 1250L2265.5 1250M1414.1 956.6L1556 992.7L1697.9 1075.8L1839.8 1151.7L1981.7 1214.9L2123.6 1237.6L2265.5 1245.7M1414.1 979.6L1556 1040.7L1697.9 1134.6L1839.8 1224.1L1981.7 1240.8L2123.6 1247.9L2265.5 1249.1M1414.1 935.2L1556 973.6L1697.9 1052.9L1839.8 1127.4L1981.7 1197.7L2123.6 1233.3L2265.5 1245M1414.1 984.3L1556 1044.1L1697.9 1143.9L1839.8 1210.6L1981.7 1240.3L2123.6 1246.6L2265.5 1249.5M1414.1 941.7L1556 1001.1L1697.9 1095.5L1839.8 1186L1981.7 1233.5L2123.6 1243.1L2265.5 1247.4M1414.1 957.6L1556 1021.6L1697.9 1098.3L1839.8 1171.8L1981.7 1218.6L2123.6 1239.3L2265.5 1246.6M1414.1 1012L1556 1072.6L1697.9 1156.8L1839.8 1238.4L1981.7 1251.2L2123.6 1249L2265.5 1249.7M1414.1 1002.5L1556 1062.9L1697.9 1155.4L1839.8 1223.7L1981.7 1243.1L2123.6 1247.5L2265.5 1248.3M1414.1 994.5L1556 1058.1L1697.9 1146.6L1839.8 1228L1981.7 1239.3L2123.6 1245.3L2265.5 1248.7M1414.1 962.1L1556 1017.2L1697.9 1080.7L1839.8 1150.8L1981.7 1214.4L2123.6 1237.6L2265.5 1246.9M1414.1 911.7L1556 946.4L1697.9 1011.2L1839.8 1100.2L1981.7 1191.8L2123.6 1231.2L2265.5 1243.3M1414.1 964.9L1556 1014.5L1697.9 1096.6L1839.8 1169.4L1981.7 1221.1L2123.6 1237.3L2265.5 1245.8M1414.1 969.8L1556 1026.7L1697.9 1110.8L1839.8 1173.6L1981.7 1223.2L2123.6 1239.2L2265.5 1246.6M1414.1 1012L1556 1063.9L1697.9 1128.5L1839.8 1206.5L1981.7 1230.7L2123.6 1241.9L2265.5 1247.7M1414.1 926.5L1556 975.4L1697.9 1029.7L1839.8 1109.7L1981.7 1201.8L2123.6 1231.3L2265.5 1244.4M1414.1 972.6L1556 1027.5L1697.9 1117.6L1839.8 1211.5L1981.7 1230.9L2123.6 1244.7L2265.5 1248.8M1414.1 957L1556 995.6L1697.9 1052.4L1839.8 1102.6L1981.7 1190.1L2123.6 1229.7L2265.5 1243.3M1414.1 944.3L1556 991.3L1697.9 1074.4L1839.8 1152.1L1981.7 1205.2L2123.6 1234.7L2265.5 1244.7M1414.1 933.6L1556 977.2L1697.9 1029.7L1839.8 1108.8L1981.7 1200L2123.6 1235L2265.5 1244.8M1414.1 978.1L1556 1033.3L1697.9 1122.6L1839.8 1191.1L1981.7 1232.9L2123.6 1245.9L2265.5 1248.8M1414.1 903.1L1556 950.7L1697.9 1029.9L1839.8 1113.3L1981.7 1199.6L2123.6 1232.5L2265.5 1244.1M1414.1 965.1L1556 1019.5L1697.9 1113.4L1839.8 1197.5L1981.7 1233.3L2123.6 1246.7L2265.5 1249.6M1414.1 996.5L1556 1050.4L1697.9 1153.6L1839.8 1226L1981.7 1243.5L2123.6 1245.4L2265.5 1248.9M1414.1 965.5L1556 1014.2L1697.9 1078.6L1839.8 1166.7L1981.7 1219.3L2123.6 1238.3L2265.5 1245.7M1414.1 922.2L1556 969.3L1697.9 1048.8L1839.8 1127.8L1981.7 1202.9L2123.6 1235.5L2265.5 1245M1414.1 944.5L1556 987.6L1697.9 1049.2L1839.8 1130L1981.7 1203.9L2123.6 1234.7L2265.5 1244.3M1414.1 963.3L1556 1034.5L1697.9 1113.7L1839.8 1187.2L1981.7 1237.4L2123.6 1246.9L2265.5 1248.9M1414.1 949L1556 1023.6L1697.9 1100.5L1839.8 1158.2L1981.7 1219.7L2123.6 1239L2265.5 1246.3M1414.1 1009.6L1556 1069.2L1697.9 1164.1L1839.8 1211.7L1981.7 1227.7L2123.6 1241.9L2265.5 1246.5M1414.1 965.4L1556 1008.4L1697.9 1099.4L1839.8 1192.5L1981.7 1230.5L2123.6 1246.4L2265.5 1248.1M1414.1 991.9L1556 1043.3L1697.9 1139.1L1839.8 1225.4L1981.7 1242L2123.6 1245.7L2265.5 1248.6M1414.1 920.3L1556 953.2L1697.9 1035.1L1839.8 1127L1981.7 1206.7L2123.6 1237.6L2265.5 1246.7M1414.1 957.4L1556 992.2L1697.9 1061.5L1839.8 1160L1981.7 1220.9L2123.6 1240.3L2265.5 1247M1414.1 986L1556 1060.9L1697.9 1156.5L1839.8 1228.8L1981.7 1243.9L2123.6 1247.3L2265.5 1249.2M1414.1 920.6L1556 965.6L1697.9 1035.2L1839.8 1125.1L1981.7 1197.8L2123.6 1230.4L2265.5 1243.7M1414.1 940.1L1556 986.4L1697.9 1056.6L1839.8 1131.9L1981.7 1213.7L2123.6 1239.8L2265.5 1246.4M1414.1 915.2L1556 964.7L1697.9 1018.6L1839.8 1093.6L1981.7 1190.1L2123.6 1230.9L2265.5 1243.9M1414.1 964.4L1556 1026.4L1697.9 1113.6L1839.8 1204.7L1981.7 1226.2L2123.6 1241.8L2265.5 1247.4M1414.1 930.3L1556 969.9L1697.9 1041.5L1839.8 1123.3L1981.7 1192.4L2123.6 1229.7L2265.5 1243.3M1414.1 924.8L1556 978.1L1697.9 1044.6L1839.8 1133.3L1981.7 1210L2123.6 1236.9L2265.5 1246.3M1414.1 948.3L1556 1004.5L1697.9 1099.7L1839.8 1167.4L1981.7 1221.7L2123.6 1237.2L2265.5 1245.7M1414.1 991.7L1556 1064.2L1697.9 1156.2L1839.8 1223.9L1981.7 1249.2L2123.6 1250.2L2265.5 1250.2M1414.1 952.7L1556 1004.6L1697.9 1053.5L1839.8 1135L1981.7 1210.1L2123.6 1238.2L2265.5 1245.8M1414.1 960.1L1556 1013.1L1697.9 1109.4L1839.8 1185.8L1981.7 1229.9L2123.6 1241.3L2265.5 1248M1414.1 915.7L1556 953L1697.9 1031.6L1839.8 1123.5L1981.7 1194L2123.6 1230.3L2265.5 1244.3M1414.1 948.1L1556 1005.8L1697.9 1097.3L1839.8 1165.9L1981.7 1223.5L2123.6 1240.7L2265.5 1247M1414.1 951.4L1556 995.9L1697.9 1089.2L1839.8 1166.4L1981.7 1221.7L2123.6 1239.4L2265.5 1246.3M1414.1 986.3L1556 1041.1L1697.9 1134.6L1839.8 1217.4L1981.7 1238.6L2123.6 1247L2265.5 1248.6M1414.1 945.9L1556 991.3L1697.9 1074.7L1839.8 1151.7L1981.7 1218.5L2123.6 1238.8L2265.5 1246.3M1414.1 984.5L1556 1032.2L1697.9 1133.8L1839.8 1206.8L1981.7 1240.1L2123.6 1243.4L2265.5 1248M1414.1 982.5L1556 1032.8L1697.9 1122.2L1839.8 1209.3L1981.7 1241.5L2123.6 1247.7L2265.5 1249.1M1414.1 1001.9L1556 1065.2L1697.9 1164.1L1839.8 1237.4L1981.7 1251.2L2123.6 1250.2L2265.5 1249.6M1414.1 1012L1556 1072.5L1697.9 1164.1L1839.8 1238.4L1981.7 1248.2L2123.6 1250.2L2265.5 1249.2M1414.1 1007.8L1556 1072.6L1697.9 1164.1L1839.8 1238.4L1981.7 1250.3L2123.6 1248.6L2265.5 1249.4M1414.1 919.9L1556 960.1L1697.9 1028.1L1839.8 1107.6L1981.7 1191.4L2123.6 1229.7L2265.5 1243.5M1414.1 997.2L1556 1071L1697.9 1161L1839.8 1237.1L1981.7 1251.2L2123.6 1250.2L2265.5 1249.3M1414.1 932.2L1556 984L1697.9 1038L1839.8 1114.4L1981.7 1202.2L2123.6 1233.4L2265.5 1243.7M1414.1 982.9L1556 1043.3L1697.9 1138.6L1839.8 1207.1L1981.7 1233.1L2123.6 1243.9L2265.5 1248.2M1414.1 971.6L1556 1022.1L1697.9 1120.1L1839.8 1200.8L1981.7 1226.7L2123.6 1242L2265.5 1246.2M1414.1 928.8L1556 973.4L1697.9 1035.6L1839.8 1125.8L1981.7 1202.6L2123.6 1234.5L2265.5 1244.2M1414.1 1004.1L1556 1072.6L1697.9 1164.1L1839.8 1238.4L1981.7 1251.2L2123.6 1250.2L2265.5 1250.1M1414.1 992.7L1556 1052L1697.9 1131.1L1839.8 1214.8L1981.7 1247.3L2123.6 1250L2265.5 1249.3M1414.1 971.6L1556 1028.6L1697.9 1096.4L1839.8 1190.7L1981.7 1232.3L2123.6 1243.7L2265.5 1247.1M1414.1 927.9L1556 979L1697.9 1054.3L1839.8 1121.7L1981.7 1195.4L2123.6 1229.7L2265.5 1243.3M1414.1 923L1556 967.7L1697.9 1020.8L1839.8 1095.9L1981.7 1199.1L2123.6 1235.7L2265.5 1246.2M1414.1 934.5L1556 985.1L1697.9 1047L1839.8 1142.1L1981.7 1213.4L2123.6 1238.9L2265.5 1246.4M1414.1 964.7L1556 1012.1L1697.9 1095.3L1839.8 1183.6L1981.7 1230.2L2123.6 1245L2265.5 1249M1414.1 997.2L1556 1069.1L1697.9 1163.1L1839.8 1232.4L1981.7 1245L2123.6 1247.1L2265.5 1248.7M1414.1 930.2L1556 980L1697.9 1037.8L1839.8 1110.7L1981.7 1190.1L2123.6 1229.7L2265.5 1243.7M1414.1 919L1556 973.3L1697.9 1035.2L1839.8 1132.9L1981.7 1216L2123.6 1238.7L2265.5 1245.9M1414.1 992.5L1556 1050.4L1697.9 1143.6L1839.8 1222.5L1981.7 1250.8L2123.6 1250.2L2265.5 1249.6M1414.1 926.2L1556 961.2L1697.9 1024.4L1839.8 1110.4L1981.7 1196.2L2123.6 1234.7L2265.5 1244.7M1414.1 939.7L1556 988.9L1697.9 1081.7L1839.8 1152.9L1981.7 1211.6L2123.6 1241.3L2265.5 1247.5M1414.1 969.2L1556 1031.5L1697.9 1114.6L1839.8 1176.3L1981.7 1223L2123.6 1241.1L2265.5 1247.4M1414.1 1012L1556 1063.2L1697.9 1162.9L1839.8 1231.2L1981.7 1243.9L2123.6 1245.9L2265.5 1248.7M1414.1 967.8L1556 1020L1697.9 1086.2L1839.8 1165.9L1981.7 1211.4L2123.6 1232.4L2265.5 1244.5M1414.1 962.6L1556 1007.5L1697.9 1078.7L1839.8 1160L1981.7 1222.7L2123.6 1240.5L2265.5 1245.9M1414.1 941.2L1556 995.9L1697.9 1069.7L1839.8 1158.1L1981.7 1223.3L2123.6 1242.3L2265.5 1247.2M1414.1 956.2L1556 1005.8L1697.9 1094.7L1839.8 1188.3L1981.7 1225.2L2123.6 1242L2265.5 1246.8M1414.1 930.5L1556 975.6L1697.9 1049.9L1839.8 1135.7L1981.7 1198.9L2123.6 1231.1L2265.5 1243.9M1414.1 993.9L1556 1034.9L1697.9 1101.2L1839.8 1183.5L1981.7 1225.8L2123.6 1245.9L2265.5 1248.3M1414.1 948.7L1556 991.1L1697.9 1060.4L1839.8 1151.6L1981.7 1217.7L2123.6 1239.2L2265.5 1246M1414.1 949.1L1556 996.2L1697.9 1084.9L1839.8 1141.4L1981.7 1208.9L2123.6 1237.5L2265.5 1245.9M1414.1 998.5L1556 1037.6L1697.9 1137.9L1839.8 1196.3L1981.7 1233.6L2123.6 1242.9L2265.5 1246.9M1414.1 931.7L1556 983.3L1697.9 1074.2L1839.8 1176.2L1981.7 1224.6L2123.6 1239.5L2265.5 1246.9M1414.1 915.5L1556 957.5L1697.9 1026.6L1839.8 1111.4L1981.7 1195.6L2123.6 1232L2265.5 1243.7M1414.1 1000.2L1556 1057.4L1697.9 1146.3L1839.8 1231.8L1981.7 1251.2L2123.6 1250.2L2265.5 1250.2M1414.1 1010L1556 1072.6L1697.9 1137.5L1839.8 1209.8L1981.7 1233.5L2123.6 1245.9L2265.5 1248.2M1414.1 971.1L1556 1033.5L1697.9 1101.4L1839.8 1187.4L1981.7 1236.8L2123.6 1247.9L2265.5 1249.4M1414.1 969.6L1556 1017L1697.9 1079.9L1839.8 1155.7L1981.7 1215.7L2123.6 1238.3L2265.5 1246.6M1414.1 958L1556 1007.7L1697.9 1094.4L1839.8 1174L1981.7 1219L2123.6 1243.1L2265.5 1248.3M1414.1 932.1L1556 994.3L1697.9 1076.2L1839.8 1131.1L1981.7 1212.3L2123.6 1237.3L2265.5 1245.8M1414.1 1012L1556 1063.3L1697.9 1164.1L1839.8 1238.4L1981.7 1251.2L2123.6 1250.2L2265.5 1249.6M1414.1 980.9L1556 1037.2L1697.9 1103.6L1839.8 1177.8L1981.7 1227.2L2123.6 1242.7L2265.5 1247.2M1414.1 964.6L1556 1026.1L1697.9 1132.1L1839.8 1203.5L1981.7 1234L2123.6 1246.5L2265.5 1248.8M1414.1 944.1L1556 1003.8L1697.9 1073.2L1839.8 1142.9L1981.7 1209.5L2123.6 1232L2265.5 1243.9M1414.1 934.9L1556 969.7L1697.9 1044.4L1839.8 1131.2L1981.7 1210.1L2123.6 1237.8L2265.5 1246.3M1414.1 965.3L1556 1015.6L1697.9 1083.7L1839.8 1168.8L1981.7 1226.8L2123.6 1242.1L2265.5 1248.6M1414.1 973.6L1556 1023.2L1697.9 1116.5L1839.8 1199.4L1981.7 1234.7L2123.6 1246.3L2265.5 1249.5M1414.1 996.3L1556 1060.9L1697.9 1137.9L1839.8 1189.7L1981.7 1228L2123.6 1242.7L2265.5 1247.9M1414.1 928.5L1556 970.1L1697.9 1035.9L1839.8 1124.7L1981.7 1196.3L2123.6 1232.2L2265.5 1244.1M1414.1 903.1L1556 946.4L1697.9 1010.7L1839.8 1103.6L1981.7 1197.2L2123.6 1234.7L2265.5 1244.8M1414.1 1001.1L1556 1055.7L1697.9 1121.1L1839.8 1195.8L1981.7 1231.9L2123.6 1243L2265.5 1248.1M1414.1 1006.7L1556 1055.4L1697.9 1134.2L1839.8 1213.1L1981.7 1234.8L2123.6 1245.3L2265.5 1249.3M1414.1 906.8L1556 954.7L1697.9 1033.3L1839.8 1120.2L1981.7 1193.3L2123.6 1230.8L2265.5 1243.3M1414.1 960.6L1556 1012L1697.9 1094.4L1839.8 1176.9L1981.7 1226.2L2123.6 1243.6L2265.5 1248.6M1414.1 942.9L1556 990.3L1697.9 1061.7L1839.8 1151.6L1981.7 1208.9L2123.6 1234.3L2265.5 1245.4M1414.1 917.6L1556 976.7L1697.9 1026.7L1839.8 1095.7L1981.7 1190.1L2123.6 1229.7L2265.5 1243.5M1414.1 924.4L1556 972.9L1697.9 1037.4L1839.8 1129.2L1981.7 1201.7L2123.6 1231.7L2265.5 1244.4M1414.1 952.2L1556 989.2L1697.9 1067.1L1839.8 1155.8L1981.7 1216.5L2123.6 1236.7L2265.5 1246.4M1414.1 972.4L1556 1026.5L1697.9 1110.3L1839.8 1178.1L1981.7 1231.1L2123.6 1240.2L2265.5 1246.6M1414.1 924.6L1556 971.6L1697.9 1043.4L1839.8 1138.4L1981.7 1210L2123.6 1239L2265.5 1245.7M1414.1 954.9L1556 1013.9L1697.9 1083.7L1839.8 1165.2L1981.7 1213.7L2123.6 1238.3L2265.5 1246.1M1414.1 946.3L1556 985.8L1697.9 1043.5L1839.8 1111.1L1981.7 1203.9L2123.6 1233.8L2265.5 1245.3M1414.1 963.3L1556 1025.2L1697.9 1099L1839.8 1162.2L1981.7 1211.1L2123.6 1238.2L2265.5 1246.5M1414.1 993.9L1556 1049.6L1697.9 1156.4L1839.8 1233.2L1981.7 1246.4L2123.6 1248.2L2265.5 1249.6M1414.1 963.7L1556 1001.5L1697.9 1071.2L1839.8 1139.9L1981.7 1202L2123.6 1235.4L2265.5 1244.9M1414.1 910.8L1556 957.7L1697.9 1026L1839.8 1116.4L1981.7 1199L2123.6 1233.1L2265.5 1244.6M1414.1 931L1556 987.8L1697.9 1065.3L1839.8 1152.1L1981.7 1213L2123.6 1235.5L2265.5 1245.5M1414.1 996.5L1556 1055.6L1697.9 1154.7L1839.8 1232.6L1981.7 1240.4L2123.6 1249L2265.5 1250.2M1414.1 942.1L1556 996.4L1697.9 1059.9L1839.8 1135.3L1981.7 1206.2L2123.6 1235.7L2265.5 1245.4M1414.1 944.6L1556 982.1L1697.9 1068.3L1839.8 1146.4L1981.7 1210.9L2123.6 1236.5L2265.5 1246.8M1414.1 903.1L1556 946.4L1697.9 1019.1L1839.8 1093.6L1981.7 1198.9L2123.6 1231.8L2265.5 1243.9M1414.1 959.8L1556 1028.3L1697.9 1113L1839.8 1172.1L1981.7 1219.5L2123.6 1239L2265.5 1246M1414.1 984.7L1556 1069.1L1697.9 1164.1L1839.8 1238.4L1981.7 1251.2L2123.6 1250.2L2265.5 1250M1414.1 903.1L1556 949.3L1697.9 1009.5L1839.8 1093.6L1981.7 1190.1L2123.6 1229.7L2265.5 1243.7M1414.1 981.3L1556 1037.2L1697.9 1117.1L1839.8 1198.1L1981.7 1235.3L2123.6 1243.5L2265.5 1247.4M1414.1 1006.4L1556 1070.9L1697.9 1153.6L1839.8 1219.6L1981.7 1251.2L2123.6 1247.3L2265.5 1248.7M1414.1 967.4L1556 1025.4L1697.9 1108.4L1839.8 1197.5L1981.7 1238L2123.6 1246.5L2265.5 1248.9M1414.1 963.7L1556 1023.8L1697.9 1111L1839.8 1198.8L1981.7 1237.6L2123.6 1243.3L2265.5 1248.7M1414.1 922.7L1556 974.3L1697.9 1056.5L1839.8 1133.7L1981.7 1212.6L2123.6 1237.4L2265.5 1245.4M1414.1 954.8L1556 1006.8L1697.9 1082.1L1839.8 1155.6L1981.7 1220.9L2123.6 1238.2L2265.5 1245.8M1414.1 927.5L1556 965.4L1697.9 1067.7L1839.8 1153.5L1981.7 1207.1L2123.6 1234.9L2265.5 1245.3M1414.1 992.5L1556 1046.7L1697.9 1141.4L1839.8 1211.9L1981.7 1233.3L2123.6 1243.9L2265.5 1247.9M1414.1 970.6L1556 1029L1697.9 1127.1L1839.8 1208.9L1981.7 1240.1L2123.6 1245.7L2265.5 1248.2M1414.1 917.6L1556 957.7L1697.9 1034.5L1839.8 1121.3L1981.7 1203.2L2123.6 1234.4L2265.5 1245.2M1414.1 952.1L1556 1005.3L1697.9 1099.1L1839.8 1183.6L1981.7 1225.6L2123.6 1244.7L2265.5 1247.1M1414.1 942.6L1556 986.7L1697.9 1076.1L1839.8 1155.8L1981.7 1216.7L2123.6 1237.6L2265.5 1246.5M1414.1 903.3L1556 946.4L1697.9 1016.4L1839.8 1109.9L1981.7 1205.4L2123.6 1235.8L2265.5 1245.1M1414.1 926.8L1556 962.9L1697.9 1035.8L1839.8 1123.5L1981.7 1210L2123.6 1237.5L2265.5 1246.6M1414.1 909.7L1556 955.6L1697.9 1025.1L1839.8 1101.3L1981.7 1190.1L2123.6 1229.7L2265.5 1244.2M1414.1 951.9L1556 1017.1L1697.9 1100.8L1839.8 1168.6L1981.7 1234.2L2123.6 1242.6L2265.5 1247.6M1414.1 948.6L1556 1004.8L1697.9 1094.8L1839.8 1161.1L1981.7 1222.4L2123.6 1240L2265.5 1247.2M1414.1 968L1556 1010.7L1697.9 1071.1L1839.8 1157.8L1981.7 1217.2L2123.6 1237.8L2265.5 1245.9M1414.1 936.9L1556 990L1697.9 1053.1L1839.8 1140.7L1981.7 1203.6L2123.6 1234.7L2265.5 1245.5M1414.1 963.1L1556 1020L1697.9 1102.8L1839.8 1188.1L1981.7 1227.8L2123.6 1241.9L2265.5 1246.6M1414.1 964.2L1556 1012.3L1697.9 1107.1L1839.8 1169L1981.7 1230.3L2123.6 1242.5L2265.5 1248.6M1414.1 955.8L1556 1010.3L1697.9 1110.5L1839.8 1196.8L1981.7 1228.3L2123.6 1241.6L2265.5 1247.4M1414.1 919L1556 951L1697.9 1015.4L1839.8 1093.6L1981.7 1196.9L2123.6 1234.4L2265.5 1244.1M1414.1 1006.9L1556 1061.8L1697.9 1139.6L1839.8 1208L1981.7 1235.6L2123.6 1242.4L2265.5 1247.4M1414.1 960.8L1556 1011.3L1697.9 1066.1L1839.8 1148.9L1981.7 1224.9L2123.6 1241.2L2265.5 1247.1M1414.1 961L1556 1024.1L1697.9 1102.8L1839.8 1160.1L1981.7 1219.6L2123.6 1237.6L2265.5 1245.7M1414.1 1000.2L1556 1058L1697.9 1155.6L1839.8 1230.2L1981.7 1251L2123.6 1248.4L2265.5 1249.9M1414.1 1000.8L1556 1069.3L1697.9 1131.7L1839.8 1212.7L1981.7 1248L2123.6 1249.2L2265.5 1250M1414.1 942L1556 996.4L1697.9 1060.4L1839.8 1155L1981.7 1215.3L2123.6 1236.9L2265.5 1246.2M1414.1 916.9L1556 963.8L1697.9 1038L1839.8 1112.2L1981.7 1205.6L2123.6 1234.1L2265.5 1243.6M1414.1 961.7L1556 1023.4L1697.9 1094.9L1839.8 1182.2L1981.7 1229.6L2123.6 1243L2265.5 1246.8M1414.1 953.1L1556 1003.1L1697.9 1069.7L1839.8 1142.6L1981.7 1209.7L2123.6 1234.1L2265.5 1244.3M1414.1 954.6L1556 1019.8L1697.9 1080L1839.8 1168.7L1981.7 1215.6L2123.6 1236.4L2265.5 1246.1M1414.1 961.9L1556 1004.7L1697.9 1091.5L1839.8 1172.9L1981.7 1228.1L2123.6 1244.3L2265.5 1248.1M1414.1 944.6L1556 990.2L1697.9 1067.2L1839.8 1151.6L1981.7 1220.6L2123.6 1238.8L2265.5 1246.2M1414.1 989.6L1556 1042.9L1697.9 1108.7L1839.8 1184.2L1981.7 1227.1L2123.6 1242.8L2265.5 1247.4M1414.1 933L1556 969.9L1697.9 1039.8L1839.8 1131.2L1981.7 1209.1L2123.6 1236.8L2265.5 1246.3M1414.1 944.8L1556 1007.5L1697.9 1070.1L1839.8 1154L1981.7 1214.2L2123.6 1238.3L2265.5 1246M1414.1 946.4L1556 988.4L1697.9 1090.8L1839.8 1175.1L1981.7 1224.7L2123.6 1241.6L2265.5 1248.1M1414.1 909.6L1556 973.9L1697.9 1054L1839.8 1128L1981.7 1208.4L2123.6 1236.3L2265.5 1245.6M1414.1 975.2L1556 1020.6L1697.9 1099.9L1839.8 1176.7L1981.7 1226.1L2123.6 1241.5L2265.5 1247.4M1414.1 943L1556 1006.2L1697.9 1109.7L1839.8 1183L1981.7 1230.5L2123.6 1245.7L2265.5 1248.2M1414.1 913.5L1556 967.9L1697.9 1044.3L1839.8 1135.4L1981.7 1208.6L2123.6 1237.7L2265.5 1246.1M1414.1 929.5L1556 978.5L1697.9 1039.2L1839.8 1105.6L1981.7 1193.1L2123.6 1229.8L2265.5 1243.6M1414.1 952.3L1556 990.9L1697.9 1064.2L1839.8 1149.9L1981.7 1214.9L2123.6 1236.4L2265.5 1246.7M1414.1 1006.9L1556 1053.8L1697.9 1158.6L1839.8 1223.9L1981.7 1246.8L2123.6 1248.8L2265.5 1248.9M1414.1 923.8L1556 967.3L1697.9 1049.4L1839.8 1132.1L1981.7 1202.1L2123.6 1233.3L2265.5 1244.4M1414.1 967.1L1556 1026.4L1697.9 1087L1839.8 1164.6L1981.7 1217L2123.6 1241L2265.5 1247.1M1414.1 918.5L1556 953L1697.9 1013.9L1839.8 1095.3L1981.7 1190.1L2123.6 1231.6L2265.5 1243.9M1414.1 982.7L1556 1045.6L1697.9 1112.2L1839.8 1167.5L1981.7 1231.1L2123.6 1243.7L2265.5 1248.9M1414.1 940.8L1556 984.1L1697.9 1051.9L1839.8 1143.5L1981.7 1218.2L2123.6 1237.4L2265.5 1246.2M1414.1 938.8L1556 987.9L1697.9 1063.8L1839.8 1155.6L1981.7 1214.1L2123.6 1239L2265.5 1247.3M1414.1 946.5L1556 1012.3L1697.9 1093L1839.8 1162.8L1981.7 1216.6L2123.6 1235.4L2265.5 1244.6M1414.1 985.8L1556 1040L1697.9 1109.6L1839.8 1190.2L1981.7 1224.1L2123.6 1242.5L2265.5 1247.5M1414.1 909.1L1556 953.6L1697.9 1009.5L1839.8 1097.3L1981.7 1200L2123.6 1233.1L2265.5 1243.7M1414.1 938.9L1556 989.6L1697.9 1039.7L1839.8 1146.3L1981.7 1201.5L2123.6 1236.7L2265.5 1245.7M1414.1 1004L1556 1065.3L1697.9 1158.7L1839.8 1226L1981.7 1241.4L2123.6 1247.4L2265.5 1248.6M1414.1 942.3L1556 1005.1L1697.9 1075.6L1839.8 1145.1L1981.7 1213.9L2123.6 1238.7L2265.5 1247M1414.1 903.5L1556 952.2L1697.9 1018.8L1839.8 1106.8L1981.7 1195.8L2123.6 1230.9L2265.5 1244.9M1414.1 906.8L1556 959.6L1697.9 1010.4L1839.8 1093.6L1981.7 1194.6L2123.6 1232.5L2265.5 1243.5M1414.1 981.8L1556 1053.5L1697.9 1140.3L1839.8 1211.9L1981.7 1237.7L2123.6 1245.2L2265.5 1249.3M1414.1 1004L1556 1067.1L1697.9 1136.7L1839.8 1211.2L1981.7 1238.1L2123.6 1244.5L2265.5 1247.2M1414.1 978.6L1556 1056.9L1697.9 1156.7L1839.8 1208.1L1981.7 1229L2123.6 1243L2265.5 1248.3M1414.1 997.7L1556 1061.8L1697.9 1164.1L1839.8 1238.4L1981.7 1251.2L2123.6 1250.2L2265.5 1250.2M1414.1 1009.8L1556 1072.4L1697.9 1157.2L1839.8 1238.4L1981.7 1251.2L2123.6 1250.2L2265.5 1250.1M1414.1 994.3L1556 1040L1697.9 1096.7L1839.8 1170.3L1981.7 1215.1L2123.6 1236.5L2265.5 1245.4M1414.1 926.5L1556 953.2L1697.9 1016.7L1839.8 1108.8L1981.7 1198.8L2123.6 1231.3L2265.5 1244.2M1414.1 914.1L1556 956.5L1697.9 1009.5L1839.8 1107.9L1981.7 1198.6L2123.6 1232.8L2265.5 1244.1M1414.1 978.3L1556 1020.5L1697.9 1104.8L1839.8 1172.2L1981.7 1224.3L2123.6 1242.4L2265.5 1247.3M1414.1 935.7L1556 996.9L1697.9 1080.7L1839.8 1165.4L1981.7 1221.7L2123.6 1241.8L2265.5 1247M1414.1 928L1556 985.7L1697.9 1069.5L1839.8 1137.4L1981.7 1205.3L2123.6 1235.4L2265.5 1245.6M1414.1 1007.8L1556 1065.6L1697.9 1143.2L1839.8 1228.3L1981.7 1247L2123.6 1248.8L2265.5 1250.2M1414.1 906.4L1556 950.5L1697.9 1035.7L1839.8 1127.6L1981.7 1200.2L2123.6 1236.4L2265.5 1246.6M1414.1 997.6L1556 1048.3L1697.9 1122.8L1839.8 1226.6L1981.7 1249.3L2123.6 1250.2L2265.5 1250.2M1414.1 909.5L1556 961.6L1697.9 1026L1839.8 1107.3L1981.7 1190.1L2123.6 1230.6L2265.5 1243.3M1414.1 973.8L1556 1029.1L1697.9 1108.1L1839.8 1186.3L1981.7 1222.3L2123.6 1241.6L2265.5 1247.8M1414.1 917.6L1556 956.2L1697.9 1021.9L1839.8 1112.2L1981.7 1199.7L2123.6 1233.9L2265.5 1244.4M1414.1 927.8L1556 974L1697.9 1041.8L1839.8 1110.9L1981.7 1199.4L2123.6 1232.1L2265.5 1243.8M1414.1 980.8L1556 1033.9L1697.9 1129.3L1839.8 1195.1L1981.7 1230.3L2123.6 1242.1L2265.5 1247.6M1414.1 981.1L1556 1049.3L1697.9 1133.5L1839.8 1208.7L1981.7 1234.6L2123.6 1244.9L2265.5 1248.1M1414.1 923.9L1556 963.2L1697.9 1013.3L1839.8 1093.6L1981.7 1196.8L2123.6 1233.5L2265.5 1244.9M1414.1 937.4L1556 984L1697.9 1050.3L1839.8 1126.9L1981.7 1204.8L2123.6 1234.1L2265.5 1244.4M1414.1 938.4L1556 979.9L1697.9 1033.3L1839.8 1093.6L1981.7 1195.2L2123.6 1231L2265.5 1243.7M1414.1 926.9L1556 980.2L1697.9 1062L1839.8 1149.2L1981.7 1210.7L2123.6 1238.2L2265.5 1246.4M1414.1 923.3L1556 981.3L1697.9 1070.5L1839.8 1158.9L1981.7 1211.5L2123.6 1239.5L2265.5 1246.2M1414.1 959.1L1556 1004.4L1697.9 1074.6L1839.8 1148.1L1981.7 1213.3L2123.6 1236.2L2265.5 1245.8M1414.1 903.1L1556 947.1L1697.9 1020.5L1839.8 1093.6L1981.7 1191.3L2123.6 1231.6L2265.5 1243.6M1414.1 934.2L1556 993.8L1697.9 1067.2L1839.8 1144.5L1981.7 1208.8L2123.6 1238.2L2265.5 1246.8M1414.1 915.3L1556 956.5L1697.9 1009.5L1839.8 1108.4L1981.7 1201.5L2123.6 1234.5L2265.5 1244.1M1414.1 961.3L1556 1036.2L1697.9 1117.4L1839.8 1185L1981.7 1222.4L2123.6 1241.6L2265.5 1246.3M1414.1 926.6L1556 957.6L1697.9 1024L1839.8 1121.4L1981.7 1191.8L2123.6 1229.7L2265.5 1243.9M1414.1 942.2L1556 990L1697.9 1075.3L1839.8 1179.5L1981.7 1223.3L2123.6 1241.9L2265.5 1247.5M1414.1 969.6L1556 1030.1L1697.9 1108L1839.8 1179.4L1981.7 1225.3L2123.6 1242.1L2265.5 1247.5M1414.1 961.9L1556 1016.6L1697.9 1088.1L1839.8 1160.4L1981.7 1215.4L2123.6 1238L2265.5 1245.8M1414.1 988.1L1556 1039L1697.9 1114.1L1839.8 1183.3L1981.7 1225L2123.6 1242.5L2265.5 1248.2M1414.1 1009.2L1556 1061.7L1697.9 1157.1L1839.8 1235.8L1981.7 1251.2L2123.6 1250.2L2265.5 1250.2M1414.1 920L1556 952.2L1697.9 1024.4L1839.8 1123.8L1981.7 1197.6L2123.6 1231.3L2265.5 1243.3M1414.1 1007.5L1556 1051.8L1697.9 1133.9L1839.8 1214.9L1981.7 1231L2123.6 1243.1L2265.5 1248.2M1414.1 1010.7L1556 1072.6L1697.9 1157.5L1839.8 1229.8L1981.7 1247.7L2123.6 1248.9L2265.5 1250.2M1414.1 989.7L1556 1042.5L1697.9 1110.6L1839.8 1165.1L1981.7 1220.5L2123.6 1240.7L2265.5 1247.4M1414.1 904.8L1556 948.1L1697.9 1009.5L1839.8 1098.7L1981.7 1190.1L2123.6 1229.9L2265.5 1243.3M1414.1 928.4L1556 975.3L1697.9 1036.3L1839.8 1118.2L1981.7 1197.8L2123.6 1233.2L2265.5 1244.8M1414.1 939.2L1556 994.7L1697.9 1062L1839.8 1140.2L1981.7 1208.6L2123.6 1236.1L2265.5 1245.1M1414.1 923.7L1556 971L1697.9 1042.2L1839.8 1135.6L1981.7 1197.3L2123.6 1233L2265.5 1243.9M1414.1 919.4L1556 969.8L1697.9 1028.2L1839.8 1109.7L1981.7 1202.1L2123.6 1233.3L2265.5 1243.7M1414.1 961.1L1556 1000.6L1697.9 1049.8L1839.8 1129.7L1981.7 1207.6L2123.6 1235.5L2265.5 1245.5M1414.1 975.8L1556 1038.7L1697.9 1107.3L1839.8 1185.5L1981.7 1240.3L2123.6 1248L2265.5 1249.3M1414.1 945.3L1556 1000.2L1697.9 1084.9L1839.8 1157.6L1981.7 1219.3L2123.6 1240.9L2265.5 1246.7M1414.1 971.1L1556 1034.9L1697.9 1123.2L1839.8 1205.7L1981.7 1242.8L2123.6 1248.4L2265.5 1248.9M1414.1 903.1L1556 946.4L1697.9 1009.5L1839.8 1099.4L1981.7 1190.1L2123.6 1229.7L2265.5 1243.3M1414.1 903.1L1556 952.4L1697.9 1009.5L1839.8 1098L1981.7 1197.2L2123.6 1234.3L2265.5 1245.2M1414.1 996.2L1556 1062L1697.9 1153.1L1839.8 1228.3L1981.7 1246.2L2123.6 1246.1L2265.5 1249M1414.1 979.9L1556 1039.8L1697.9 1127.2L1839.8 1202.9L1981.7 1229.1L2123.6 1241L2265.5 1247.1M1414.1 1006.4L1556 1072.6L1697.9 1164.1L1839.8 1238.4L1981.7 1246.9L2123.6 1249.9L2265.5 1250.2M1414.1 948.7L1556 985.4L1697.9 1066.4L1839.8 1141.6L1981.7 1204.2L2123.6 1232.9L2265.5 1244.6M1414.1 961.1L1556 1018.8L1697.9 1094L1839.8 1168.8L1981.7 1225.9L2123.6 1240.7L2265.5 1246.9M1414.1 1004.8L1556 1062.2L1697.9 1164.1L1839.8 1230L1981.7 1245L2123.6 1246.8L2265.5 1249.1M1414.1 957.8L1556 998L1697.9 1083.8L1839.8 1164L1981.7 1217L2123.6 1239.2L2265.5 1247M1414.1 1006.7L1556 1051.3L1697.9 1143.8L1839.8 1238.4L1981.7 1246.5L2123.6 1248.6L2265.5 1249.4M1414.1 983.6L1556 1057.8L1697.9 1139.4L1839.8 1227L1981.7 1243.5L2123.6 1250.2L2265.5 1249.6M1414.1 985.9L1556 1041.5L1697.9 1125.3L1839.8 1201.3L1981.7 1240.8L2123.6 1243.4L2265.5 1248.2M1414.1 1010L1556 1065L1697.9 1149.7L1839.8 1225.6L1981.7 1240.4L2123.6 1247.6L2265.5 1249.1M1414.1 1023.1L1556 1099.8L1697.9 1203.7L1839.8 1242.3L1981.7 1251.2L2123.6 1250.2L2265.5 1250.2M1414.1 900.2L1556 943.7L1697.9 998.4L1839.8 1079L1981.7 1181.5L2123.6 1227.2L2265.5 1241.8M1414.1 1023.6L1556 1088.9L1697.9 1179L1839.8 1238.4L1981.7 1250.7L2123.6 1253.2L2265.5 1253.2M1414.1 1037.7L1556 1018.2L1697.9 1104.8L1839.8 1203.7L1981.7 1245.8L2123.6 1253.2L2265.5 1253.2M1414.1 1037.7L1556 1098.8L1697.9 1188.9L1839.8 1240.8L1981.7 1250.7L2123.6 1253.2L2265.5 1253.2M1414.1 1042.7L1556 1111.9L1697.9 1206.2L1839.8 1242.1L1981.7 1250.7L2123.6 1253.2L2265.5 1253.2M1414.1 906.8L1556 945.2L1697.9 983.3L1839.8 1062L1981.7 1174L2123.6 1226.7L2265.5 1245.8M1414.1 904.4L1556 946.4L1697.9 998.4L1839.8 1079L1981.7 1181.5L2123.6 1230.9L2265.5 1231.4" stroke="#b3b3b3" stroke-width="2.2" fill="none" stroke-linejoin="round"/>
<path d="M1414.1 1021.8h0M1556 1095h0M1697.9 1194.2h0M1839.8 1240.8h0M1981.7 1251.2h0M2123.6 1250.2h0M2265.5 1250.2h0M1414.1 1020.1h0M1556 1092.4h0M1697.9 1191.2h0M1839.8 1241.7h0M1981.7 1251.2h0M2123.6 1250.2h0M2265.5 1250.2h0M1414.1 1019.5h0M1556 1091h0M1697.9 1188.8h0M1839.8 1240.6h0M1981.7 1251.2h0M2123.6 1250.2h0M2265.5 1250.2h0M1414.1 1020.3h0M1556 1093.5h0M1697.9 1197h0M1839.8 1241.4h0M1981.7 1251.2h0M2123.6 1250.2h0M2265.5 1250.2h0M1414.1 1019.1h0M1556 1090.3h0M1697.9 1190.7h0M1839.8 1240.9h0M1981.7 1251.2h0M2123.6 1250.2h0M2265.5 1250.2h0M1414.1 1017.6h0M1556 1084.2h0M1697.9 1181.4h0M1839.8 1239.9h0M1981.7 1251.2h0M2123.6 1250.2h0M2265.5 1250.2h0M1414.1 1015.3h0M1556 1081.6h0M1697.9 1175.8h0M1839.8 1239.2h0M1981.7 1251.2h0M2123.6 1250.2h0M2265.5 1250.2h0M1414.1 1013.3h0M1556 1073.3h0M1697.9 1163.2h0M1839.8 1235.4h0M1981.7 1250h0M2123.6 1248.9h0M2265.5 1250.2h0M1414.1 1014.4h0M1556 1077.6h0M1697.9 1169.7h0M1839.8 1239.4h0M1981.7 1251.2h0M2123.6 1250.2h0M2265.5 1250.2h0M1414.1 1011.8h0M1981.7 1246.6h0M2123.6 1250.2h0M2265.5 1250.1h0M1414.1 900.2h0M1556 943.7h0M1697.9 998.4h0M1839.8 1079h0M1981.7 1182.8h0M2123.6 1227.8h0M2265.5 1242.1h0M1414.1 901.5h0M1556 944.7h0M1697.9 1002.7h0M1839.8 1085h0M1981.7 1184.8h0M2123.6 1228h0M2265.5 1242.5h0M1414.1 901.7h0M1556 945.3h0M1697.9 1005.3h0M1839.8 1090.8h0M1981.7 1188.9h0M2123.6 1229.3h0M2265.5 1243.2h0M1414.1 902.1h0M1556 945.4h0M1697.9 1004.5h0M1839.8 1087.1h0M1981.7 1186.4h0M2123.6 1228.5h0M2265.5 1242.3h0M1414.1 902.9h0M1556 946.6h0M1697.9 1009.5h0M1839.8 1093.6h0M1981.7 1190.1h0M2123.6 1229.8h0M2265.5 1243.9h0M1556 1069.2h0M1697.9 1164.1h0M1839.8 1233.5h0M1981.7 1249.9h0M2123.6 1245.8h0M2265.5 1249h0M2265.5 1249h0M2123.6 1233.2h0M2265.5 1244.2h0M2123.6 1232.1h0M2265.5 1243.9h0M1556 949.1h0M1981.7 1191.7h0M2123.6 1232h0M2265.5 1244h0M2265.5 1247h0M1981.7 1191.2h0M2123.6 1231.3h0M2265.5 1243.8h0M1556 1072.6h0M1981.7 1251.2h0M2123.6 1250.2h0M2265.5 1249.4h0M2265.5 1246h0M1697.9 1013.4h0M1981.7 1190.1h0M2123.6 1230h0M2265.5 1243.7h0M2265.5 1246.8h0M2123.6 1233.4h0M2265.5 1243.9h0M2265.5 1247.3h0M2265.5 1247.3h0M2123.6 1246.1h0M2265.5 1250.1h0M1556 1069.9h0M1697.9 1164.1h0M1839.8 1238.4h0M1981.7 1251.2h0M2123.6 1249h0M2265.5 1249.1h0M2123.6 1232.7h0M2265.5 1243.3h0M1414.1 903.1h0M1981.7 1194h0M2123.6 1230.6h0M2265.5 1243.3h0M2265.5 1245.3h0M1414.1 1012h0M1556 1072.6h0M2123.6 1248.7h0M2265.5 1249.6h0M2265.5 1244.6h0M1981.7 1250.4h0M2123.6 1249.9h0M2265.5 1249.9h0M2265.5 1247.2h0M1414.1 904.2h0M1556 948.8h0M1839.8 1093.6h0M1981.7 1190.1h0M2123.6 1229.7h0M2265.5 1243.3h0M2265.5 1245.4h0M2265.5 1247.3h0M1981.7 1190.1h0M2123.6 1230.7h0M2265.5 1243.9h0M1981.7 1251.2h0M2123.6 1250.2h0M2265.5 1249.4h0M1414.1 907.9h0M2123.6 1233.4h0M2265.5 1244.2h0M2123.6 1230.8h0M2265.5 1243.3h0M2123.6 1248.1h0M2265.5 1249h0M2265.5 1247.3h0M1556 946.4h0M2123.6 1233h0M2265.5 1245.2h0M2265.5 1247.9h0M2265.5 1244.8h0M2265.5 1245.6h0M1556 1069.3h0M1697.9 1163.9h0M1839.8 1238.4h0M2123.6 1250h0M2265.5 1250h0M2265.5 1245.7h0M2123.6 1247.9h0M2265.5 1249.1h0M2123.6 1233.3h0M2265.5 1245h0M2123.6 1246.6h0M2265.5 1249.5h0M2265.5 1247.4h0M2265.5 1246.6h0M1414.1 1012h0M1556 1072.6h0M1839.8 1238.4h0M1981.7 1251.2h0M2123.6 1249h0M2265.5 1249.7h0M2123.6 1247.5h0M2265.5 1248.3h0M2123.6 1245.3h0M2265.5 1248.7h0M2265.5 1246.9h0M1556 946.4h0M1697.9 1011.2h0M1981.7 1191.8h0M2123.6 1231.2h0M2265.5 1243.3h0M2265.5 1245.8h0M2265.5 1246.6h0M1414.1 1012h0M2265.5 1247.7h0M2123.6 1231.3h0M2265.5 1244.4h0M2265.5 1248.8h0M1981.7 1190.1h0M2123.6 1229.7h0M2265.5 1243.3h0M2265.5 1244.7h0M2265.5 1244.8h0M2123.6 1245.9h0M2265.5 1248.8h0M1414.1 903.1h0M1556 950.7h0M2123.6 1232.5h0M2265.5 1244.1h0M2123.6 1246.7h0M2265.5 1249.6h0M2123.6 1245.4h0M2265.5 1248.9h0M2265.5 1245.7h0M2265.5 1245h0M2265.5 1244.3h0M2123.6 1246.9h0M2265.5 1248.9h0M2265.5 1246.3h0M1414.1 1009.6h0M1556 1069.2h0M1697.9 1164.1h0M2265.5 1246.5h0M2123.6 1246.4h0M2265.5 1248.1h0M2123.6 1245.7h0M2265.5 1248.6h0M2265.5 1246.7h0M2265.5 1247h0M2123.6 1247.3h0M2265.5 1249.2h0M2123.6 1230.4h0M2265.5 1243.7h0M2265.5 1246.4h0M1839.8 1093.6h0M1981.7 1190.1h0M2123.6 1230.9h0M2265.5 1243.9h0M2265.5 1247.4h0M1981.7 1192.4h0M2123.6 1229.7h0M2265.5 1243.3h0M2265.5 1246.3h0M2265.5 1245.7h0M1981.7 1249.2h0M2123.6 1250.2h0M2265.5 1250.2h0M2265.5 1245.8h0M2265.5 1248h0M1981.7 1194h0M2123.6 1230.3h0M2265.5 1244.3h0M2265.5 1247h0M2265.5 1246.3h0M2123.6 1247h0M2265.5 1248.6h0M2265.5 1246.3h0M2265.5 1248h0M2123.6 1247.7h0M2265.5 1249.1h0M1697.9 1164.1h0M1839.8 1237.4h0M1981.7 1251.2h0M2123.6 1250.2h0M2265.5 1249.6h0M1414.1 1012h0M1556 1072.5h0M1697.9 1164.1h0M1839.8 1238.4h0M1981.7 1248.2h0M2123.6 1250.2h0M2265.5 1249.2h0M1414.1 1007.8h0M1556 1072.6h0M1697.9 1164.1h0M1839.8 1238.4h0M1981.7 1250.3h0M2123.6 1248.6h0M2265.5 1249.4h0M1981.7 1191.4h0M2123.6 1229.7h0M2265.5 1243.5h0M1556 1071h0M1697.9 1161h0M1839.8 1237.1h0M1981.7 1251.2h0M2123.6 1250.2h0M2265.5 1249.3h0M2123.6 1233.4h0M2265.5 1243.7h0M2265.5 1248.2h0M2265.5 1246.2h0M2123.6 1234.5h0M2265.5 1244.2h0M1556 1072.6h0M1697.9 1164.1h0M1839.8 1238.4h0M1981.7 1251.2h0M2123.6 1250.2h0M2265.5 1250.1h0M1981.7 1247.3h0M2123.6 1250h0M2265.5 1249.3h0M2265.5 1247.1h0M2123.6 1229.7h0M2265.5 1243.3h0M1839.8 1095.9h0M2265.5 1246.2h0M2265.5 1246.4h0M2265.5 1249h0M1556 1069.1h0M1697.9 1163.1h0M2123.6 1247.1h0M2265.5 1248.7h0M1981.7 1190.1h0M2123.6 1229.7h0M2265.5 1243.7h0M2265.5 1245.9h0M1981.7 1250.8h0M2123.6 1250.2h0M2265.5 1249.6h0M2265.5 1244.7h0M2265.5 1247.5h0M2265.5 1247.4h0M1414.1 1012h0M1697.9 1162.9h0M2123.6 1245.9h0M2265.5 1248.7h0M2123.6 1232.4h0M2265.5 1244.5h0M2265.5 1245.9h0M2265.5 1247.2h0M2265.5 1246.8h0M2123.6 1231.1h0M2265.5 1243.9h0M2123.6 1245.9h0M2265.5 1248.3h0M2265.5 1246h0M2265.5 1245.9h0M2265.5 1246.9h0M2265.5 1246.9h0M2123.6 1232h0M2265.5 1243.7h0M1981.7 1251.2h0M2123.6 1250.2h0M2265.5 1250.2h0M1414.1 1010h0M1556 1072.6h0M2123.6 1245.9h0M2265.5 1248.2h0M2123.6 1247.9h0M2265.5 1249.4h0M2265.5 1246.6h0M2265.5 1248.3h0M2265.5 1245.8h0M1414.1 1012h0M1697.9 1164.1h0M1839.8 1238.4h0M1981.7 1251.2h0M2123.6 1250.2h0M2265.5 1249.6h0M2265.5 1247.2h0M2123.6 1246.5h0M2265.5 1248.8h0M2123.6 1232h0M2265.5 1243.9h0M2265.5 1246.3h0M2265.5 1248.6h0M2123.6 1246.3h0M2265.5 1249.5h0M2265.5 1247.9h0M2123.6 1232.2h0M2265.5 1244.1h0M1414.1 903.1h0M1556 946.4h0M1697.9 1010.7h0M2265.5 1244.8h0M2265.5 1248.1h0M2265.5 1249.3h0M1414.1 906.8h0M1981.7 1193.3h0M2123.6 1230.8h0M2265.5 1243.3h0M2265.5 1248.6h0M2123.6 1234.3h0M2265.5 1245.4h0M1839.8 1095.7h0M1981.7 1190.1h0M2123.6 1229.7h0M2265.5 1243.5h0M2123.6 1231.7h0M2265.5 1244.4h0M2265.5 1246.4h0M2265.5 1246.6h0M2265.5 1245.7h0M2265.5 1246.1h0M2123.6 1233.8h0M2265.5 1245.3h0M2265.5 1246.5h0M1981.7 1246.4h0M2123.6 1248.2h0M2265.5 1249.6h0M2265.5 1244.9h0M2123.6 1233.1h0M2265.5 1244.6h0M2265.5 1245.5h0M2123.6 1249h0M2265.5 1250.2h0M2265.5 1245.4h0M2265.5 1246.8h0M1414.1 903.1h0M1556 946.4h0M1839.8 1093.6h0M2123.6 1231.8h0M2265.5 1243.9h0M2265.5 1246h0M1556 1069.1h0M1697.9 1164.1h0M1839.8 1238.4h0M1981.7 1251.2h0M2123.6 1250.2h0M2265.5 1250h0M1414.1 903.1h0M1556 949.3h0M1697.9 1009.5h0M1839.8 1093.6h0M1981.7 1190.1h0M2123.6 1229.7h0M2265.5 1243.7h0M2265.5 1247.4h0M1556 1070.9h0M1981.7 1251.2h0M2123.6 1247.3h0M2265.5 1248.7h0M2123.6 1246.5h0M2265.5 1248.9h0M2265.5 1248.7h0M2265.5 1245.4h0M2265.5 1245.8h0M2265.5 1245.3h0M2265.5 1247.9h0M2123.6 1245.7h0M2265.5 1248.2h0M2123.6 1234.4h0M2265.5 1245.2h0M2265.5 1247.1h0M2265.5 1246.5h0M1414.1 903.3h0M1556 946.4h0M2265.5 1245.1h0M2265.5 1246.6h0M1981.7 1190.1h0M2123.6 1229.7h0M2265.5 1244.2h0M2265.5 1247.6h0M2265.5 1247.2h0M2265.5 1245.9h0M2265.5 1245.5h0M2265.5 1246.6h0M2265.5 1248.6h0M2265.5 1247.4h0M1556 951h0M1839.8 1093.6h0M2123.6 1234.4h0M2265.5 1244.1h0M2265.5 1247.4h0M2265.5 1247.1h0M2265.5 1245.7h0M1981.7 1251h0M2123.6 1248.4h0M2265.5 1249.9h0M1556 1069.3h0M1981.7 1248h0M2123.6 1249.2h0M2265.5 1250h0M2265.5 1246.2h0M2123.6 1234.1h0M2265.5 1243.6h0M2265.5 1246.8h0M2123.6 1234.1h0M2265.5 1244.3h0M2265.5 1246.1h0M2265.5 1248.1h0M2265.5 1246.2h0M2265.5 1247.4h0M2265.5 1246.3h0M2265.5 1246h0M2265.5 1248.1h0M2265.5 1245.6h0M2265.5 1247.4h0M2123.6 1245.7h0M2265.5 1248.2h0M2265.5 1246.1h0M1981.7 1193.1h0M2123.6 1229.8h0M2265.5 1243.6h0M2265.5 1246.7h0M1981.7 1246.8h0M2123.6 1248.8h0M2265.5 1248.9h0M2123.6 1233.3h0M2265.5 1244.4h0M2265.5 1247.1h0M1697.9 1013.9h0M1839.8 1095.3h0M1981.7 1190.1h0M2123.6 1231.6h0M2265.5 1243.9h0M2265.5 1248.9h0M2265.5 1246.2h0M2265.5 1247.3h0M2265.5 1244.6h0M2265.5 1247.5h0M1697.9 1009.5h0M1839.8 1097.3h0M2123.6 1233.1h0M2265.5 1243.7h0M2265.5 1245.7h0M2123.6 1247.4h0M2265.5 1248.6h0M2265.5 1247h0M1414.1 903.5h0M2123.6 1230.9h0M2265.5 1244.9h0M1414.1 906.8h0M1697.9 1010.4h0M1839.8 1093.6h0M1981.7 1194.6h0M2123.6 1232.5h0M2265.5 1243.5h0M2265.5 1249.3h0M2265.5 1247.2h0M2265.5 1248.3h0M1697.9 1164.1h0M1839.8 1238.4h0M1981.7 1251.2h0M2123.6 1250.2h0M2265.5 1250.2h0M1414.1 1009.8h0M1556 1072.4h0M1839.8 1238.4h0M1981.7 1251.2h0M2123.6 1250.2h0M2265.5 1250.1h0M2265.5 1245.4h0M2123.6 1231.3h0M2265.5 1244.2h0M1697.9 1009.5h0M2123.6 1232.8h0M2265.5 1244.1h0M2265.5 1247.3h0M2265.5 1247h0M2265.5 1245.6h0M1414.1 1007.8h0M1981.7 1247h0M2123.6 1248.8h0M2265.5 1250.2h0M1414.1 906.4h0M1556 950.5h0M2265.5 1246.6h0M1981.7 1249.3h0M2123.6 1250.2h0M2265.5 1250.2h0M1981.7 1190.1h0M2123.6 1230.6h0M2265.5 1243.3h0M2265.5 1247.8h0M2123.6 1233.9h0M2265.5 1244.4h0M2123.6 1232.1h0M2265.5 1243.8h0M2265.5 1247.6h0M2265.5 1248.1h0M1697.9 1013.3h0M1839.8 1093.6h0M2123.6 1233.5h0M2265.5 1244.9h0M2123.6 1234.1h0M2265.5 1244.4h0M1839.8 1093.6h0M2123.6 1231h0M2265.5 1243.7h0M2265.5 1246.4h0M2265.5 1246.2h0M2265.5 1245.8h0M1414.1 903.1h0M1556 947.1h0M1839.8 1093.6h0M1981.7 1191.3h0M2123.6 1231.6h0M2265.5 1243.6h0M2265.5 1246.8h0M1697.9 1009.5h0M2123.6 1234.5h0M2265.5 1244.1h0M2265.5 1246.3h0M1981.7 1191.8h0M2123.6 1229.7h0M2265.5 1243.9h0M2265.5 1247.5h0M2265.5 1247.5h0M2265.5 1245.8h0M2265.5 1248.2h0M1414.1 1009.2h0M1839.8 1235.8h0M1981.7 1251.2h0M2123.6 1250.2h0M2265.5 1250.2h0M2123.6 1231.3h0M2265.5 1243.3h0M1414.1 1007.5h0M2265.5 1248.2h0M1414.1 1010.7h0M1556 1072.6h0M1981.7 1247.7h0M2123.6 1248.9h0M2265.5 1250.2h0M2265.5 1247.4h0M1414.1 904.8h0M1556 948.1h0M1697.9 1009.5h0M1981.7 1190.1h0M2123.6 1229.9h0M2265.5 1243.3h0M2123.6 1233.2h0M2265.5 1244.8h0M2265.5 1245.1h0M2123.6 1233h0M2265.5 1243.9h0M2123.6 1233.3h0M2265.5 1243.7h0M2265.5 1245.5h0M2123.6 1248h0M2265.5 1249.3h0M2265.5 1246.7h0M2123.6 1248.4h0M2265.5 1248.9h0M1414.1 903.1h0M1556 946.4h0M1697.9 1009.5h0M1981.7 1190.1h0M2123.6 1229.7h0M2265.5 1243.3h0M1414.1 903.1h0M1697.9 1009.5h0M1839.8 1098h0M2123.6 1234.3h0M2265.5 1245.2h0M2123.6 1246.1h0M2265.5 1249h0M2265.5 1247.1h0M1556 1072.6h0M1697.9 1164.1h0M1839.8 1238.4h0M1981.7 1246.9h0M2123.6 1249.9h0M2265.5 1250.2h0M2123.6 1232.9h0M2265.5 1244.6h0M2265.5 1246.9h0M1697.9 1164.1h0M2123.6 1246.8h0M2265.5 1249.1h0M2265.5 1247h0M1839.8 1238.4h0M1981.7 1246.5h0M2123.6 1248.6h0M2265.5 1249.4h0M2123.6 1250.2h0M2265.5 1249.6h0M2265.5 1248.2h0M1414.1 1010h0M2123.6 1247.6h0M2265.5 1249.1h0M1414.1 1023.1h0M1556 1099.8h0M1697.9 1203.7h0M1839.8 1242.3h0M1981.7 1251.2h0M2123.6 1250.2h0M2265.5 1250.2h0M1414.1 900.2h0M1556 943.7h0M1697.9 998.4h0M1839.8 1079h0M1981.7 1181.5h0M2123.6 1227.2h0M2265.5 1241.8h0M1414.1 1023.6h0M1556 1088.9h0M1697.9 1179h0M1839.8 1238.4h0M1981.7 1250.7h0M2123.6 1253.2h0M2265.5 1253.2h0M1414.1 1037.7h0M2123.6 1253.2h0M2265.5 1253.2h0M1414.1 1037.7h0M1556 1098.8h0M1697.9 1188.9h0M1839.8 1240.8h0M1981.7 1250.7h0M2123.6 1253.2h0M2265.5 1253.2h0M1414.1 1042.7h0M1556 1111.9h0M1697.9 1206.2h0M1839.8 1242.1h0M1981.7 1250.7h0M2123.6 1253.2h0M2265.5 1253.2h0M1414.1 906.8h0M1556 945.2h0M1697.9 983.3h0M1839.8 1062h0M1981.7 1174h0M2123.6 1226.7h0M2265.5 1245.8h0M1414.1 904.4h0M1556 946.4h0M1697.9 998.4h0M1839.8 1079h0M1981.7 1181.5h0M2123.6 1230.9h0M2265.5 1231.4h0" stroke="#000" stroke-width="4.4" stroke-linecap="square" fill="none"/>
<line x1="1414.1" y1="903.1" x2="1414.1" y2="1012" stroke="#000" stroke-width="4.8"/>
<line x1="1556" y1="946.4" x2="1556" y2="1072.6" stroke="#000" stroke-width="4.8"/>
<line x1="1697.9" y1="1009.5" x2="1697.9" y2="1164.1" stroke="#000" stroke-width="4.8"/>
<line x1="1839.8" y1="1093.6" x2="1839.8" y2="1238.4" stroke="#000" stroke-width="4.8"/>
<line x1="1981.7" y1="1190.1" x2="1981.7" y2="1251.2" stroke="#000" stroke-width="4.8"/>
<line x1="2123.6" y1="1229.7" x2="2123.6" y2="1250.2" stroke="#000" stroke-width="4.8"/>
<line x1="2265.5" y1="1243.3" x2="2265.5" y2="1250.2" stroke="#000" stroke-width="4.8"/>
<text font-size="56" text-anchor="middle" transform="translate(1837 777.9) scale(1 1.04)">2D-3M</text>
<line x1="1343.8" y1="1391.1" x2="1343.8" y2="1889.1" stroke="#555" stroke-width="4.6"/>
<line x1="1325.3" y1="1887.2" x2="2335.5" y2="1887.2" stroke="#222" stroke-width="3.8"/>
<line x1="1325.3" y1="1763.5" x2="1343.8" y2="1763.5" stroke="#000" stroke-width="3"/>
<line x1="1325.3" y1="1639.9" x2="1343.8" y2="1639.9" stroke="#000" stroke-width="3"/>
<line x1="1325.3" y1="1516.2" x2="1343.8" y2="1516.2" stroke="#000" stroke-width="3"/>
<line x1="1325.3" y1="1392.6" x2="1343.8" y2="1392.6" stroke="#000" stroke-width="3"/>
<text font-size="57" text-anchor="end" transform="translate(1305.6 1906.7) scale(1 1.04)">0.0</text>
<text font-size="57" text-anchor="end" transform="translate(1305.6 1783) scale(1 1.04)">0.5</text>
<text font-size="57" text-anchor="end" transform="translate(1305.6 1659.4) scale(1 1.04)">1.0</text>
<text font-size="57" text-anchor="end" transform="translate(1305.6 1535.8) scale(1 1.04)">1.5</text>
<text font-size="57" text-anchor="end" transform="translate(1310.1 1412.1) scale(1 1.04)">2.0</text>
<line x1="1414.1" y1="1887.2" x2="1414.1" y2="1905.7" stroke="#111" stroke-width="3.4"/>
<line x1="1556" y1="1887.2" x2="1556" y2="1905.7" stroke="#111" stroke-width="3.4"/>
<line x1="1697.9" y1="1887.2" x2="1697.9" y2="1905.7" stroke="#111" stroke-width="3.4"/>
<line x1="1839.8" y1="1887.2" x2="1839.8" y2="1905.7" stroke="#111" stroke-width="3.4"/>
<line x1="1981.7" y1="1887.2" x2="1981.7" y2="1905.7" stroke="#111" stroke-width="3.4"/>
<line x1="2123.6" y1="1887.2" x2="2123.6" y2="1905.7" stroke="#111" stroke-width="3.4"/>
<line x1="2265.5" y1="1887.2" x2="2265.5" y2="1905.7" stroke="#111" stroke-width="3.4"/>
<polygon points="1414.1,1575.1 1556,1626.3 1697.9,1695.5 1839.8,1814.2 1981.7,1858 2123.6,1875.3 2265.5,1879 2265.5,1887.2 2123.6,1887.2 1981.7,1887.2 1839.8,1887.2 1697.9,1864.9 1556,1775.9 1414.1,1679.5" fill="#b3b3b3"/>
<path d="M1414.1 1716.6L1556 1816.8L1697.9 1872.6L1839.8 1887.2L1981.7 1887.2L2123.6 1887.2L2265.5 1887.2M1414.1 1709.7L1556 1810.5L1697.9 1871.7L1839.8 1887.2L1981.7 1887.2L2123.6 1887.2L2265.5 1887.2M1414.1 1715.6L1556 1812.9L1697.9 1872.1L1839.8 1887.2L1981.7 1887.2L2123.6 1887.2L2265.5 1887.2M1414.1 1703.8L1556 1808.8L1697.9 1870.2L1839.8 1887.2L1981.7 1887.2L2123.6 1887.2L2265.5 1887.2M1414.1 1707.1L1556 1810.4L1697.9 1870.7L1839.8 1887.2L1981.7 1887.2L2123.6 1887.2L2265.5 1887.2M1414.1 1703.7L1556 1807.8L1697.9 1870.4L1839.8 1887.2L1981.7 1887.2L2123.6 1887.2L2265.5 1887.2M1414.1 1694.7L1556 1794.3L1697.9 1868L1839.8 1887.2L1981.7 1887.2L2123.6 1887.2L2265.5 1887.2M1414.1 1690.4L1556 1790.4L1697.9 1867.9L1839.8 1887.2L1981.7 1887.2L2123.6 1887.2L2265.5 1887.2M1414.1 1690.4L1556 1786.9L1697.9 1869L1839.8 1887.2L1981.7 1887.2L2123.6 1887.2L2265.5 1887.2M1414.1 1692.8L1556 1794.7L1697.9 1868L1839.8 1887.2L1981.7 1887.2L2123.6 1887.2L2265.5 1887.2M1414.1 1694.1L1556 1799.6L1697.9 1868.6L1839.8 1887.2L1981.7 1887.2L2123.6 1887.2L2265.5 1887.2M1414.1 1687.2L1556 1778.9L1697.9 1865.4L1839.8 1887.1L1981.7 1887.2L2123.6 1886.9L2265.5 1886.1M1414.1 1683.3L1556 1781.1L1697.9 1865.7L1839.8 1887.1L1981.7 1885.6L2123.6 1887.2L2265.5 1887.2M1414.1 1684.2L1556 1775.7L1697.9 1864.9L1839.8 1885.9L1981.7 1887.2L2123.6 1886.4L2265.5 1886.5M1414.1 1573.7L1556 1623.8L1697.9 1689.9L1839.8 1803.4L1981.7 1852.9L2123.6 1873.8L2265.5 1878M1414.1 1574.4L1556 1624.6L1697.9 1691.4L1839.8 1804.8L1981.7 1852.8L2123.6 1874L2265.5 1878.1M1414.1 1574.7L1556 1626.1L1697.9 1693.6L1839.8 1809.4L1981.7 1855.4L2123.6 1874.7L2265.5 1878.7M1414.1 1575.1L1556 1626.2L1697.9 1696L1839.8 1814.2L1981.7 1858L2123.6 1875.6L2265.5 1879M1414.1 1592.2L1556 1638.8L1697.9 1709L1839.8 1823.1L1981.7 1860.9L2123.6 1876.5L2265.5 1880.2M1414.1 1631.2L1556 1716.7L1697.9 1799.3L1839.8 1842.9L1981.7 1867.7L2123.6 1879.2L2265.5 1880.1M1414.1 1655L1556 1762.3L1697.9 1864.9L1839.8 1885.8L1981.7 1884.5L2123.6 1887.2L2265.5 1886.5M1414.1 1639.9L1556 1713.9L1697.9 1789.3L1839.8 1854.6L1981.7 1873.8L2123.6 1882.8L2265.5 1884M1414.1 1636.9L1556 1685.5L1697.9 1748.8L1839.8 1833.2L1981.7 1861.9L2123.6 1876.7L2265.5 1880.8M1414.1 1605.5L1556 1663.5L1697.9 1726.9L1839.8 1829.6L1981.7 1863.4L2123.6 1875.8L2265.5 1879.2M1414.1 1599.3L1556 1645.3L1697.9 1731L1839.8 1843.7L1981.7 1874.8L2123.6 1883.4L2265.5 1884.1M1414.1 1618.7L1556 1703.2L1697.9 1784.1L1839.8 1853.3L1981.7 1874.9L2123.6 1882.4L2265.5 1884.4M1414.1 1679.5L1556 1774.5L1697.9 1864.9L1839.8 1883.3L1981.7 1886.2L2123.6 1886.5L2265.5 1886.4M1414.1 1644L1556 1740.7L1697.9 1812.9L1839.8 1866L1981.7 1877.9L2123.6 1882L2265.5 1882.9M1414.1 1672L1556 1775.9L1697.9 1852.6L1839.8 1887.2L1981.7 1887.2L2123.6 1885.7L2265.5 1885.6M1414.1 1586.1L1556 1634.8L1697.9 1704.3L1839.8 1818.6L1981.7 1859.4L2123.6 1877.2L2265.5 1880.3M1414.1 1666.9L1556 1753.1L1697.9 1850.5L1839.8 1877.6L1981.7 1882.6L2123.6 1885.4L2265.5 1885.5M1414.1 1588.4L1556 1644.4L1697.9 1716.8L1839.8 1817.1L1981.7 1864.4L2123.6 1878.2L2265.5 1882.2M1414.1 1659.8L1556 1748L1697.9 1821.3L1839.8 1866.9L1981.7 1885.2L2123.6 1887.2L2265.5 1886.3M1414.1 1669.5L1556 1775.9L1697.9 1837.9L1839.8 1887.2L1981.7 1886.7L2123.6 1887.1L2265.5 1887M1414.1 1597.8L1556 1647.6L1697.9 1726.9L1839.8 1835.8L1981.7 1866.8L2123.6 1878.9L2265.5 1881.6M1414.1 1614.2L1556 1684.8L1697.9 1777.9L1839.8 1849L1981.7 1872.2L2123.6 1881L2265.5 1884.1M1414.1 1604L1556 1658.1L1697.9 1728.1L1839.8 1827.8L1981.7 1862L2123.6 1876.1L2265.5 1879M1414.1 1587.6L1556 1639.3L1697.9 1735.6L1839.8 1831.4L1981.7 1865.9L2123.6 1878.6L2265.5 1881M1414.1 1599.4L1556 1665.4L1697.9 1750.2L1839.8 1838L1981.7 1866.8L2123.6 1879.8L2265.5 1881.6M1414.1 1583.3L1556 1629.9L1697.9 1718.6L1839.8 1827.2L1981.7 1861.1L2123.6 1878.2L2265.5 1881.3M1414.1 1597.2L1556 1645.1L1697.9 1724.9L1839.8 1826.2L1981.7 1868.6L2123.6 1878.9L2265.5 1881.3M1414.1 1595.5L1556 1651.7L1697.9 1728.9L1839.8 1843L1981.7 1871L2123.6 1880.7L2265.5 1882.2M1414.1 1617.3L1556 1681.8L1697.9 1759.9L1839.8 1845.6L1981.7 1872.8L2123.6 1881.2L2265.5 1883M1414.1 1670.6L1556 1745.2L1697.9 1825.7L1839.8 1863.9L1981.7 1879.9L2123.6 1885L2265.5 1885.9M1414.1 1575.1L1556 1626.3L1697.9 1695.5L1839.8 1814.2L1981.7 1858L2123.6 1875.8L2265.5 1879M1414.1 1623.5L1556 1697.4L1697.9 1774.7L1839.8 1850L1981.7 1869.8L2123.6 1879.3L2265.5 1881.4M1414.1 1668.2L1556 1756.7L1697.9 1834L1839.8 1865.7L1981.7 1882.6L2123.6 1885.5L2265.5 1887M1414.1 1582.6L1556 1626.3L1697.9 1702.3L1839.8 1821.1L1981.7 1861.5L2123.6 1875.6L2265.5 1879M1414.1 1580.7L1556 1639.2L1697.9 1695.5L1839.8 1814.2L1981.7 1858L2123.6 1876.2L2265.5 1879.7M1414.1 1619.3L1556 1691.5L1697.9 1784.5L1839.8 1840.6L1981.7 1867.6L2123.6 1880.2L2265.5 1882.7M1414.1 1633L1556 1701.5L1697.9 1773.2L1839.8 1841.7L1981.7 1867.6L2123.6 1879.4L2265.5 1882.2M1414.1 1619.2L1556 1687.9L1697.9 1769.9L1839.8 1847.1L1981.7 1873.8L2123.6 1879.8L2265.5 1882.4M1414.1 1614L1556 1683.9L1697.9 1751.3L1839.8 1851.6L1981.7 1871.8L2123.6 1881.5L2265.5 1883.4M1414.1 1654.2L1556 1747.4L1697.9 1833.8L1839.8 1863.5L1981.7 1874.7L2123.6 1881.3L2265.5 1883.2M1414.1 1654.7L1556 1746.6L1697.9 1844.5L1839.8 1875.5L1981.7 1881.7L2123.6 1883.9L2265.5 1885.2M1414.1 1607.4L1556 1658.4L1697.9 1724.9L1839.8 1830L1981.7 1866.4L2123.6 1878.8L2265.5 1881.6M1414.1 1596.5L1556 1673.6L1697.9 1749.2L1839.8 1826.8L1981.7 1859.4L2123.6 1876.5L2265.5 1880M1414.1 1656.3L1556 1745.4L1697.9 1833.9L1839.8 1879.6L1981.7 1885.5L2123.6 1886.9L2265.5 1886.9M1414.1 1667.1L1556 1769.2L1697.9 1864.9L1839.8 1887.2L1981.7 1878.4L2123.6 1882.5L2265.5 1883.1M1414.1 1609.2L1556 1674.3L1697.9 1746.2L1839.8 1833.6L1981.7 1864.4L2123.6 1876.6L2265.5 1881.7M1414.1 1630L1556 1709L1697.9 1791.1L1839.8 1847.2L1981.7 1870.8L2123.6 1878.9L2265.5 1881.5M1414.1 1628L1556 1724.5L1697.9 1812L1839.8 1864.1L1981.7 1878.7L2123.6 1884.9L2265.5 1885.2M1414.1 1612.7L1556 1689L1697.9 1745.5L1839.8 1827.6L1981.7 1862.7L2123.6 1877.3L2265.5 1880.3M1414.1 1592.5L1556 1651L1697.9 1729L1839.8 1838.6L1981.7 1861.6L2123.6 1877.8L2265.5 1880.2M1414.1 1663L1556 1762L1697.9 1864.9L1839.8 1886.4L1981.7 1886L2123.6 1885.7L2265.5 1887.2M1414.1 1648L1556 1746L1697.9 1833.2L1839.8 1869.1L1981.7 1880L2123.6 1885.6L2265.5 1885.9M1414.1 1669.7L1556 1752.9L1697.9 1860L1839.8 1882.5L1981.7 1884L2123.6 1886.2L2265.5 1886.6M1414.1 1651.4L1556 1739L1697.9 1835.1L1839.8 1873.3L1981.7 1881.4L2123.6 1884.2L2265.5 1885.7M1414.1 1590.4L1556 1626.3L1697.9 1695.5L1839.8 1821.7L1981.7 1860.6L2123.6 1877.1L2265.5 1881.4M1414.1 1648L1556 1726.1L1697.9 1791.6L1839.8 1849.3L1981.7 1870.3L2123.6 1880.7L2265.5 1882.6M1414.1 1589.7L1556 1654.6L1697.9 1734.6L1839.8 1822.8L1981.7 1860.2L2123.6 1876.6L2265.5 1879.8M1414.1 1611.8L1556 1669.8L1697.9 1740.1L1839.8 1834.4L1981.7 1867.2L2123.6 1880.6L2265.5 1882.9M1414.1 1599.9L1556 1669.2L1697.9 1747.2L1839.8 1841.2L1981.7 1868.1L2123.6 1877.6L2265.5 1879.5M1414.1 1612.3L1556 1682.1L1697.9 1774.5L1839.8 1848.1L1981.7 1872.5L2123.6 1880.5L2265.5 1882.5M1414.1 1618.8L1556 1655.9L1697.9 1740.5L1839.8 1827.3L1981.7 1861.9L2123.6 1877L2265.5 1880.6M1414.1 1651.2L1556 1726.6L1697.9 1799.9L1839.8 1857.3L1981.7 1876.7L2123.6 1882.7L2265.5 1884.4M1414.1 1587.9L1556 1651.9L1697.9 1739.6L1839.8 1832.7L1981.7 1869.6L2123.6 1880.1L2265.5 1882M1414.1 1659.1L1556 1722.3L1697.9 1785.9L1839.8 1848L1981.7 1870.2L2123.6 1880.7L2265.5 1882.8M1414.1 1625.1L1556 1696.6L1697.9 1785.4L1839.8 1844.1L1981.7 1872.2L2123.6 1880.8L2265.5 1882.1M1414.1 1679.5L1556 1775.5L1697.9 1839.7L1839.8 1872.9L1981.7 1882.1L2123.6 1884.6L2265.5 1885.5M1414.1 1625.8L1556 1687.3L1697.9 1749.8L1839.8 1838L1981.7 1870.6L2123.6 1879.4L2265.5 1881.9M1414.1 1575.1L1556 1626.3L1697.9 1696.3L1839.8 1818.1L1981.7 1860.5L2123.6 1876.3L2265.5 1880M1414.1 1593.4L1556 1664L1697.9 1738.8L1839.8 1836.7L1981.7 1868.2L2123.6 1880.5L2265.5 1882.2M1414.1 1651.8L1556 1723.5L1697.9 1824.3L1839.8 1869L1981.7 1884.4L2123.6 1885.6L2265.5 1886.1M1414.1 1654.7L1556 1734L1697.9 1818.1L1839.8 1871.7L1981.7 1880.9L2123.6 1885.3L2265.5 1886.2M1414.1 1654.3L1556 1736.8L1697.9 1813L1839.8 1872.9L1981.7 1881.3L2123.6 1886.4L2265.5 1887M1414.1 1601.5L1556 1656.7L1697.9 1728.5L1839.8 1828.4L1981.7 1863.8L2123.6 1876.5L2265.5 1879M1414.1 1620L1556 1676.7L1697.9 1756.6L1839.8 1839.6L1981.7 1869.6L2123.6 1881.2L2265.5 1883M1414.1 1648L1556 1748L1697.9 1849.2L1839.8 1881.7L1981.7 1886.2L2123.6 1886.4L2265.5 1887.2M1414.1 1604.2L1556 1668.4L1697.9 1736.6L1839.8 1833.1L1981.7 1866.3L2123.6 1878.9L2265.5 1882.3M1414.1 1671.3L1556 1775.9L1697.9 1858.2L1839.8 1887.2L1981.7 1887.2L2123.6 1887.2L2265.5 1887.1M1414.1 1607.8L1556 1655.8L1697.9 1730.5L1839.8 1827.5L1981.7 1862.2L2123.6 1877.8L2265.5 1881.5M1414.1 1622.7L1556 1686.4L1697.9 1769.9L1839.8 1837.3L1981.7 1867.8L2123.6 1880L2265.5 1881.6M1414.1 1666.1L1556 1748.3L1697.9 1850.6L1839.8 1881.1L1981.7 1879.9L2123.6 1883.1L2265.5 1884M1414.1 1678L1556 1770.1L1697.9 1852.6L1839.8 1887.2L1981.7 1886.7L2123.6 1886.5L2265.5 1886.6M1414.1 1636.6L1556 1726.7L1697.9 1808.4L1839.8 1873.2L1981.7 1883.1L2123.6 1884.5L2265.5 1884.2M1414.1 1625.4L1556 1682.9L1697.9 1752.2L1839.8 1839.4L1981.7 1866.3L2123.6 1878.2L2265.5 1881.7M1414.1 1649.5L1556 1758.1L1697.9 1836.5L1839.8 1872.9L1981.7 1879.2L2123.6 1882.3L2265.5 1883M1414.1 1636.9L1556 1708.5L1697.9 1774.1L1839.8 1847.7L1981.7 1873.3L2123.6 1881.5L2265.5 1884.2M1414.1 1602.8L1556 1659.4L1697.9 1734.3L1839.8 1833.8L1981.7 1869.6L2123.6 1880.5L2265.5 1883M1414.1 1586.1L1556 1642.1L1697.9 1737L1839.8 1823.8L1981.7 1860.8L2123.6 1876.4L2265.5 1879.9M1414.1 1611L1556 1670.4L1697.9 1759.7L1839.8 1848.5L1981.7 1876.8L2123.6 1882.8L2265.5 1883.7M1414.1 1655.4L1556 1732L1697.9 1826.7L1839.8 1867.8L1981.7 1879.7L2123.6 1884.7L2265.5 1886.5M1414.1 1608.6L1556 1667.3L1697.9 1752.2L1839.8 1835.3L1981.7 1867.7L2123.6 1878.6L2265.5 1881.4M1414.1 1634.9L1556 1730.2L1697.9 1809.7L1839.8 1857.7L1981.7 1874.5L2123.6 1881.9L2265.5 1882.8M1414.1 1591.3L1556 1649.5L1697.9 1727.9L1839.8 1825.2L1981.7 1864.9L2123.6 1878.3L2265.5 1880.8M1414.1 1622L1556 1687.7L1697.9 1752.9L1839.8 1844.2L1981.7 1868L2123.6 1879.7L2265.5 1882M1414.1 1617.1L1556 1694.5L1697.9 1769.3L1839.8 1843.9L1981.7 1868.2L2123.6 1880.4L2265.5 1882.1M1414.1 1641.8L1556 1725.8L1697.9 1815.5L1839.8 1866.3L1981.7 1879.5L2123.6 1884.2L2265.5 1885.9M1414.1 1639.1L1556 1724.8L1697.9 1801.7L1839.8 1861.7L1981.7 1879.1L2123.6 1884.1L2265.5 1885M1414.1 1644.8L1556 1724.2L1697.9 1825L1839.8 1871L1981.7 1881.4L2123.6 1884.4L2265.5 1883.9M1414.1 1616.2L1556 1686.7L1697.9 1785.4L1839.8 1848.4L1981.7 1869.3L2123.6 1879.6L2265.5 1882.9M1414.1 1628.9L1556 1714.8L1697.9 1803.4L1839.8 1859.3L1981.7 1875L2123.6 1882.1L2265.5 1883.5M1414.1 1641.6L1556 1722.6L1697.9 1800.9L1839.8 1865.6L1981.7 1878.1L2123.6 1883.4L2265.5 1884.3M1414.1 1607.7L1556 1687.2L1697.9 1761.3L1839.8 1843.4L1981.7 1869.5L2123.6 1880.5L2265.5 1883.4M1414.1 1585.5L1556 1634.3L1697.9 1695.5L1839.8 1814.2L1981.7 1858L2123.6 1876.2L2265.5 1880.9M1414.1 1667.6L1556 1773.8L1697.9 1854.2L1839.8 1887.2L1981.7 1885.2L2123.6 1885.4L2265.5 1884.3M1414.1 1642.3L1556 1729.9L1697.9 1821.7L1839.8 1863.2L1981.7 1880.5L2123.6 1883.5L2265.5 1884.8M1414.1 1626.4L1556 1712.5L1697.9 1761.4L1839.8 1850.7L1981.7 1874.5L2123.6 1881.8L2265.5 1883.5M1414.1 1646.9L1556 1727.2L1697.9 1804.1L1839.8 1869.9L1981.7 1881.6L2123.6 1885L2265.5 1885.2M1414.1 1612.5L1556 1684.8L1697.9 1743.3L1839.8 1839.3L1981.7 1867.4L2123.6 1881.1L2265.5 1882M1414.1 1669.5L1556 1754.9L1697.9 1823.5L1839.8 1864.9L1981.7 1878.1L2123.6 1882.8L2265.5 1884.6M1414.1 1600.7L1556 1662.2L1697.9 1749.6L1839.8 1830L1981.7 1864.6L2123.6 1879L2265.5 1881.7M1414.1 1595.5L1556 1643.2L1697.9 1719.3L1839.8 1828.7L1981.7 1862.7L2123.6 1876.1L2265.5 1880.2M1414.1 1650L1556 1734.6L1697.9 1831.4L1839.8 1871.9L1981.7 1883L2123.6 1884.7L2265.5 1886.2M1414.1 1633.9L1556 1703L1697.9 1770.8L1839.8 1850.5L1981.7 1872.5L2123.6 1880.8L2265.5 1881.9M1414.1 1664.8L1556 1749.7L1697.9 1838.6L1839.8 1868.6L1981.7 1879.7L2123.6 1883.9L2265.5 1885.4M1414.1 1588.2L1556 1648L1697.9 1735.6L1839.8 1826.7L1981.7 1863.7L2123.6 1877.6L2265.5 1881.1M1414.1 1648.5L1556 1737.1L1697.9 1821.2L1839.8 1869.6L1981.7 1885.1L2123.6 1886L2265.5 1887.1M1414.1 1629.3L1556 1705.6L1697.9 1795L1839.8 1863L1981.7 1877.3L2123.6 1883L2265.5 1883.7M1414.1 1601.4L1556 1651L1697.9 1695.7L1839.8 1814.2L1981.7 1858.5L2123.6 1876.4L2265.5 1879.7M1414.1 1585L1556 1645.1L1697.9 1724.5L1839.8 1825.4L1981.7 1865.3L2123.6 1879.9L2265.5 1882.4M1414.1 1610.5L1556 1667.5L1697.9 1766L1839.8 1845.1L1981.7 1869.3L2123.6 1878.4L2265.5 1882.2M1414.1 1607.6L1556 1669.9L1697.9 1752.3L1839.8 1838.3L1981.7 1869.4L2123.6 1880.5L2265.5 1882.3M1414.1 1666.5L1556 1756.4L1697.9 1849.1L1839.8 1871.9L1981.7 1885.4L2123.6 1887.2L2265.5 1887.2M1414.1 1575.7L1556 1626.3L1697.9 1695.5L1839.8 1814.2L1981.7 1859.1L2123.6 1876.8L2265.5 1879.8M1414.1 1669.2L1556 1753.3L1697.9 1847.6L1839.8 1882.4L1981.7 1886.5L2123.6 1886.4L2265.5 1886.5M1414.1 1619L1556 1672.7L1697.9 1745L1839.8 1835L1981.7 1867.3L2123.6 1880L2265.5 1882.2M1414.1 1655.4L1556 1728.5L1697.9 1814.6L1839.8 1866.6L1981.7 1878.6L2123.6 1883.3L2265.5 1885.6M1414.1 1597.3L1556 1671L1697.9 1741.6L1839.8 1837L1981.7 1869.3L2123.6 1879.7L2265.5 1882.1M1414.1 1659.7L1556 1738.8L1697.9 1830.7L1839.8 1876.7L1981.7 1883.8L2123.6 1886.3L2265.5 1886.1M1414.1 1630.7L1556 1701.5L1697.9 1768.4L1839.8 1842L1981.7 1867.3L2123.6 1879.7L2265.5 1883M1414.1 1602.6L1556 1684.9L1697.9 1766L1839.8 1841.5L1981.7 1870.5L2123.6 1878.7L2265.5 1880.9M1414.1 1628.8L1556 1711.4L1697.9 1783.2L1839.8 1849.6L1981.7 1873.4L2123.6 1881.5L2265.5 1882.8M1414.1 1608L1556 1685.8L1697.9 1774.7L1839.8 1857.8L1981.7 1873.6L2123.6 1882.3L2265.5 1884.2M1414.1 1617.9L1556 1681.5L1697.9 1749.8L1839.8 1831L1981.7 1866.8L2123.6 1877.5L2265.5 1879M1414.1 1605.1L1556 1662.7L1697.9 1721.4L1839.8 1826.9L1981.7 1864.9L2123.6 1876.3L2265.5 1880M1414.1 1637.7L1556 1705.1L1697.9 1763.3L1839.8 1833.8L1981.7 1859.1L2123.6 1876.3L2265.5 1880.3M1414.1 1593L1556 1656.9L1697.9 1751.6L1839.8 1849.7L1981.7 1871.9L2123.6 1881.4L2265.5 1883M1414.1 1627.6L1556 1696.4L1697.9 1777.6L1839.8 1846.5L1981.7 1871.2L2123.6 1881L2265.5 1882.7M1414.1 1661L1556 1744.5L1697.9 1836L1839.8 1875.4L1981.7 1882.3L2123.6 1884.6L2265.5 1885.3M1414.1 1582.2L1556 1640.1L1697.9 1706.8L1839.8 1823.2L1981.7 1865.6L2123.6 1878.1L2265.5 1882.1M1414.1 1625.9L1556 1691.1L1697.9 1782L1839.8 1847.5L1981.7 1870.8L2123.6 1881.3L2265.5 1883.2M1414.1 1677L1556 1768.8L1697.9 1864.9L1839.8 1882.6L1981.7 1881L2123.6 1884.8L2265.5 1886.2M1414.1 1661.8L1556 1756.3L1697.9 1836.8L1839.8 1862.6L1981.7 1879L2123.6 1883.8L2265.5 1885.2M1414.1 1608.2L1556 1682.1L1697.9 1753L1839.8 1838L1981.7 1865L2123.6 1877.5L2265.5 1880.3M1414.1 1631.6L1556 1700.2L1697.9 1787.3L1839.8 1845.9L1981.7 1872.2L2123.6 1880.2L2265.5 1882.8M1414.1 1638.7L1556 1729.1L1697.9 1821.2L1839.8 1873.3L1981.7 1880.6L2123.6 1884L2265.5 1884.5M1414.1 1650.1L1556 1725.7L1697.9 1787.5L1839.8 1855.5L1981.7 1876L2123.6 1882.1L2265.5 1882.4M1414.1 1603L1556 1676.6L1697.9 1760.5L1839.8 1846.8L1981.7 1873L2123.6 1880.4L2265.5 1881.7M1414.1 1584.5L1556 1629.4L1697.9 1697.4L1839.8 1814.2L1981.7 1858L2123.6 1875.3L2265.5 1879M1414.1 1670.4L1556 1761.5L1697.9 1843.5L1839.8 1881.8L1981.7 1885.7L2123.6 1886.4L2265.5 1886.3M1414.1 1635.1L1556 1706.4L1697.9 1791.3L1839.8 1852.5L1981.7 1873.5L2123.6 1881.6L2265.5 1883.3M1414.1 1630.4L1556 1714.3L1697.9 1788.9L1839.8 1850.7L1981.7 1873.5L2123.6 1882.7L2265.5 1883.7M1414.1 1653.8L1556 1732.6L1697.9 1820.3L1839.8 1876.6L1981.7 1884.2L2123.6 1885.4L2265.5 1886.4M1414.1 1670.4L1556 1772.4L1697.9 1864.9L1839.8 1887.2L1981.7 1883.7L2123.6 1885.2L2265.5 1885.9M1414.1 1624.2L1556 1697.3L1697.9 1787.6L1839.8 1845.1L1981.7 1873.1L2123.6 1881.2L2265.5 1882.7M1414.1 1592.6L1556 1641.4L1697.9 1720.8L1839.8 1818.6L1981.7 1859L2123.6 1876.8L2265.5 1880.7M1414.1 1676.4L1556 1766.3L1697.9 1846.5L1839.8 1876.4L1981.7 1884.6L2123.6 1886.2L2265.5 1885.7M1414.1 1676.7L1556 1775.9L1697.9 1864.9L1839.8 1880.1L1981.7 1884.3L2123.6 1883.9L2265.5 1883.5M1414.1 1593.2L1556 1654.8L1697.9 1711.4L1839.8 1824L1981.7 1863.4L2123.6 1877.5L2265.5 1879M1414.1 1627.2L1556 1697.6L1697.9 1771L1839.8 1842.6L1981.7 1869.2L2123.6 1879.5L2265.5 1882.2M1414.1 1608.2L1556 1667.8L1697.9 1751.8L1839.8 1830.8L1981.7 1864.1L2123.6 1878.2L2265.5 1881M1414.1 1663.2L1556 1743.2L1697.9 1820.1L1839.8 1863.2L1981.7 1876L2123.6 1882.9L2265.5 1884.2M1414.1 1577.1L1556 1646.4L1697.9 1718.4L1839.8 1826.4L1981.7 1863.1L2123.6 1877.4L2265.5 1881.1M1414.1 1662.9L1556 1745.8L1697.9 1840L1839.8 1882L1981.7 1886.1L2123.6 1885.3L2265.5 1887M1414.1 1622L1556 1681L1697.9 1763L1839.8 1841.4L1981.7 1868.2L2123.6 1877.6L2265.5 1880.7M1414.1 1679.5L1556 1773.2L1697.9 1864.9L1839.8 1887.2L1981.7 1886.5L2123.6 1886.5L2265.5 1887.2M1414.1 1582.4L1556 1643.3L1697.9 1713.2L1839.8 1823.7L1981.7 1865.4L2123.6 1878.5L2265.5 1881.3M1414.1 1671.3L1556 1770.8L1697.9 1852L1839.8 1884.8L1981.7 1887.2L2123.6 1886.7L2265.5 1886.8M1414.1 1665.5L1556 1764.3L1697.9 1850L1839.8 1882.1L1981.7 1886.7L2123.6 1886.8L2265.5 1886.3M1414.1 1610.3L1556 1677.2L1697.9 1746.4L1839.8 1834.2L1981.7 1865.1L2123.6 1878.1L2265.5 1882.3M1414.1 1654.4L1556 1752.7L1697.9 1838.3L1839.8 1884.7L1981.7 1887.2L2123.6 1885.9L2265.5 1886.2M1414.1 1626.5L1556 1720L1697.9 1797.1L1839.8 1859.9L1981.7 1874.9L2123.6 1881.6L2265.5 1883.6M1414.1 1632L1556 1713.9L1697.9 1796.1L1839.8 1850.8L1981.7 1875L2123.6 1882L2265.5 1884.3M1414.1 1650.6L1556 1730.3L1697.9 1821.9L1839.8 1873L1981.7 1879.4L2123.6 1884.3L2265.5 1885.5M1414.1 1612.1L1556 1660.3L1697.9 1729.2L1839.8 1817.3L1981.7 1858.4L2123.6 1875.9L2265.5 1879.2M1414.1 1678.3L1556 1761.3L1697.9 1834.4L1839.8 1866.3L1981.7 1877.9L2123.6 1882.5L2265.5 1885.1M1414.1 1645.1L1556 1720.9L1697.9 1799.8L1839.8 1866.2L1981.7 1879.3L2123.6 1885.5L2265.5 1886.2M1414.1 1613.8L1556 1676.8L1697.9 1753.1L1839.8 1834.3L1981.7 1866.9L2123.6 1880.4L2265.5 1883.3M1414.1 1605.9L1556 1669.7L1697.9 1754.3L1839.8 1839.1L1981.7 1869.4L2123.6 1879.4L2265.5 1882.7M1414.1 1669.7L1556 1766.3L1697.9 1864.9L1839.8 1884.1L1981.7 1887.2L2123.6 1886.6L2265.5 1885.7M1414.1 1637.5L1556 1709.1L1697.9 1795.4L1839.8 1846.3L1981.7 1871.2L2123.6 1880L2265.5 1882M1414.1 1611.1L1556 1672.4L1697.9 1754.5L1839.8 1842.5L1981.7 1873.2L2123.6 1882.3L2265.5 1883.3M1414.1 1586.3L1556 1633.6L1697.9 1695.5L1839.8 1814.2L1981.7 1858L2123.6 1876.9L2265.5 1879.9M1414.1 1628.4L1556 1709L1697.9 1785.8L1839.8 1847.4L1981.7 1874.3L2123.6 1882.4L2265.5 1884.2M1414.1 1611.2L1556 1667.6L1697.9 1716.2L1839.8 1824L1981.7 1860.5L2123.6 1878.6L2265.5 1882M1414.1 1657.1L1556 1735.4L1697.9 1801.1L1839.8 1858.8L1981.7 1876.2L2123.6 1883.1L2265.5 1884.3M1414.1 1655.6L1556 1765.5L1697.9 1864.9L1839.8 1886.6L1981.7 1884.8L2123.6 1885.7L2265.5 1885.3M1414.1 1630L1556 1698.6L1697.9 1791.5L1839.8 1854.4L1981.7 1872.9L2123.6 1881.1L2265.5 1884.3M1414.1 1679.5L1556 1766.3L1697.9 1859.6L1839.8 1879.5L1981.7 1881.2L2123.6 1886L2265.5 1885.8M1414.1 1661.4L1556 1764.2L1697.9 1864.9L1839.8 1887.2L1981.7 1887.2L2123.6 1887.1L2265.5 1887.2M1414.1 1675.3L1556 1760.7L1697.9 1864.6L1839.8 1883.1L1981.7 1884L2123.6 1886.8L2265.5 1887.2M1414.1 1634.1L1556 1696L1697.9 1785.5L1839.8 1853.7L1981.7 1873L2123.6 1880.8L2265.5 1882.9M1414.1 1598.2L1556 1650L1697.9 1721.6L1839.8 1824L1981.7 1863.6L2123.6 1879.2L2265.5 1882M1414.1 1629.9L1556 1724.2L1697.9 1808.9L1839.8 1863.4L1981.7 1879.9L2123.6 1884.4L2265.5 1885M1414.1 1575.9L1556 1626.3L1697.9 1696.4L1839.8 1819.2L1981.7 1863.9L2123.6 1876.8L2265.5 1879.9M1414.1 1679.5L1556 1774.9L1697.9 1864.9L1839.8 1887.2L1981.7 1887.2L2123.6 1887.2L2265.5 1886.9M1414.1 1669.6L1556 1765.4L1697.9 1827.9L1839.8 1863L1981.7 1875.4L2123.6 1882.3L2265.5 1883.1M1414.1 1591.8L1556 1643.6L1697.9 1713.4L1839.8 1816.4L1981.7 1860.7L2123.6 1876.2L2265.5 1880.3M1414.1 1594.5L1556 1655.3L1697.9 1740.7L1839.8 1841.8L1981.7 1870L2123.6 1881L2265.5 1883.9M1414.1 1647.1L1556 1715.6L1697.9 1770.8L1839.8 1840.7L1981.7 1862.6L2123.6 1878.3L2265.5 1882.1M1414.1 1664.4L1556 1753L1697.9 1828.2L1839.8 1867.3L1981.7 1877.2L2123.6 1883.3L2265.5 1884.6M1414.1 1599.2L1556 1650.7L1697.9 1728.7L1839.8 1828.9L1981.7 1865.5L2123.6 1877.5L2265.5 1880.5M1414.1 1604L1556 1687.9L1697.9 1771.4L1839.8 1859L1981.7 1876.1L2123.6 1883.8L2265.5 1884.1M1414.1 1635.6L1556 1718.9L1697.9 1815.4L1839.8 1874.5L1981.7 1887.2L2123.6 1887.2L2265.5 1887.2M1414.1 1592.8L1556 1658.9L1697.9 1733.4L1839.8 1831.6L1981.7 1862.5L2123.6 1877.3L2265.5 1880.7M1414.1 1665.3L1556 1747.3L1697.9 1858L1839.8 1885.5L1981.7 1887.2L2123.6 1887.2L2265.5 1886.8M1414.1 1635.3L1556 1694.2L1697.9 1795L1839.8 1857.5L1981.7 1875.3L2123.6 1882L2265.5 1883.6M1414.1 1583L1556 1633.1L1697.9 1723.3L1839.8 1825.3L1981.7 1865.1L2123.6 1877.7L2265.5 1879.6M1414.1 1623.5L1556 1687.5L1697.9 1747.6L1839.8 1832.4L1981.7 1862.6L2123.6 1877.7L2265.5 1880.7M1414.1 1575.1L1556 1639.5L1697.9 1698.8L1839.8 1814.7L1981.7 1858L2123.6 1876.4L2265.5 1879.8M1414.1 1675.1L1556 1773.3L1697.9 1858.8L1839.8 1887.2L1981.7 1884.5L2123.6 1886.7L2265.5 1884.6M1414.1 1642.3L1556 1720.3L1697.9 1803.3L1839.8 1854.6L1981.7 1871.4L2123.6 1881.3L2265.5 1883.5M1414.1 1617.4L1556 1675.5L1697.9 1742.2L1839.8 1834.8L1981.7 1866.1L2123.6 1878L2265.5 1880M1414.1 1630.4L1556 1708.6L1697.9 1785.5L1839.8 1846.5L1981.7 1872.6L2123.6 1882.8L2265.5 1884.8M1414.1 1679.5L1556 1775.9L1697.9 1846.9L1839.8 1881.1L1981.7 1881.7L2123.6 1884.2L2265.5 1885.7M1414.1 1587.4L1556 1632.4L1697.9 1699.1L1839.8 1814.2L1981.7 1859.1L2123.6 1876.5L2265.5 1879.8M1414.1 1634.8L1556 1693L1697.9 1775.8L1839.8 1846.6L1981.7 1873.7L2123.6 1880.3L2265.5 1881.9M1414.1 1639.2L1556 1700.9L1697.9 1772.7L1839.8 1850.3L1981.7 1873.1L2123.6 1882.7L2265.5 1884.1M1414.1 1612.2L1556 1673.9L1697.9 1763.3L1839.8 1857.3L1981.7 1875.4L2123.6 1881L2265.5 1882.1M1414.1 1578.6L1556 1626.3L1697.9 1695.5L1839.8 1815.7L1981.7 1858L2123.6 1875.3L2265.5 1879.2M1414.1 1596.6L1556 1648.7L1697.9 1701.2L1839.8 1820.1L1981.7 1859.8L2123.6 1875.5L2265.5 1880.2M1414.1 1653.7L1556 1744.6L1697.9 1840.1L1839.8 1869.3L1981.7 1881.9L2123.6 1885.1L2265.5 1885.4M1414.1 1641.8L1556 1736.4L1697.9 1833.4L1839.8 1875.2L1981.7 1880.3L2123.6 1884.5L2265.5 1885.3M1414.1 1619.7L1556 1688.1L1697.9 1740.2L1839.8 1829.1L1981.7 1865.2L2123.6 1878.8L2265.5 1880.7M1414.1 1622.2L1556 1684.5L1697.9 1744L1839.8 1825.8L1981.7 1864.7L2123.6 1877.6L2265.5 1882.6M1414.1 1637.9L1556 1698.2L1697.9 1767.2L1839.8 1849.9L1981.7 1874.9L2123.6 1881.2L2265.5 1883.1M1414.1 1656.3L1556 1734.2L1697.9 1825.9L1839.8 1872.4L1981.7 1876.3L2123.6 1883.6L2265.5 1884M1414.1 1588.8L1556 1656.9L1697.9 1730.8L1839.8 1829.2L1981.7 1862.2L2123.6 1877.6L2265.5 1880.3M1414.1 1651.5L1556 1727.9L1697.9 1803.9L1839.8 1868.9L1981.7 1879.4L2123.6 1885.6L2265.5 1886.7M1414.1 1575.1L1556 1627.9L1697.9 1695.5L1839.8 1814.2L1981.7 1858L2123.6 1875.3L2265.5 1879.5M1414.1 1639.1L1556 1745.1L1697.9 1839.4L1839.8 1873.9L1981.7 1882.3L2123.6 1885.8L2265.5 1886.9M1414.1 1660.2L1556 1751.9L1697.9 1823.2L1839.8 1864.8L1981.7 1881L2123.6 1883.9L2265.5 1884.9M1414.1 1636.4L1556 1704L1697.9 1792.6L1839.8 1850.5L1981.7 1872.6L2123.6 1881.5L2265.5 1884.1M1414.1 1583.9L1556 1651.5L1697.9 1739L1839.8 1830.8L1981.7 1864.6L2123.6 1877.5L2265.5 1881.3M1414.1 1661L1556 1738.2L1697.9 1822.7L1839.8 1866.6L1981.7 1877.8L2123.6 1883.2L2265.5 1884.4M1414.1 1670.5L1556 1759.5L1697.9 1854.6L1839.8 1879.5L1981.7 1884.1L2123.6 1886L2265.5 1886.5M1414.1 1577.5L1556 1626.3L1697.9 1708.3L1839.8 1816.6L1981.7 1862.3L2123.6 1877L2265.5 1880.5M1414.1 1630.9L1556 1706.6L1697.9 1779.6L1839.8 1860.5L1981.7 1876.8L2123.6 1882.8L2265.5 1883.8M1414.1 1644.4L1556 1714.6L1697.9 1806.6L1839.8 1859.4L1981.7 1875.7L2123.6 1883L2265.5 1884.9M1414.1 1575.1L1556 1626.3L1697.9 1703L1839.8 1814.2L1981.7 1858L2123.6 1875.3L2265.5 1880.1M1414.1 1624.7L1556 1706.4L1697.9 1810L1839.8 1856.6L1981.7 1876L2123.6 1884.1L2265.5 1885.7M1414.1 1645L1556 1716.1L1697.9 1808.1L1839.8 1855.8L1981.7 1878.7L2123.6 1882.9L2265.5 1883.7M1414.1 1623.8L1556 1683.3L1697.9 1758.5L1839.8 1843.2L1981.7 1869.5L2123.6 1878.3L2265.5 1881.4M1414.1 1669.7L1556 1754.1L1697.9 1833.9L1839.8 1862.5L1981.7 1872.5L2123.6 1880.2L2265.5 1881.8M1414.1 1598.5L1556 1657.7L1697.9 1730.2L1839.8 1835.2L1981.7 1865.9L2123.6 1877.6L2265.5 1881.1M1414.1 1644.4L1556 1731.4L1697.9 1812.8L1839.8 1860.4L1981.7 1876.8L2123.6 1883L2265.5 1883.5M1414.1 1626.4L1556 1705.1L1697.9 1775.4L1839.8 1840.2L1981.7 1870.4L2123.6 1881.8L2265.5 1884M1414.1 1672.6L1556 1775.9L1697.9 1843.5L1839.8 1880.1L1981.7 1886.1L2123.6 1887.2L2265.5 1886.6M1414.1 1660L1556 1741.3L1697.9 1822.7L1839.8 1870.1L1981.7 1878.2L2123.6 1884L2265.5 1884.8M1414.1 1587.4L1556 1626.3L1697.9 1695.5L1839.8 1819.3L1981.7 1861.9L2123.6 1876.9L2265.5 1880.2M1414.1 1675.8L1556 1775.9L1697.9 1854.1L1839.8 1883.6L1981.7 1884.2L2123.6 1886.8L2265.5 1886M1414.1 1599.8L1556 1658.6L1697.9 1726.9L1839.8 1836.4L1981.7 1865.3L2123.6 1878.7L2265.5 1882.1M1414.1 1585.2L1556 1648.6L1697.9 1700.6L1839.8 1828.6L1981.7 1863.1L2123.6 1877.9L2265.5 1880.6M1414.1 1624.7L1556 1714.3L1697.9 1776.1L1839.8 1854.7L1981.7 1875.4L2123.6 1883.2L2265.5 1884.4M1414.1 1626L1556 1695.1L1697.9 1764.2L1839.8 1844.6L1981.7 1867.6L2123.6 1880.1L2265.5 1883.2M1414.1 1598L1556 1658.2L1697.9 1702.2L1839.8 1821.9L1981.7 1858L2123.6 1875.3L2265.5 1879.8M1414.1 1609.4L1556 1676.5L1697.9 1753.5L1839.8 1839.3L1981.7 1869.9L2123.6 1881.4L2265.5 1882.7M1414.1 1662.9L1556 1745.6L1697.9 1840.5L1839.8 1880.1L1981.7 1882.5L2123.6 1885.2L2265.5 1885.5M1414.1 1575.1L1556 1636.2L1697.9 1713.6L1839.8 1829.8L1981.7 1865.7L2123.6 1878L2265.5 1881.2M1414.1 1644.4L1556 1745.5L1697.9 1841.7L1839.8 1865.4L1981.7 1880.4L2123.6 1884.5L2265.5 1885.8M1414.1 1623.4L1556 1708.7L1697.9 1811.6L1839.8 1868.2L1981.7 1881L2123.6 1884.3L2265.5 1885.1M1414.1 1582.1L1556 1631.1L1697.9 1695.5L1839.8 1814.2L1981.7 1860.7L2123.6 1876.7L2265.5 1881.6M1414.1 1602.7L1556 1675.4L1697.9 1730.9L1839.8 1823.6L1981.7 1865.1L2123.6 1876.6L2265.5 1879.1M1414.1 1623.9L1556 1697.5L1697.9 1776.4L1839.8 1845.4L1981.7 1871L2123.6 1879.7L2265.5 1882.2M1414.1 1661.2L1556 1745.8L1697.9 1825.4L1839.8 1870.2L1981.7 1883.8L2123.6 1887L2265.5 1887.2M1414.1 1624.1L1556 1696.3L1697.9 1775.4L1839.8 1851.3L1981.7 1873.6L2123.6 1882.3L2265.5 1883.1M1414.1 1663.4L1556 1747.4L1697.9 1837.3L1839.8 1871.6L1981.7 1882L2123.6 1884.7L2265.5 1885.3M1414.1 1664.5L1556 1740.1L1697.9 1832.8L1839.8 1874.1L1981.7 1880.5L2123.6 1883.1L2265.5 1884.1M1414.1 1617.5L1556 1665.1L1697.9 1748.7L1839.8 1837.2L1981.7 1869.1L2123.6 1878.9L2265.5 1881.1M1414.1 1649.8L1556 1708.8L1697.9 1792.4L1839.8 1865L1981.7 1880.3L2123.6 1884.8L2265.5 1884.6M1414.1 1648.1L1556 1741.5L1697.9 1817.2L1839.8 1876.2L1981.7 1880.3L2123.6 1883.5L2265.5 1884.9M1414.1 1645.2L1556 1728L1697.9 1784.8L1839.8 1843.2L1981.7 1871L2123.6 1881.3L2265.5 1884M1414.1 1678.2L1556 1766L1697.9 1852.7L1839.8 1884.8L1981.7 1887.2L2123.6 1887.2L2265.5 1886.8M1414.1 1587L1556 1661.9L1697.9 1768.2L1839.8 1845.4L1981.7 1871.8L2123.6 1880.1L2265.5 1882.3M1414.1 1672L1556 1772.5L1697.9 1852.7L1839.8 1868.4L1981.7 1879.1L2123.6 1884.7L2265.5 1885.5M1414.1 1648L1556 1711.7L1697.9 1804.5L1839.8 1867.8L1981.7 1878.2L2123.6 1883.9L2265.5 1885M1414.1 1665.6L1556 1739.1L1697.9 1814.7L1839.8 1867.7L1981.7 1880.1L2123.6 1885.1L2265.5 1886.3M1414.1 1605.2L1556 1663.7L1697.9 1731.1L1839.8 1832.8L1981.7 1865.4L2123.6 1877.8L2265.5 1879.7M1414.1 1662L1556 1759.1L1697.9 1832.2L1839.8 1874.2L1981.7 1881.3L2123.6 1884.4L2265.5 1885.7M1414.1 1607L1556 1658.7L1697.9 1742.7L1839.8 1837.1L1981.7 1868.8L2123.6 1879.6L2265.5 1880.6M1414.1 1627L1556 1697.3L1697.9 1780.5L1839.8 1850.4L1981.7 1871.8L2123.6 1881.1L2265.5 1883M1414.1 1630.3L1556 1687.6L1697.9 1758.7L1839.8 1841.8L1981.7 1870.1L2123.6 1879.9L2265.5 1882.6M1414.1 1630.7L1556 1691.4L1697.9 1771.1L1839.8 1845.5L1981.7 1872.5L2123.6 1880.7L2265.5 1883M1414.1 1586.6L1556 1643.7L1697.9 1727.9L1839.8 1830.1L1981.7 1864.7L2123.6 1878.8L2265.5 1882.6M1414.1 1633.7L1556 1731.6L1697.9 1814.1L1839.8 1865.4L1981.7 1876L2123.6 1881.5L2265.5 1884.6M1414.1 1607.8L1556 1687.7L1697.9 1750.2L1839.8 1835.7L1981.7 1868L2123.6 1879.8L2265.5 1881.9M1414.1 1615L1556 1699.1L1697.9 1769.8L1839.8 1854L1981.7 1874.1L2123.6 1882.7L2265.5 1884.3M1414.1 1619.9L1556 1698.4L1697.9 1767.9L1839.8 1845.9L1981.7 1872.6L2123.6 1879.9L2265.5 1882M1414.1 1716.6L1556 1820.4L1697.9 1873.4L1839.8 1887.2L1981.7 1887.2L2123.6 1887.2L2265.5 1887.2M1414.1 1573.6L1556 1623.8L1697.9 1689.4L1839.8 1801.6L1981.7 1851.3L2123.6 1873.6L2265.5 1877.8M1414.1 1553.8L1556 1597.9L1697.9 1660.9L1839.8 1749L1981.7 1833.3L2123.6 1868.4L2265.5 1879.8M1414.1 1564.5L1556 1625.1L1697.9 1665.9L1839.8 1768.7L1981.7 1851.3L2123.6 1874.8L2265.5 1870.9M1414.1 1575.6L1556 1627.5L1697.9 1670.8L1839.8 1783.8L1981.7 1852.6L2123.6 1874.8L2265.5 1879.8M1414.1 1718.5L1556 1843.2L1697.9 1873.4L1839.8 1884.7L1981.7 1887.2L2123.6 1887.2L2265.5 1887.2" stroke="#b3b3b3" stroke-width="2.2" fill="none" stroke-linejoin="round"/>
<path d="M1414.1 1716.6h0M1556 1816.8h0M1697.9 1872.6h0M1839.8 1887.2h0M1981.7 1887.2h0M2123.6 1887.2h0M2265.5 1887.2h0M1414.1 1709.7h0M1556 1810.5h0M1697.9 1871.7h0M1839.8 1887.2h0M1981.7 1887.2h0M2123.6 1887.2h0M2265.5 1887.2h0M1414.1 1715.6h0M1556 1812.9h0M1697.9 1872.1h0M1839.8 1887.2h0M1981.7 1887.2h0M2123.6 1887.2h0M2265.5 1887.2h0M1414.1 1703.8h0M1556 1808.8h0M1697.9 1870.2h0M1839.8 1887.2h0M1981.7 1887.2h0M2123.6 1887.2h0M2265.5 1887.2h0M1414.1 1707.1h0M1556 1810.4h0M1697.9 1870.7h0M1839.8 1887.2h0M1981.7 1887.2h0M2123.6 1887.2h0M2265.5 1887.2h0M1414.1 1703.7h0M1556 1807.8h0M1697.9 1870.4h0M1839.8 1887.2h0M1981.7 1887.2h0M2123.6 1887.2h0M2265.5 1887.2h0M1414.1 1694.7h0M1556 1794.3h0M1697.9 1868h0M1839.8 1887.2h0M1981.7 1887.2h0M2123.6 1887.2h0M2265.5 1887.2h0M1414.1 1690.4h0M1556 1790.4h0M1697.9 1867.9h0M1839.8 1887.2h0M1981.7 1887.2h0M2123.6 1887.2h0M2265.5 1887.2h0M1414.1 1690.4h0M1556 1786.9h0M1697.9 1869h0M1839.8 1887.2h0M1981.7 1887.2h0M2123.6 1887.2h0M2265.5 1887.2h0M1414.1 1692.8h0M1556 1794.7h0M1697.9 1868h0M1839.8 1887.2h0M1981.7 1887.2h0M2123.6 1887.2h0M2265.5 1887.2h0M1414.1 1694.1h0M1556 1799.6h0M1697.9 1868.6h0M1839.8 1887.2h0M1981.7 1887.2h0M2123.6 1887.2h0M2265.5 1887.2h0M1414.1 1687.2h0M1556 1778.9h0M1697.9 1865.4h0M1839.8 1887.1h0M1981.7 1887.2h0M2123.6 1886.9h0M2265.5 1886.1h0M1414.1 1683.3h0M1556 1781.1h0M1697.9 1865.7h0M1839.8 1887.1h0M1981.7 1885.6h0M2123.6 1887.2h0M2265.5 1887.2h0M1414.1 1684.2h0M1556 1775.7h0M1697.9 1864.9h0M1839.8 1885.9h0M1981.7 1887.2h0M2123.6 1886.4h0M2265.5 1886.5h0M1414.1 1573.7h0M1556 1623.8h0M1697.9 1689.9h0M1839.8 1803.4h0M1981.7 1852.9h0M2123.6 1873.8h0M2265.5 1878h0M1414.1 1574.4h0M1556 1624.6h0M1697.9 1691.4h0M1839.8 1804.8h0M1981.7 1852.8h0M2123.6 1874h0M2265.5 1878.1h0M1414.1 1574.7h0M1556 1626.1h0M1697.9 1693.6h0M1839.8 1809.4h0M1981.7 1855.4h0M2123.6 1874.7h0M2265.5 1878.7h0M1414.1 1575.1h0M1556 1626.2h0M1697.9 1696h0M1839.8 1814.2h0M1981.7 1858h0M2123.6 1875.6h0M2265.5 1879h0M1981.7 1860.9h0M2123.6 1876.5h0M2265.5 1880.2h0M2123.6 1879.2h0M2265.5 1880.1h0M1697.9 1864.9h0M1839.8 1885.8h0M1981.7 1884.5h0M2123.6 1887.2h0M2265.5 1886.5h0M2123.6 1882.8h0M2265.5 1884h0M1981.7 1861.9h0M2123.6 1876.7h0M2265.5 1880.8h0M2123.6 1875.8h0M2265.5 1879.2h0M2123.6 1883.4h0M2265.5 1884.1h0M2123.6 1882.4h0M2265.5 1884.4h0M1414.1 1679.5h0M1556 1774.5h0M1697.9 1864.9h0M1839.8 1883.3h0M1981.7 1886.2h0M2123.6 1886.5h0M2265.5 1886.4h0M2265.5 1882.9h0M1556 1775.9h0M1839.8 1887.2h0M1981.7 1887.2h0M2123.6 1885.7h0M2265.5 1885.6h0M1839.8 1818.6h0M1981.7 1859.4h0M2123.6 1877.2h0M2265.5 1880.3h0M1981.7 1882.6h0M2123.6 1885.4h0M2265.5 1885.5h0M1839.8 1817.1h0M2123.6 1878.2h0M2265.5 1882.2h0M1981.7 1885.2h0M2123.6 1887.2h0M2265.5 1886.3h0M1556 1775.9h0M1839.8 1887.2h0M1981.7 1886.7h0M2123.6 1887.1h0M2265.5 1887h0M2123.6 1878.9h0M2265.5 1881.6h0M2265.5 1884.1h0M1981.7 1862h0M2123.6 1876.1h0M2265.5 1879h0M2123.6 1878.6h0M2265.5 1881h0M2123.6 1879.8h0M2265.5 1881.6h0M1556 1629.9h0M1981.7 1861.1h0M2123.6 1878.2h0M2265.5 1881.3h0M2123.6 1878.9h0M2265.5 1881.3h0M2265.5 1882.2h0M2265.5 1883h0M2123.6 1885h0M2265.5 1885.9h0M1414.1 1575.1h0M1556 1626.3h0M1697.9 1695.5h0M1839.8 1814.2h0M1981.7 1858h0M2123.6 1875.8h0M2265.5 1879h0M2123.6 1879.3h0M2265.5 1881.4h0M1981.7 1882.6h0M2123.6 1885.5h0M2265.5 1887h0M1556 1626.3h0M1981.7 1861.5h0M2123.6 1875.6h0M2265.5 1879h0M1697.9 1695.5h0M1839.8 1814.2h0M1981.7 1858h0M2123.6 1876.2h0M2265.5 1879.7h0M2123.6 1880.2h0M2265.5 1882.7h0M2123.6 1879.4h0M2265.5 1882.2h0M2123.6 1879.8h0M2265.5 1882.4h0M2265.5 1883.4h0M2265.5 1883.2h0M2123.6 1883.9h0M2265.5 1885.2h0M2123.6 1878.8h0M2265.5 1881.6h0M1981.7 1859.4h0M2123.6 1876.5h0M2265.5 1880h0M1981.7 1885.5h0M2123.6 1886.9h0M2265.5 1886.9h0M1697.9 1864.9h0M1839.8 1887.2h0M2123.6 1882.5h0M2265.5 1883.1h0M2123.6 1876.6h0M2265.5 1881.7h0M2123.6 1878.9h0M2265.5 1881.5h0M2123.6 1884.9h0M2265.5 1885.2h0M1981.7 1862.7h0M2123.6 1877.3h0M2265.5 1880.3h0M1981.7 1861.6h0M2123.6 1877.8h0M2265.5 1880.2h0M1697.9 1864.9h0M1839.8 1886.4h0M1981.7 1886h0M2123.6 1885.7h0M2265.5 1887.2h0M2123.6 1885.6h0M2265.5 1885.9h0M1839.8 1882.5h0M1981.7 1884h0M2123.6 1886.2h0M2265.5 1886.6h0M2123.6 1884.2h0M2265.5 1885.7h0M1556 1626.3h0M1697.9 1695.5h0M1981.7 1860.6h0M2123.6 1877.1h0M2265.5 1881.4h0M2265.5 1882.6h0M1981.7 1860.2h0M2123.6 1876.6h0M2265.5 1879.8h0M2265.5 1882.9h0M2123.6 1877.6h0M2265.5 1879.5h0M2265.5 1882.5h0M1981.7 1861.9h0M2123.6 1877h0M2265.5 1880.6h0M2123.6 1882.7h0M2265.5 1884.4h0M2123.6 1880.1h0M2265.5 1882h0M2265.5 1882.8h0M2265.5 1882.1h0M1414.1 1679.5h0M1556 1775.5h0M2123.6 1884.6h0M2265.5 1885.5h0M2123.6 1879.4h0M2265.5 1881.9h0M1414.1 1575.1h0M1556 1626.3h0M1697.9 1696.3h0M1839.8 1818.1h0M1981.7 1860.5h0M2123.6 1876.3h0M2265.5 1880h0M2265.5 1882.2h0M1981.7 1884.4h0M2123.6 1885.6h0M2265.5 1886.1h0M2123.6 1885.3h0M2265.5 1886.2h0M2123.6 1886.4h0M2265.5 1887h0M2123.6 1876.5h0M2265.5 1879h0M2265.5 1883h0M1981.7 1886.2h0M2123.6 1886.4h0M2265.5 1887.2h0M2123.6 1878.9h0M2265.5 1882.3h0M1556 1775.9h0M1839.8 1887.2h0M1981.7 1887.2h0M2123.6 1887.2h0M2265.5 1887.1h0M1981.7 1862.2h0M2123.6 1877.8h0M2265.5 1881.5h0M2123.6 1880h0M2265.5 1881.6h0M2123.6 1883.1h0M2265.5 1884h0M1414.1 1678h0M1839.8 1887.2h0M1981.7 1886.7h0M2123.6 1886.5h0M2265.5 1886.6h0M1981.7 1883.1h0M2123.6 1884.5h0M2265.5 1884.2h0M2123.6 1878.2h0M2265.5 1881.7h0M2123.6 1882.3h0M2265.5 1883h0M2265.5 1884.2h0M2265.5 1883h0M1981.7 1860.8h0M2123.6 1876.4h0M2265.5 1879.9h0M2123.6 1882.8h0M2265.5 1883.7h0M2123.6 1884.7h0M2265.5 1886.5h0M2123.6 1878.6h0M2265.5 1881.4h0M2265.5 1882.8h0M2123.6 1878.3h0M2265.5 1880.8h0M2123.6 1879.7h0M2265.5 1882h0M2265.5 1882.1h0M2123.6 1884.2h0M2265.5 1885.9h0M2123.6 1884.1h0M2265.5 1885h0M2123.6 1884.4h0M2265.5 1883.9h0M2123.6 1879.6h0M2265.5 1882.9h0M2265.5 1883.5h0M2123.6 1883.4h0M2265.5 1884.3h0M2265.5 1883.4h0M1697.9 1695.5h0M1839.8 1814.2h0M1981.7 1858h0M2123.6 1876.2h0M2265.5 1880.9h0M1556 1773.8h0M1839.8 1887.2h0M1981.7 1885.2h0M2123.6 1885.4h0M2265.5 1884.3h0M2123.6 1883.5h0M2265.5 1884.8h0M2265.5 1883.5h0M2123.6 1885h0M2265.5 1885.2h0M2265.5 1882h0M2123.6 1882.8h0M2265.5 1884.6h0M2123.6 1879h0M2265.5 1881.7h0M1981.7 1862.7h0M2123.6 1876.1h0M2265.5 1880.2h0M1981.7 1883h0M2123.6 1884.7h0M2265.5 1886.2h0M2265.5 1881.9h0M2123.6 1883.9h0M2265.5 1885.4h0M2123.6 1877.6h0M2265.5 1881.1h0M1981.7 1885.1h0M2123.6 1886h0M2265.5 1887.1h0M2123.6 1883h0M2265.5 1883.7h0M1697.9 1695.7h0M1839.8 1814.2h0M1981.7 1858.5h0M2123.6 1876.4h0M2265.5 1879.7h0M2123.6 1879.9h0M2265.5 1882.4h0M2123.6 1878.4h0M2265.5 1882.2h0M2265.5 1882.3h0M1981.7 1885.4h0M2123.6 1887.2h0M2265.5 1887.2h0M1414.1 1575.7h0M1556 1626.3h0M1697.9 1695.5h0M1839.8 1814.2h0M1981.7 1859.1h0M2123.6 1876.8h0M2265.5 1879.8h0M1839.8 1882.4h0M1981.7 1886.5h0M2123.6 1886.4h0M2265.5 1886.5h0M2123.6 1880h0M2265.5 1882.2h0M2123.6 1883.3h0M2265.5 1885.6h0M2123.6 1879.7h0M2265.5 1882.1h0M1981.7 1883.8h0M2123.6 1886.3h0M2265.5 1886.1h0M2123.6 1879.7h0M2265.5 1883h0M2123.6 1878.7h0M2265.5 1880.9h0M2265.5 1882.8h0M2123.6 1882.3h0M2265.5 1884.2h0M2123.6 1877.5h0M2265.5 1879h0M2123.6 1876.3h0M2265.5 1880h0M1981.7 1859.1h0M2123.6 1876.3h0M2265.5 1880.3h0M2265.5 1883h0M2265.5 1882.7h0M1981.7 1882.3h0M2123.6 1884.6h0M2265.5 1885.3h0M2123.6 1878.1h0M2265.5 1882.1h0M2265.5 1883.2h0M1414.1 1677h0M1697.9 1864.9h0M1839.8 1882.6h0M2123.6 1884.8h0M2265.5 1886.2h0M2123.6 1883.8h0M2265.5 1885.2h0M2123.6 1877.5h0M2265.5 1880.3h0M2123.6 1880.2h0M2265.5 1882.8h0M2123.6 1884h0M2265.5 1884.5h0M2265.5 1882.4h0M2265.5 1881.7h0M1556 1629.4h0M1697.9 1697.4h0M1839.8 1814.2h0M1981.7 1858h0M2123.6 1875.3h0M2265.5 1879h0M1981.7 1885.7h0M2123.6 1886.4h0M2265.5 1886.3h0M2265.5 1883.3h0M2123.6 1882.7h0M2265.5 1883.7h0M1981.7 1884.2h0M2123.6 1885.4h0M2265.5 1886.4h0M1556 1772.4h0M1697.9 1864.9h0M1839.8 1887.2h0M1981.7 1883.7h0M2123.6 1885.2h0M2265.5 1885.9h0M2265.5 1882.7h0M1839.8 1818.6h0M1981.7 1859h0M2123.6 1876.8h0M2265.5 1880.7h0M1414.1 1676.4h0M1981.7 1884.6h0M2123.6 1886.2h0M2265.5 1885.7h0M1414.1 1676.7h0M1556 1775.9h0M1697.9 1864.9h0M1981.7 1884.3h0M2123.6 1883.9h0M2265.5 1883.5h0M2123.6 1877.5h0M2265.5 1879h0M2123.6 1879.5h0M2265.5 1882.2h0M2123.6 1878.2h0M2265.5 1881h0M2123.6 1882.9h0M2265.5 1884.2h0M1414.1 1577.1h0M2123.6 1877.4h0M2265.5 1881.1h0M1981.7 1886.1h0M2123.6 1885.3h0M2265.5 1887h0M2123.6 1877.6h0M2265.5 1880.7h0M1414.1 1679.5h0M1556 1773.2h0M1697.9 1864.9h0M1839.8 1887.2h0M1981.7 1886.5h0M2123.6 1886.5h0M2265.5 1887.2h0M2123.6 1878.5h0M2265.5 1881.3h0M1839.8 1884.8h0M1981.7 1887.2h0M2123.6 1886.7h0M2265.5 1886.8h0M1981.7 1886.7h0M2123.6 1886.8h0M2265.5 1886.3h0M2123.6 1878.1h0M2265.5 1882.3h0M1839.8 1884.7h0M1981.7 1887.2h0M2123.6 1885.9h0M2265.5 1886.2h0M2265.5 1883.6h0M2265.5 1884.3h0M2123.6 1884.3h0M2265.5 1885.5h0M1839.8 1817.3h0M1981.7 1858.4h0M2123.6 1875.9h0M2265.5 1879.2h0M1414.1 1678.3h0M2123.6 1882.5h0M2265.5 1885.1h0M2123.6 1885.5h0M2265.5 1886.2h0M2265.5 1883.3h0M2123.6 1879.4h0M2265.5 1882.7h0M1697.9 1864.9h0M1839.8 1884.1h0M1981.7 1887.2h0M2123.6 1886.6h0M2265.5 1885.7h0M2123.6 1880h0M2265.5 1882h0M2123.6 1882.3h0M2265.5 1883.3h0M1697.9 1695.5h0M1839.8 1814.2h0M1981.7 1858h0M2123.6 1876.9h0M2265.5 1879.9h0M2123.6 1882.4h0M2265.5 1884.2h0M1981.7 1860.5h0M2123.6 1878.6h0M2265.5 1882h0M2123.6 1883.1h0M2265.5 1884.3h0M1697.9 1864.9h0M1839.8 1886.6h0M1981.7 1884.8h0M2123.6 1885.7h0M2265.5 1885.3h0M2265.5 1884.3h0M1414.1 1679.5h0M2123.6 1886h0M2265.5 1885.8h0M1697.9 1864.9h0M1839.8 1887.2h0M1981.7 1887.2h0M2123.6 1887.1h0M2265.5 1887.2h0M1414.1 1675.3h0M1697.9 1864.6h0M1839.8 1883.1h0M1981.7 1884h0M2123.6 1886.8h0M2265.5 1887.2h0M2265.5 1882.9h0M2123.6 1879.2h0M2265.5 1882h0M2123.6 1884.4h0M2265.5 1885h0M1414.1 1575.9h0M1556 1626.3h0M1697.9 1696.4h0M1839.8 1819.2h0M2123.6 1876.8h0M2265.5 1879.9h0M1414.1 1679.5h0M1556 1774.9h0M1697.9 1864.9h0M1839.8 1887.2h0M1981.7 1887.2h0M2123.6 1887.2h0M2265.5 1886.9h0M2123.6 1882.3h0M2265.5 1883.1h0M1839.8 1816.4h0M1981.7 1860.7h0M2123.6 1876.2h0M2265.5 1880.3h0M2265.5 1883.9h0M1981.7 1862.6h0M2123.6 1878.3h0M2265.5 1882.1h0M2123.6 1883.3h0M2265.5 1884.6h0M2123.6 1877.5h0M2265.5 1880.5h0M2123.6 1883.8h0M2265.5 1884.1h0M1981.7 1887.2h0M2123.6 1887.2h0M2265.5 1887.2h0M1981.7 1862.5h0M2123.6 1877.3h0M2265.5 1880.7h0M1839.8 1885.5h0M1981.7 1887.2h0M2123.6 1887.2h0M2265.5 1886.8h0M2265.5 1883.6h0M2123.6 1877.7h0M2265.5 1879.6h0M1981.7 1862.6h0M2123.6 1877.7h0M2265.5 1880.7h0M1414.1 1575.1h0M1697.9 1698.8h0M1839.8 1814.7h0M1981.7 1858h0M2123.6 1876.4h0M2265.5 1879.8h0M1414.1 1675.1h0M1556 1773.3h0M1839.8 1887.2h0M1981.7 1884.5h0M2123.6 1886.7h0M2265.5 1884.6h0M2265.5 1883.5h0M2123.6 1878h0M2265.5 1880h0M2123.6 1882.8h0M2265.5 1884.8h0M1414.1 1679.5h0M1556 1775.9h0M2123.6 1884.2h0M2265.5 1885.7h0M1697.9 1699.1h0M1839.8 1814.2h0M1981.7 1859.1h0M2123.6 1876.5h0M2265.5 1879.8h0M2265.5 1881.9h0M2123.6 1882.7h0M2265.5 1884.1h0M2265.5 1882.1h0M1414.1 1578.6h0M1556 1626.3h0M1697.9 1695.5h0M1839.8 1815.7h0M1981.7 1858h0M2123.6 1875.3h0M2265.5 1879.2h0M1981.7 1859.8h0M2123.6 1875.5h0M2265.5 1880.2h0M2123.6 1885.1h0M2265.5 1885.4h0M2123.6 1884.5h0M2265.5 1885.3h0M2123.6 1878.8h0M2265.5 1880.7h0M2123.6 1877.6h0M2265.5 1882.6h0M2265.5 1883.1h0M2123.6 1883.6h0M2265.5 1884h0M1981.7 1862.2h0M2123.6 1877.6h0M2265.5 1880.3h0M2123.6 1885.6h0M2265.5 1886.7h0M1414.1 1575.1h0M1556 1627.9h0M1697.9 1695.5h0M1839.8 1814.2h0M1981.7 1858h0M2123.6 1875.3h0M2265.5 1879.5h0M1981.7 1882.3h0M2123.6 1885.8h0M2265.5 1886.9h0M2123.6 1883.9h0M2265.5 1884.9h0M2265.5 1884.1h0M2123.6 1877.5h0M2265.5 1881.3h0M2123.6 1883.2h0M2265.5 1884.4h0M1981.7 1884.1h0M2123.6 1886h0M2265.5 1886.5h0M1414.1 1577.5h0M1556 1626.3h0M1839.8 1816.6h0M1981.7 1862.3h0M2123.6 1877h0M2265.5 1880.5h0M2123.6 1882.8h0M2265.5 1883.8h0M2123.6 1883h0M2265.5 1884.9h0M1414.1 1575.1h0M1556 1626.3h0M1839.8 1814.2h0M1981.7 1858h0M2123.6 1875.3h0M2265.5 1880.1h0M2123.6 1884.1h0M2265.5 1885.7h0M2123.6 1882.9h0M2265.5 1883.7h0M2123.6 1878.3h0M2265.5 1881.4h0M2123.6 1880.2h0M2265.5 1881.8h0M2123.6 1877.6h0M2265.5 1881.1h0M2123.6 1883h0M2265.5 1883.5h0M2265.5 1884h0M1556 1775.9h0M1981.7 1886.1h0M2123.6 1887.2h0M2265.5 1886.6h0M2123.6 1884h0M2265.5 1884.8h0M1556 1626.3h0M1697.9 1695.5h0M1981.7 1861.9h0M2123.6 1876.9h0M2265.5 1880.2h0M1414.1 1675.8h0M1556 1775.9h0M1839.8 1883.6h0M1981.7 1884.2h0M2123.6 1886.8h0M2265.5 1886h0M2123.6 1878.7h0M2265.5 1882.1h0M2123.6 1877.9h0M2265.5 1880.6h0M2123.6 1883.2h0M2265.5 1884.4h0M2123.6 1880.1h0M2265.5 1883.2h0M1981.7 1858h0M2123.6 1875.3h0M2265.5 1879.8h0M2265.5 1882.7h0M1981.7 1882.5h0M2123.6 1885.2h0M2265.5 1885.5h0M1414.1 1575.1h0M2123.6 1878h0M2265.5 1881.2h0M2123.6 1884.5h0M2265.5 1885.8h0M2123.6 1884.3h0M2265.5 1885.1h0M1556 1631.1h0M1697.9 1695.5h0M1839.8 1814.2h0M1981.7 1860.7h0M2123.6 1876.7h0M2265.5 1881.6h0M2123.6 1876.6h0M2265.5 1879.1h0M2123.6 1879.7h0M2265.5 1882.2h0M1981.7 1883.8h0M2123.6 1887h0M2265.5 1887.2h0M2123.6 1882.3h0M2265.5 1883.1h0M2123.6 1884.7h0M2265.5 1885.3h0M2123.6 1883.1h0M2265.5 1884.1h0M2123.6 1878.9h0M2265.5 1881.1h0M2123.6 1884.8h0M2265.5 1884.6h0M2123.6 1883.5h0M2265.5 1884.9h0M2265.5 1884h0M1414.1 1678.2h0M1839.8 1884.8h0M1981.7 1887.2h0M2123.6 1887.2h0M2265.5 1886.8h0M2123.6 1880.1h0M2265.5 1882.3h0M1556 1772.5h0M2123.6 1884.7h0M2265.5 1885.5h0M2123.6 1883.9h0M2265.5 1885h0M2123.6 1885.1h0M2265.5 1886.3h0M2123.6 1877.8h0M2265.5 1879.7h0M2123.6 1884.4h0M2265.5 1885.7h0M2123.6 1879.6h0M2265.5 1880.6h0M2265.5 1883h0M2123.6 1879.9h0M2265.5 1882.6h0M2265.5 1883h0M2123.6 1878.8h0M2265.5 1882.6h0M2265.5 1884.6h0M2123.6 1879.8h0M2265.5 1881.9h0M2123.6 1882.7h0M2265.5 1884.3h0M2123.6 1879.9h0M2265.5 1882h0M1414.1 1716.6h0M1556 1820.4h0M1697.9 1873.4h0M1839.8 1887.2h0M1981.7 1887.2h0M2123.6 1887.2h0M2265.5 1887.2h0M1414.1 1573.6h0M1556 1623.8h0M1697.9 1689.4h0M1839.8 1801.6h0M1981.7 1851.3h0M2123.6 1873.6h0M2265.5 1877.8h0M1414.1 1553.8h0M1556 1597.9h0M1697.9 1660.9h0M1839.8 1749h0M1981.7 1833.3h0M2123.6 1868.4h0M2265.5 1879.8h0M1414.1 1564.5h0M1556 1625.1h0M1697.9 1665.9h0M1839.8 1768.7h0M1981.7 1851.3h0M2123.6 1874.8h0M2265.5 1870.9h0M1414.1 1575.6h0M1556 1627.5h0M1697.9 1670.8h0M1839.8 1783.8h0M1981.7 1852.6h0M2123.6 1874.8h0M2265.5 1879.8h0M1414.1 1718.5h0M1556 1843.2h0M1697.9 1873.4h0M1839.8 1884.7h0M1981.7 1887.2h0M2123.6 1887.2h0M2265.5 1887.2h0" stroke="#000" stroke-width="4.4" stroke-linecap="square" fill="none"/>
<line x1="1414.1" y1="1575.1" x2="1414.1" y2="1679.5" stroke="#000" stroke-width="4.8"/>
<line x1="1556" y1="1626.3" x2="1556" y2="1775.9" stroke="#000" stroke-width="4.8"/>
<line x1="1697.9" y1="1695.5" x2="1697.9" y2="1864.9" stroke="#000" stroke-width="4.8"/>
<line x1="1839.8" y1="1814.2" x2="1839.8" y2="1887.2" stroke="#000" stroke-width="4.8"/>
<line x1="1981.7" y1="1858" x2="1981.7" y2="1887.2" stroke="#000" stroke-width="4.8"/>
<line x1="2123.6" y1="1875.3" x2="2123.6" y2="1887.2" stroke="#000" stroke-width="4.8"/>
<line x1="2265.5" y1="1879" x2="2265.5" y2="1887.2" stroke="#000" stroke-width="4.8"/>
<text font-size="56" text-anchor="middle" transform="translate(1837 1412.9) scale(1 1.04)">2D-6M</text>
<line x1="1343.8" y1="2006.3" x2="1343.8" y2="2506.4" stroke="#555" stroke-width="4.6"/>
<line x1="1328.3" y1="2504" x2="2335.5" y2="2504" stroke="#4a4a4a" stroke-width="4.8"/>
<line x1="1328.3" y1="2379.9" x2="1343.8" y2="2379.9" stroke="#000" stroke-width="3"/>
<line x1="1328.3" y1="2255.9" x2="1343.8" y2="2255.9" stroke="#000" stroke-width="3"/>
<line x1="1328.3" y1="2131.8" x2="1343.8" y2="2131.8" stroke="#000" stroke-width="3"/>
<line x1="1328.3" y1="2007.8" x2="1343.8" y2="2007.8" stroke="#000" stroke-width="3"/>
<text font-size="57" text-anchor="end" transform="translate(1309.8 2525.5) scale(1 1.04)">0.0</text>
<text font-size="57" text-anchor="end" transform="translate(1309.8 2401.4) scale(1 1.04)">0.5</text>
<text font-size="57" text-anchor="end" transform="translate(1309.8 2277.4) scale(1 1.04)">1.0</text>
<text font-size="57" text-anchor="end" transform="translate(1309.8 2153.3) scale(1 1.04)">1.5</text>
<text font-size="57" text-anchor="end" transform="translate(1314.3 2029.3) scale(1 1.04)">2.0</text>
<line x1="1414.1" y1="2504" x2="1414.1" y2="2518" stroke="#222" stroke-width="3.6"/>
<line x1="1556" y1="2504" x2="1556" y2="2518" stroke="#222" stroke-width="3.6"/>
<line x1="1697.9" y1="2504" x2="1697.9" y2="2518" stroke="#222" stroke-width="3.6"/>
<line x1="1839.8" y1="2504" x2="1839.8" y2="2518" stroke="#222" stroke-width="3.6"/>
<line x1="1981.7" y1="2504" x2="1981.7" y2="2518" stroke="#222" stroke-width="3.6"/>
<line x1="2123.6" y1="2504" x2="2123.6" y2="2518" stroke="#222" stroke-width="3.6"/>
<line x1="2265.5" y1="2504" x2="2265.5" y2="2518" stroke="#222" stroke-width="3.6"/>
<polygon points="1414.1,2144.3 1556,2172.8 1697.9,2202.6 1839.8,2257.1 1981.7,2322.9 2123.6,2406 2265.5,2467.3 2265.5,2504 2123.6,2504 1981.7,2484.2 1839.8,2419.6 1697.9,2347.7 1556,2286.9 1414.1,2246" fill="#b3b3b3"/>
<path d="M1414.1 2247.4L1556 2288.4L1697.9 2350.9L1839.8 2434.8L1981.7 2487.3L2123.6 2504L2265.5 2504M1414.1 2247.2L1556 2287.8L1697.9 2349.9L1839.8 2429.4L1981.7 2485.6L2123.6 2504L2265.5 2504M1414.1 2246.9L1556 2288.1L1697.9 2350.4L1839.8 2430.1L1981.7 2486.5L2123.6 2504L2265.5 2504M1414.1 2246.5L1556 2287.4L1697.9 2349.2L1839.8 2426L1981.7 2485.8L2123.6 2504L2265.5 2504M1414.1 2246.2L1556 2287.3L1697.9 2348.3L1839.8 2422.3L1981.7 2484.5L2123.6 2504L2265.5 2504M1414.1 2246L1556 2286.7L1697.9 2347.7L1839.8 2415.7L1981.7 2484.2L2123.6 2501L2265.5 2498.9M1414.1 2139.3L1556 2171.2L1697.9 2196.9L1839.8 2227.7L1981.7 2285.7L2123.6 2397.8L2265.5 2464.3M1414.1 2141.1L1556 2171.8L1697.9 2198.9L1839.8 2241.8L1981.7 2308.4L2123.6 2402L2265.5 2465.8M1414.1 2140.6L1556 2171.6L1697.9 2198.5L1839.8 2237.9L1981.7 2298.6L2123.6 2399.3L2265.5 2465.1M1414.1 2141.2L1556 2171.9L1697.9 2199.3L1839.8 2238.7L1981.7 2303.5L2123.6 2400.9L2265.5 2465.7M1414.1 2141.3L1556 2171.8L1697.9 2200.1L1839.8 2245.9L1981.7 2313.9L2123.6 2404.9L2265.5 2467M1414.1 2142.7L1556 2172.3L1697.9 2201.7L1839.8 2254.7L1981.7 2323.1L2123.6 2406L2265.5 2468.7M1414.1 2143.4L1556 2172.5L1697.9 2201.1L1839.8 2248.6L1981.7 2313.6L2123.6 2403.7L2265.5 2466.4M1414.1 2144.2L1556 2172.5L1697.9 2202L1839.8 2255.1L1981.7 2323.3L2123.6 2406L2265.5 2470.1M1414.1 2229.4L1556 2272.9L1697.9 2338.1L1839.8 2397.3L1981.7 2464.2L2123.6 2485.1L2265.5 2498M1414.1 2192.4L1556 2226.1L1697.9 2250.7L1839.8 2315.9L1981.7 2383.7L2123.6 2442.4L2265.5 2478.1M1414.1 2157.1L1556 2185L1697.9 2204.4L1839.8 2264.3L1981.7 2345.5L2123.6 2420.7L2265.5 2471.1M1414.1 2220.5L1556 2274.4L1697.9 2331.5L1839.8 2400.3L1981.7 2457.4L2123.6 2485.5L2265.5 2494.9M1414.1 2203.7L1556 2253.7L1697.9 2312L1839.8 2366.1L1981.7 2420.7L2123.6 2479.1L2265.5 2493M1414.1 2211.3L1556 2246.2L1697.9 2294.5L1839.8 2343.1L1981.7 2425.7L2123.6 2471.6L2265.5 2492.3M1414.1 2201.6L1556 2222.1L1697.9 2272L1839.8 2330.3L1981.7 2398.7L2123.6 2450.1L2265.5 2485.7M1414.1 2175L1556 2195.6L1697.9 2227.6L1839.8 2257.1L1981.7 2342.9L2123.6 2418.9L2265.5 2475.7M1414.1 2165.3L1556 2204.3L1697.9 2258.3L1839.8 2340.8L1981.7 2403.2L2123.6 2445.4L2265.5 2478.8M1414.1 2189.4L1556 2226.6L1697.9 2287.4L1839.8 2371.4L1981.7 2423.4L2123.6 2469.1L2265.5 2490.1M1414.1 2208.9L1556 2233L1697.9 2287.6L1839.8 2356.8L1981.7 2430L2123.6 2461.4L2265.5 2484.6M1414.1 2148.5L1556 2177.3L1697.9 2221.6L1839.8 2303.3L1981.7 2370.5L2123.6 2432.5L2265.5 2478.8M1414.1 2168.8L1556 2200.8L1697.9 2229L1839.8 2266.4L1981.7 2326L2123.6 2412.2L2265.5 2468.4M1414.1 2184.9L1556 2222.1L1697.9 2282.2L1839.8 2342.7L1981.7 2403.8L2123.6 2458.2L2265.5 2485.3M1414.1 2175.1L1556 2214.5L1697.9 2263.3L1839.8 2325.4L1981.7 2396.8L2123.6 2441.6L2265.5 2479M1414.1 2208.4L1556 2240.4L1697.9 2277.7L1839.8 2331.4L1981.7 2398.4L2123.6 2452.9L2265.5 2484.8M1414.1 2229.7L1556 2261.3L1697.9 2311.8L1839.8 2391L1981.7 2427L2123.6 2476.9L2265.5 2492.1M1414.1 2147.8L1556 2184.1L1697.9 2216.7L1839.8 2275.3L1981.7 2327L2123.6 2406L2265.5 2467.3M1414.1 2231.9L1556 2254.1L1697.9 2298.4L1839.8 2353.4L1981.7 2429.5L2123.6 2465.4L2265.5 2492.9M1414.1 2197.5L1556 2239.7L1697.9 2299.7L1839.8 2366.4L1981.7 2429.2L2123.6 2474.3L2265.5 2493.6M1414.1 2156.5L1556 2187.6L1697.9 2217.7L1839.8 2257.4L1981.7 2322.9L2123.6 2409.6L2265.5 2467.3M1414.1 2239.3L1556 2269.9L1697.9 2330.8L1839.8 2408.8L1981.7 2480.9L2123.6 2489.3L2265.5 2497.8M1414.1 2175.3L1556 2210.2L1697.9 2243.5L1839.8 2293.3L1981.7 2333.5L2123.6 2417.8L2265.5 2467.3M1414.1 2184.2L1556 2208L1697.9 2228.3L1839.8 2270.9L1981.7 2331.9L2123.6 2409.3L2265.5 2473.6M1414.1 2169.2L1556 2207.6L1697.9 2243.2L1839.8 2309L1981.7 2345.3L2123.6 2427.6L2265.5 2477.5M1414.1 2236.7L1556 2274.6L1697.9 2330.8L1839.8 2407.4L1981.7 2460.3L2123.6 2487.1L2265.5 2494.2M1414.1 2195.1L1556 2230.4L1697.9 2286.1L1839.8 2339.7L1981.7 2411.4L2123.6 2461.1L2265.5 2487.8M1414.1 2239.7L1556 2271.9L1697.9 2334.4L1839.8 2406.3L1981.7 2468.4L2123.6 2499.2L2265.5 2502.9M1414.1 2243.6L1556 2283.6L1697.9 2344.8L1839.8 2419.6L1981.7 2484.2L2123.6 2489.3L2265.5 2494.6M1414.1 2211.9L1556 2239.1L1697.9 2276.2L1839.8 2343.8L1981.7 2426.1L2123.6 2477.9L2265.5 2494.8M1414.1 2144.3L1556 2174.7L1697.9 2208.4L1839.8 2257.1L1981.7 2322.9L2123.6 2412.6L2265.5 2468.4M1414.1 2194.9L1556 2232.1L1697.9 2281.3L1839.8 2345.1L1981.7 2428.5L2123.6 2470L2265.5 2489M1414.1 2193L1556 2224.4L1697.9 2265.7L1839.8 2303.7L1981.7 2370.9L2123.6 2433.8L2265.5 2474.2M1414.1 2216.7L1556 2258.5L1697.9 2315.9L1839.8 2385.5L1981.7 2455.3L2123.6 2479L2265.5 2492.6M1414.1 2164.8L1556 2186.8L1697.9 2209.2L1839.8 2257.1L1981.7 2329.8L2123.6 2410.7L2265.5 2467.3M1414.1 2154.9L1556 2182.5L1697.9 2213.8L1839.8 2280.7L1981.7 2345.2L2123.6 2430.1L2265.5 2472.9M1414.1 2241.8L1556 2282L1697.9 2338.9L1839.8 2407.9L1981.7 2466.9L2123.6 2495.9L2265.5 2500.8M1414.1 2158.9L1556 2196.3L1697.9 2243.1L1839.8 2318.9L1981.7 2391.5L2123.6 2442.9L2265.5 2479.9M1414.1 2171.7L1556 2200.3L1697.9 2208.3L1839.8 2282.6L1981.7 2344.8L2123.6 2428.7L2265.5 2472.3M1414.1 2214.1L1556 2249.2L1697.9 2291.8L1839.8 2392.1L1981.7 2470.3L2123.6 2494.7L2265.5 2504M1414.1 2166.6L1556 2208.6L1697.9 2252.3L1839.8 2304.8L1981.7 2347.8L2123.6 2413.4L2265.5 2468M1414.1 2226.6L1556 2263.7L1697.9 2324.3L1839.8 2388L1981.7 2456L2123.6 2489.8L2265.5 2492.7M1414.1 2218.2L1556 2258.8L1697.9 2312.3L1839.8 2394.8L1981.7 2466L2123.6 2481.2L2265.5 2495.3M1414.1 2210.1L1556 2254.1L1697.9 2310.4L1839.8 2378.3L1981.7 2465.7L2123.6 2481.4L2265.5 2492M1414.1 2241.1L1556 2283.9L1697.9 2347.7L1839.8 2419.6L1981.7 2484.2L2123.6 2504L2265.5 2504M1414.1 2185.7L1556 2208.5L1697.9 2240.2L1839.8 2297.5L1981.7 2370.2L2123.6 2421.5L2265.5 2469.1M1414.1 2221.7L1556 2258.1L1697.9 2291.2L1839.8 2367.5L1981.7 2431.4L2123.6 2463.6L2265.5 2492.7M1414.1 2160.5L1556 2194.8L1697.9 2231.7L1839.8 2308.6L1981.7 2369.4L2123.6 2442.9L2265.5 2482.2M1414.1 2221.5L1556 2252L1697.9 2295.6L1839.8 2355.4L1981.7 2408.5L2123.6 2459.3L2265.5 2493.2M1414.1 2196.2L1556 2235.2L1697.9 2291L1839.8 2342.1L1981.7 2413L2123.6 2463.6L2265.5 2490.1M1414.1 2176L1556 2230.7L1697.9 2277.8L1839.8 2354.5L1981.7 2441.4L2123.6 2477.6L2265.5 2495.8M1414.1 2206.3L1556 2233.2L1697.9 2270L1839.8 2333.6L1981.7 2390.8L2123.6 2434.9L2265.5 2476.5M1414.1 2149.1L1556 2177.5L1697.9 2202.6L1839.8 2260.1L1981.7 2322.9L2123.6 2407.8L2265.5 2468.2M1414.1 2179.5L1556 2214.6L1697.9 2253.4L1839.8 2324.8L1981.7 2404.1L2123.6 2457L2265.5 2486.3M1414.1 2151.4L1556 2179.2L1697.9 2202.6L1839.8 2276.6L1981.7 2322.9L2123.6 2424.2L2265.5 2479.4M1414.1 2164.9L1556 2200.1L1697.9 2244.3L1839.8 2322.2L1981.7 2406.4L2123.6 2461.1L2265.5 2487.5M1414.1 2204L1556 2244.4L1697.9 2283.1L1839.8 2376.4L1981.7 2443.5L2123.6 2471.6L2265.5 2488M1414.1 2144.3L1556 2172.8L1697.9 2203.3L1839.8 2287.6L1981.7 2361.6L2123.6 2433L2265.5 2473.6M1414.1 2195.4L1556 2226.2L1697.9 2283L1839.8 2349L1981.7 2409.5L2123.6 2462.3L2265.5 2489M1414.1 2198.3L1556 2237.1L1697.9 2273.9L1839.8 2346.1L1981.7 2424.5L2123.6 2475L2265.5 2491.8M1414.1 2158.6L1556 2193.5L1697.9 2230.2L1839.8 2299.4L1981.7 2366L2123.6 2423.6L2265.5 2475.2M1414.1 2168.6L1556 2197.6L1697.9 2243L1839.8 2300L1981.7 2366.2L2123.6 2439.4L2265.5 2482.1M1414.1 2156.2L1556 2179.7L1697.9 2204.1L1839.8 2257.1L1981.7 2322.9L2123.6 2406L2265.5 2467.3M1414.1 2246L1556 2286.3L1697.9 2347.7L1839.8 2419.6L1981.7 2484.2L2123.6 2504L2265.5 2502.1M1414.1 2170.1L1556 2209.7L1697.9 2252.4L1839.8 2332.6L1981.7 2406.3L2123.6 2468.4L2265.5 2489.4M1414.1 2194L1556 2233.9L1697.9 2282.9L1839.8 2330.5L1981.7 2399.5L2123.6 2457.7L2265.5 2486.8M1414.1 2157.5L1556 2173.5L1697.9 2202.6L1839.8 2261.8L1981.7 2335.7L2123.6 2415.1L2265.5 2469.2M1414.1 2158.4L1556 2193.7L1697.9 2229.6L1839.8 2313.1L1981.7 2364.9L2123.6 2425.4L2265.5 2475M1414.1 2179.5L1556 2196.6L1697.9 2233.5L1839.8 2296L1981.7 2334.7L2123.6 2418.9L2265.5 2470.4M1414.1 2205.3L1556 2241.5L1697.9 2293.4L1839.8 2337.8L1981.7 2386.4L2123.6 2446.7L2265.5 2475.2M1414.1 2179.8L1556 2206.8L1697.9 2254.1L1839.8 2295.1L1981.7 2368.3L2123.6 2440.8L2265.5 2476.7M1414.1 2165.7L1556 2205.2L1697.9 2246.3L1839.8 2302.3L1981.7 2394.3L2123.6 2448.6L2265.5 2485M1414.1 2144.3L1556 2172.8L1697.9 2202.6L1839.8 2257.1L1981.7 2322.9L2123.6 2415.5L2265.5 2474.1M1414.1 2164.1L1556 2197.2L1697.9 2231.6L1839.8 2298.5L1981.7 2357.5L2123.6 2416L2265.5 2470.7M1414.1 2240.3L1556 2280.8L1697.9 2345.1L1839.8 2419.6L1981.7 2476.9L2123.6 2491.4L2265.5 2499.3M1414.1 2191.1L1556 2227.2L1697.9 2268.2L1839.8 2331.6L1981.7 2395.9L2123.6 2457.6L2265.5 2490.1M1414.1 2233.6L1556 2276.2L1697.9 2347.7L1839.8 2419.6L1981.7 2484.2L2123.6 2495.2L2265.5 2497.8M1414.1 2158.6L1556 2191.2L1697.9 2226.1L1839.8 2295.7L1981.7 2349.8L2123.6 2425.7L2265.5 2474M1414.1 2190.3L1556 2225.7L1697.9 2267.4L1839.8 2315.2L1981.7 2378L2123.6 2429.2L2265.5 2479.5M1414.1 2160.3L1556 2203.2L1697.9 2242.1L1839.8 2279L1981.7 2342.2L2123.6 2410.8L2265.5 2474.4M1414.1 2240.2L1556 2279L1697.9 2327.2L1839.8 2403.3L1981.7 2455.8L2123.6 2493L2265.5 2499.8M1414.1 2240.3L1556 2282.7L1697.9 2347.7L1839.8 2419.6L1981.7 2484.2L2123.6 2492.6L2265.5 2504M1414.1 2227.1L1556 2250.7L1697.9 2289L1839.8 2356.1L1981.7 2405.3L2123.6 2457.9L2265.5 2487.6M1414.1 2205.7L1556 2230L1697.9 2294.4L1839.8 2380.4L1981.7 2435.5L2123.6 2472.1L2265.5 2490.1M1414.1 2163.3L1556 2197.6L1697.9 2241.4L1839.8 2308L1981.7 2373.9L2123.6 2437.8L2265.5 2480.8M1414.1 2148.5L1556 2182.1L1697.9 2230.6L1839.8 2291.9L1981.7 2379.2L2123.6 2448.2L2265.5 2486.8M1414.1 2211.1L1556 2277.1L1697.9 2322.2L1839.8 2388.8L1981.7 2461.9L2123.6 2496.9L2265.5 2500.1M1414.1 2205.6L1556 2245.2L1697.9 2307.7L1839.8 2395.4L1981.7 2464.6L2123.6 2486.7L2265.5 2501.6M1414.1 2207.4L1556 2248.7L1697.9 2288.2L1839.8 2377.5L1981.7 2471.9L2123.6 2496.6L2265.5 2500.8M1414.1 2246L1556 2286.9L1697.9 2344.7L1839.8 2419.6L1981.7 2476.9L2123.6 2500L2265.5 2504M1414.1 2210.3L1556 2242.3L1697.9 2301.5L1839.8 2383.8L1981.7 2442.1L2123.6 2480.8L2265.5 2496.3M1414.1 2222.6L1556 2258.6L1697.9 2316.8L1839.8 2369.8L1981.7 2450.3L2123.6 2485.3L2265.5 2496.8M1414.1 2170.9L1556 2197.3L1697.9 2237.3L1839.8 2311.9L1981.7 2360.1L2123.6 2429L2265.5 2476.3M1414.1 2198L1556 2239.8L1697.9 2300.3L1839.8 2353.3L1981.7 2431L2123.6 2456.1L2265.5 2485.4M1414.1 2239.5L1556 2283.4L1697.9 2347.7L1839.8 2419.6L1981.7 2484.2L2123.6 2504L2265.5 2504M1414.1 2192.5L1556 2229.6L1697.9 2259.9L1839.8 2295.9L1981.7 2341.1L2123.6 2419.1L2265.5 2474.4M1414.1 2144.3L1556 2172.8L1697.9 2209.4L1839.8 2261.3L1981.7 2330.4L2123.6 2406L2265.5 2467.3M1414.1 2209.9L1556 2231.4L1697.9 2274.8L1839.8 2327.7L1981.7 2385.8L2123.6 2438.2L2265.5 2476M1414.1 2182.8L1556 2210.4L1697.9 2285L1839.8 2349.7L1981.7 2420L2123.6 2459.3L2265.5 2486.2M1414.1 2177L1556 2210.6L1697.9 2253.6L1839.8 2312.9L1981.7 2375.1L2123.6 2442.6L2265.5 2479.4M1414.1 2158.4L1556 2185.9L1697.9 2205.2L1839.8 2259.8L1981.7 2322.9L2123.6 2408.4L2265.5 2470.5M1414.1 2199.8L1556 2231.7L1697.9 2273.1L1839.8 2333.5L1981.7 2393.5L2123.6 2447.3L2265.5 2479.1M1414.1 2209L1556 2248.3L1697.9 2289.3L1839.8 2341.8L1981.7 2398.3L2123.6 2451.4L2265.5 2486.7M1414.1 2151.2L1556 2189.7L1697.9 2250.3L1839.8 2287.1L1981.7 2352.5L2123.6 2437.5L2265.5 2476.7M1414.1 2176.3L1556 2202L1697.9 2239.5L1839.8 2290.2L1981.7 2339L2123.6 2418.9L2265.5 2467.3M1414.1 2236.1L1556 2265.8L1697.9 2328.2L1839.8 2402.1L1981.7 2457L2123.6 2494.1L2265.5 2504M1414.1 2243.7L1556 2286.9L1697.9 2338.2L1839.8 2419.6L1981.7 2476.1L2123.6 2504L2265.5 2503M1414.1 2208.3L1556 2246.2L1697.9 2301.8L1839.8 2369L1981.7 2437.3L2123.6 2470.5L2265.5 2493.7M1414.1 2206.7L1556 2249.5L1697.9 2307.4L1839.8 2390.1L1981.7 2453L2123.6 2485.8L2265.5 2496.7M1414.1 2200.9L1556 2225.2L1697.9 2258.1L1839.8 2323.2L1981.7 2390.6L2123.6 2447.1L2265.5 2480.2M1414.1 2163.2L1556 2193.2L1697.9 2230.3L1839.8 2285.9L1981.7 2331.8L2123.6 2417.2L2265.5 2470.1M1414.1 2246L1556 2286.9L1697.9 2347.7L1839.8 2403.4L1981.7 2450.1L2123.6 2478.5L2265.5 2494.9M1414.1 2184.3L1556 2231L1697.9 2287.7L1839.8 2356.8L1981.7 2445.7L2123.6 2487.6L2265.5 2493.7M1414.1 2156.2L1556 2193.1L1697.9 2222.5L1839.8 2273.6L1981.7 2340.3L2123.6 2419.1L2265.5 2478.6M1414.1 2178.8L1556 2218.1L1697.9 2265.8L1839.8 2336.2L1981.7 2382.4L2123.6 2435.5L2265.5 2481.9M1414.1 2213L1556 2252.1L1697.9 2308.5L1839.8 2374.1L1981.7 2419.4L2123.6 2470.2L2265.5 2492.4M1414.1 2233L1556 2274.1L1697.9 2342.6L1839.8 2413.3L1981.7 2475.4L2123.6 2487L2265.5 2498.8M1414.1 2226.7L1556 2250L1697.9 2300.6L1839.8 2362.9L1981.7 2422.9L2123.6 2464.3L2265.5 2490.9M1414.1 2241.9L1556 2286.7L1697.9 2345.7L1839.8 2419.6L1981.7 2484.2L2123.6 2504L2265.5 2504M1414.1 2192.1L1556 2211.8L1697.9 2256.2L1839.8 2322L1981.7 2399.2L2123.6 2450.2L2265.5 2481.5M1414.1 2182.4L1556 2219.1L1697.9 2239.3L1839.8 2293.2L1981.7 2365.6L2123.6 2431.9L2265.5 2474.5M1414.1 2155.6L1556 2185.2L1697.9 2221.8L1839.8 2273.5L1981.7 2322.9L2123.6 2406L2265.5 2468.4M1414.1 2236.3L1556 2281.6L1697.9 2347.7L1839.8 2413.4L1981.7 2475.7L2123.6 2491.9L2265.5 2498.4M1414.1 2223.7L1556 2259.4L1697.9 2298.8L1839.8 2377.7L1981.7 2447.7L2123.6 2481.9L2265.5 2491.8M1414.1 2246L1556 2286.9L1697.9 2342.8L1839.8 2419.6L1981.7 2484.2L2123.6 2504L2265.5 2504M1414.1 2200.7L1556 2234.6L1697.9 2295.5L1839.8 2346.7L1981.7 2400.5L2123.6 2459.6L2265.5 2488.5M1414.1 2212.3L1556 2253.7L1697.9 2301.8L1839.8 2363.5L1981.7 2414.5L2123.6 2461.4L2265.5 2489.1M1414.1 2168.8L1556 2205.2L1697.9 2245.3L1839.8 2323.6L1981.7 2373.2L2123.6 2441.7L2265.5 2478.2M1414.1 2235.9L1556 2268.3L1697.9 2332.8L1839.8 2401.1L1981.7 2474.5L2123.6 2499.4L2265.5 2504M1414.1 2164.2L1556 2193.5L1697.9 2218.6L1839.8 2283.1L1981.7 2327.8L2123.6 2409.6L2265.5 2469.1M1414.1 2246L1556 2286.9L1697.9 2345.4L1839.8 2419.6L1981.7 2484.2L2123.6 2489.7L2265.5 2499.4M1414.1 2155.3L1556 2194.2L1697.9 2223.5L1839.8 2267.4L1981.7 2323.8L2123.6 2411.5L2265.5 2472.2M1414.1 2150.5L1556 2172.8L1697.9 2206.3L1839.8 2263.9L1981.7 2326.2L2123.6 2406L2265.5 2467.3M1414.1 2228L1556 2286.9L1697.9 2347.7L1839.8 2417.4L1981.7 2484.2L2123.6 2489.1L2265.5 2500.4M1414.1 2229L1556 2258L1697.9 2322.6L1839.8 2393.1L1981.7 2439.2L2123.6 2475.8L2265.5 2491.1M1414.1 2144.3L1556 2172.8L1697.9 2203.4L1839.8 2278.7L1981.7 2352.6L2123.6 2425.7L2265.5 2475.6M1414.1 2227.2L1556 2257.6L1697.9 2313.8L1839.8 2363.9L1981.7 2442.4L2123.6 2476.1L2265.5 2489M1414.1 2203L1556 2234.1L1697.9 2281.3L1839.8 2351.2L1981.7 2425L2123.6 2467.7L2265.5 2490.7M1414.1 2210.5L1556 2244.5L1697.9 2283.4L1839.8 2354.6L1981.7 2400.4L2123.6 2458.3L2265.5 2488.8M1414.1 2224.7L1556 2276.2L1697.9 2346.7L1839.8 2419.6L1981.7 2484.2L2123.6 2493.5L2265.5 2500.7M1414.1 2172.5L1556 2200.9L1697.9 2237.5L1839.8 2292.7L1981.7 2348.5L2123.6 2410.6L2265.5 2471.4M1414.1 2201.9L1556 2235.2L1697.9 2287.9L1839.8 2345.1L1981.7 2402.7L2123.6 2451.7L2265.5 2486.4M1414.1 2209.2L1556 2258.1L1697.9 2302.3L1839.8 2370L1981.7 2453.3L2123.6 2490.1L2265.5 2498.7M1414.1 2226.9L1556 2272.1L1697.9 2339.8L1839.8 2419.6L1981.7 2484.2L2123.6 2504L2265.5 2502.3M1414.1 2233.1L1556 2274.1L1697.9 2330.9L1839.8 2401.9L1981.7 2468L2123.6 2482.6L2265.5 2497.8M1414.1 2215.5L1556 2247.1L1697.9 2307.3L1839.8 2357.2L1981.7 2433.2L2123.6 2476.9L2265.5 2493.5M1414.1 2157.2L1556 2179.9L1697.9 2202.6L1839.8 2257.2L1981.7 2322.9L2123.6 2406L2265.5 2467.3M1414.1 2200L1556 2237.1L1697.9 2280.1L1839.8 2346.3L1981.7 2414.8L2123.6 2463.1L2265.5 2486.1M1414.1 2186.5L1556 2220.9L1697.9 2250.8L1839.8 2324.6L1981.7 2402.4L2123.6 2449.6L2265.5 2479.5M1414.1 2165.9L1556 2187.5L1697.9 2215.7L1839.8 2279.9L1981.7 2328.5L2123.6 2406L2265.5 2468.8M1414.1 2174.8L1556 2201.2L1697.9 2223.8L1839.8 2274.5L1981.7 2322.9L2123.6 2408.4L2265.5 2470.5M1414.1 2245.8L1556 2286.9L1697.9 2347.7L1839.8 2410.2L1981.7 2460.9L2123.6 2478.3L2265.5 2495.7M1414.1 2241.7L1556 2281.9L1697.9 2346.6L1839.8 2413.3L1981.7 2472.5L2123.6 2494.7L2265.5 2503M1414.1 2181.6L1556 2235.5L1697.9 2285.2L1839.8 2337.4L1981.7 2404.6L2123.6 2468.4L2265.5 2492.1M1414.1 2237.6L1556 2280.5L1697.9 2347.7L1839.8 2419.6L1981.7 2484.2L2123.6 2495.4L2265.5 2500.7M1414.1 2246L1556 2286.9L1697.9 2342L1839.8 2396.5L1981.7 2449.1L2123.6 2490.2L2265.5 2491.9M1414.1 2244.3L1556 2286.9L1697.9 2347.7L1839.8 2419.6L1981.7 2484.2L2123.6 2504L2265.5 2504M1414.1 2227.3L1556 2273.8L1697.9 2346.1L1839.8 2414.3L1981.7 2482.4L2123.6 2500L2265.5 2504M1414.1 2246L1556 2286.9L1697.9 2347.7L1839.8 2419.6L1981.7 2483.9L2123.6 2504L2265.5 2502.8M1414.1 2147L1556 2181.7L1697.9 2225.6L1839.8 2274.7L1981.7 2353.1L2123.6 2417.2L2265.5 2477M1414.1 2222.2L1556 2272.9L1697.9 2322.3L1839.8 2399.5L1981.7 2473.3L2123.6 2497.1L2265.5 2499.2M1414.1 2180.7L1556 2218.4L1697.9 2254.6L1839.8 2327.2L1981.7 2406.1L2123.6 2464.5L2265.5 2481.2M1414.1 2181.6L1556 2218.6L1697.9 2256.6L1839.8 2338L1981.7 2407.4L2123.6 2451.7L2265.5 2484.1M1414.1 2202.3L1556 2240.2L1697.9 2274.6L1839.8 2328.8L1981.7 2392.7L2123.6 2433.3L2265.5 2478.8M1414.1 2193.5L1556 2228.6L1697.9 2278.5L1839.8 2335.7L1981.7 2382.8L2123.6 2453.6L2265.5 2484.7M1414.1 2151.3L1556 2186.3L1697.9 2204.3L1839.8 2261.3L1981.7 2330.9L2123.6 2407.4L2265.5 2467.3M1414.1 2167.6L1556 2186.5L1697.9 2215L1839.8 2259.5L1981.7 2333.3L2123.6 2410.1L2265.5 2469.9M1414.1 2222.9L1556 2250.3L1697.9 2302.4L1839.8 2378.5L1981.7 2433.2L2123.6 2473.4L2265.5 2496.2M1414.1 2172.4L1556 2192.1L1697.9 2227.1L1839.8 2275.3L1981.7 2333.7L2123.6 2406L2265.5 2467.3M1414.1 2187.8L1556 2231.7L1697.9 2276.4L1839.8 2353L1981.7 2431L2123.6 2470.9L2265.5 2496.2M1414.1 2224.5L1556 2263.8L1697.9 2311.3L1839.8 2392.3L1981.7 2458.8L2123.6 2504L2265.5 2504M1414.1 2218.1L1556 2240.7L1697.9 2311.1L1839.8 2385.6L1981.7 2461.1L2123.6 2479.9L2265.5 2493.2M1414.1 2173L1556 2196.4L1697.9 2241.1L1839.8 2290.4L1981.7 2350.8L2123.6 2418.5L2265.5 2476.8M1414.1 2236.6L1556 2274.7L1697.9 2341.6L1839.8 2398.2L1981.7 2447.3L2123.6 2494.3L2265.5 2496.5M1414.1 2145.6L1556 2173.6L1697.9 2207.9L1839.8 2266.8L1981.7 2338.8L2123.6 2406L2265.5 2467.3M1414.1 2157.9L1556 2192.6L1697.9 2222.9L1839.8 2289.7L1981.7 2351.8L2123.6 2430.6L2265.5 2478.8M1414.1 2161.5L1556 2191.1L1697.9 2227.1L1839.8 2257.1L1981.7 2324.6L2123.6 2425.7L2265.5 2473.2M1414.1 2189.7L1556 2215.4L1697.9 2248.2L1839.8 2313.2L1981.7 2384.9L2123.6 2444L2265.5 2478.9M1414.1 2201.2L1556 2234.7L1697.9 2277.1L1839.8 2322.3L1981.7 2390.8L2123.6 2442.7L2265.5 2480.9M1414.1 2171.5L1556 2203.2L1697.9 2243.3L1839.8 2288.6L1981.7 2360.6L2123.6 2425.7L2265.5 2473.9M1414.1 2189.4L1556 2227.9L1697.9 2278.5L1839.8 2324.1L1981.7 2394.4L2123.6 2445.6L2265.5 2481.7M1414.1 2183.3L1556 2215.3L1697.9 2250L1839.8 2292.7L1981.7 2362.7L2123.6 2440.2L2265.5 2480.6M1414.1 2174.3L1556 2210.3L1697.9 2252.3L1839.8 2292.2L1981.7 2354.4L2123.6 2435.4L2265.5 2477.5M1414.1 2198.9L1556 2242.4L1697.9 2307.9L1839.8 2370.7L1981.7 2447.7L2123.6 2486L2265.5 2494.9M1414.1 2183.6L1556 2217.2L1697.9 2266.8L1839.8 2330L1981.7 2399.4L2123.6 2447.2L2265.5 2484.1M1414.1 2166.2L1556 2216.7L1697.9 2261.5L1839.8 2315.3L1981.7 2359.1L2123.6 2426.2L2265.5 2471.8M1414.1 2150.7L1556 2177.3L1697.9 2202.6L1839.8 2264.4L1981.7 2326.4L2123.6 2407.6L2265.5 2469.3M1414.1 2167.3L1556 2212.3L1697.9 2257.6L1839.8 2314.6L1981.7 2364.8L2123.6 2440.2L2265.5 2484M1414.1 2206.8L1556 2245.6L1697.9 2296.9L1839.8 2365.5L1981.7 2452.9L2123.6 2478.2L2265.5 2492.2M1414.1 2232.8L1556 2281.3L1697.9 2347.7L1839.8 2399.4L1981.7 2454.2L2123.6 2494.3L2265.5 2495.3M1414.1 2153.5L1556 2190.7L1697.9 2234.2L1839.8 2295.5L1981.7 2327.8L2123.6 2417.1L2265.5 2473.6M1414.1 2175.6L1556 2215.1L1697.9 2228L1839.8 2289.1L1981.7 2362.5L2123.6 2431.9L2265.5 2475.6M1414.1 2178.8L1556 2209.3L1697.9 2254L1839.8 2298L1981.7 2365.7L2123.6 2436.2L2265.5 2476.6M1414.1 2149.2L1556 2182.4L1697.9 2216.8L1839.8 2282.4L1981.7 2352.5L2123.6 2418.7L2265.5 2470.3M1414.1 2197L1556 2220.5L1697.9 2275.2L1839.8 2321.2L1981.7 2402.4L2123.6 2443.9L2265.5 2482.9M1414.1 2151.8L1556 2175.9L1697.9 2220.4L1839.8 2258.5L1981.7 2322.9L2123.6 2406L2265.5 2467.3M1414.1 2166.6L1556 2185.7L1697.9 2202.6L1839.8 2265.5L1981.7 2327.9L2123.6 2422L2265.5 2472.6M1414.1 2244L1556 2277.1L1697.9 2336.3L1839.8 2393.9L1981.7 2472L2123.6 2502.5L2265.5 2502.8M1414.1 2193.5L1556 2229.2L1697.9 2296.3L1839.8 2358.8L1981.7 2437.9L2123.6 2471.4L2265.5 2494.2M1414.1 2173.8L1556 2197.1L1697.9 2251.4L1839.8 2297L1981.7 2364.9L2123.6 2446.6L2265.5 2481.2M1414.1 2179.1L1556 2213.4L1697.9 2246.6L1839.8 2312.7L1981.7 2372.2L2123.6 2444.3L2265.5 2483.4M1414.1 2205.9L1556 2242.3L1697.9 2294.5L1839.8 2355.5L1981.7 2414.5L2123.6 2468.6L2265.5 2482.7M1414.1 2188.1L1556 2222.4L1697.9 2261.4L1839.8 2323.9L1981.7 2396.8L2123.6 2451.4L2265.5 2482.9M1414.1 2207.9L1556 2243.1L1697.9 2290.6L1839.8 2369.9L1981.7 2406.2L2123.6 2449.6L2265.5 2479.1M1414.1 2157.2L1556 2172.8L1697.9 2220L1839.8 2288.1L1981.7 2350.1L2123.6 2427.1L2265.5 2473.2M1414.1 2171.8L1556 2188.8L1697.9 2239L1839.8 2291L1981.7 2346.9L2123.6 2406.1L2265.5 2467.3M1414.1 2154.2L1556 2186.4L1697.9 2217.5L1839.8 2266.8L1981.7 2322.9L2123.6 2408.7L2265.5 2467.3M1414.1 2202.8L1556 2230.2L1697.9 2291.4L1839.8 2350.2L1981.7 2401.2L2123.6 2456L2265.5 2484.6M1414.1 2173.4L1556 2202.1L1697.9 2248.5L1839.8 2301.2L1981.7 2360.2L2123.6 2437.7L2265.5 2479.7M1414.1 2176.8L1556 2200L1697.9 2244.5L1839.8 2302.8L1981.7 2393.3L2123.6 2449.9L2265.5 2487.4M1414.1 2233.6L1556 2265.1L1697.9 2302.1L1839.8 2390.2L1981.7 2454.1L2123.6 2487.1L2265.5 2499.3M1414.1 2210.8L1556 2242.9L1697.9 2285.1L1839.8 2336.6L1981.7 2402L2123.6 2446.5L2265.5 2480.5M1414.1 2189L1556 2217.1L1697.9 2248.1L1839.8 2315.4L1981.7 2404.3L2123.6 2464.1L2265.5 2487.6M1414.1 2159.6L1556 2178.2L1697.9 2202.6L1839.8 2257.1L1981.7 2335.4L2123.6 2416.6L2265.5 2469.9M1414.1 2203.3L1556 2235.1L1697.9 2264.2L1839.8 2309.5L1981.7 2371.4L2123.6 2424.4L2265.5 2472.7M1414.1 2157.6L1556 2193.8L1697.9 2236.1L1839.8 2290L1981.7 2368.3L2123.6 2446.3L2265.5 2482.7M1414.1 2207.6L1556 2252.2L1697.9 2307.3L1839.8 2367.6L1981.7 2419.2L2123.6 2461.3L2265.5 2483M1414.1 2165.6L1556 2186.4L1697.9 2225.9L1839.8 2268.2L1981.7 2330.6L2123.6 2425.2L2265.5 2479.7M1414.1 2179.1L1556 2201.7L1697.9 2232.4L1839.8 2271.7L1981.7 2327.4L2123.6 2407.8L2265.5 2470.6M1414.1 2148.5L1556 2172.8L1697.9 2210.5L1839.8 2257.1L1981.7 2345.2L2123.6 2415.2L2265.5 2470.6M1414.1 2179.3L1556 2194.9L1697.9 2243L1839.8 2312.8L1981.7 2383.8L2123.6 2448L2265.5 2488.5M1414.1 2167.9L1556 2198.3L1697.9 2252.9L1839.8 2310L1981.7 2375.6L2123.6 2427.8L2265.5 2477.5M1414.1 2183.5L1556 2213.9L1697.9 2242.4L1839.8 2292.7L1981.7 2368.8L2123.6 2433.4L2265.5 2480.7M1414.1 2196.7L1556 2241L1697.9 2305.5L1839.8 2390.4L1981.7 2459.8L2123.6 2486.5L2265.5 2498.5M1414.1 2181.9L1556 2210.9L1697.9 2237.3L1839.8 2291.8L1981.7 2379.4L2123.6 2434.8L2265.5 2479.7M1414.1 2210.5L1556 2248.1L1697.9 2297.5L1839.8 2376.8L1981.7 2450.4L2123.6 2485.2L2265.5 2496.7M1414.1 2179.3L1556 2205.2L1697.9 2261.5L1839.8 2321.6L1981.7 2389.9L2123.6 2469.3L2265.5 2493.9M1414.1 2152.9L1556 2186.3L1697.9 2217.3L1839.8 2277.5L1981.7 2349.4L2123.6 2417.2L2265.5 2467.3M1414.1 2206L1556 2239.1L1697.9 2297.2L1839.8 2354.3L1981.7 2421.7L2123.6 2453.2L2265.5 2488.4M1414.1 2203.3L1556 2236.7L1697.9 2293.1L1839.8 2375.8L1981.7 2453.4L2123.6 2491.5L2265.5 2499.4M1414.1 2235.2L1556 2278L1697.9 2340.2L1839.8 2417.2L1981.7 2482.8L2123.6 2491.3L2265.5 2502.1M1414.1 2244.2L1556 2282L1697.9 2347.7L1839.8 2419.6L1981.7 2477.1L2123.6 2495.6L2265.5 2498.5M1414.1 2237.1L1556 2265.8L1697.9 2324.8L1839.8 2389L1981.7 2428.8L2123.6 2461.3L2265.5 2490.3M1414.1 2233.9L1556 2265L1697.9 2320.8L1839.8 2406L1981.7 2481.3L2123.6 2504L2265.5 2503.5M1414.1 2177.3L1556 2225L1697.9 2274.6L1839.8 2349.4L1981.7 2423.4L2123.6 2463.5L2265.5 2489.2M1414.1 2176.6L1556 2215.8L1697.9 2270.2L1839.8 2340.1L1981.7 2383.7L2123.6 2437.7L2265.5 2481.1M1414.1 2213.5L1556 2242.9L1697.9 2288.3L1839.8 2382.6L1981.7 2445.9L2123.6 2472.5L2265.5 2496.4M1414.1 2198.6L1556 2230.2L1697.9 2292.4L1839.8 2347.3L1981.7 2416.5L2123.6 2452.8L2265.5 2482.7M1414.1 2162.2L1556 2198.8L1697.9 2221.1L1839.8 2266.1L1981.7 2327.7L2123.6 2406L2265.5 2467.7M1414.1 2192.2L1556 2229.8L1697.9 2283.7L1839.8 2345.3L1981.7 2384.9L2123.6 2457.7L2265.5 2485.1M1414.1 2229.7L1556 2265.8L1697.9 2296.7L1839.8 2380.1L1981.7 2443.5L2123.6 2488.4L2265.5 2495.2M1414.1 2189.5L1556 2225.3L1697.9 2259.5L1839.8 2308.2L1981.7 2385.8L2123.6 2455.9L2265.5 2486.5M1414.1 2151L1556 2172.8L1697.9 2202.6L1839.8 2262L1981.7 2323.1L2123.6 2415.7L2265.5 2473.4M1414.1 2245.1L1556 2271.3L1697.9 2316.7L1839.8 2381L1981.7 2449.9L2123.6 2474.9L2265.5 2489.6M1414.1 2189.2L1556 2219.7L1697.9 2264.5L1839.8 2331.8L1981.7 2397.2L2123.6 2443.9L2265.5 2482.1M1414.1 2224L1556 2268.9L1697.9 2336L1839.8 2398.4L1981.7 2462.3L2123.6 2494.1L2265.5 2501.2M1414.1 2159.9L1556 2189.9L1697.9 2222.6L1839.8 2273.6L1981.7 2349L2123.6 2433.2L2265.5 2471.8M1414.1 2178.6L1556 2220L1697.9 2260.8L1839.8 2304.9L1981.7 2350.5L2123.6 2419.7L2265.5 2469.3M1414.1 2225L1556 2273.5L1697.9 2347L1839.8 2419.6L1981.7 2470.9L2123.6 2498.3L2265.5 2496.5M1414.1 2214.7L1556 2259.5L1697.9 2314.3L1839.8 2372.4L1981.7 2447.1L2123.6 2474.8L2265.5 2489.8M1414.1 2159.4L1556 2186.7L1697.9 2233.1L1839.8 2272.6L1981.7 2345.1L2123.6 2423.4L2265.5 2473.5M1414.1 2167.4L1556 2195.9L1697.9 2211.1L1839.8 2285L1981.7 2350L2123.6 2419.9L2265.5 2472.9M1414.1 2160.6L1556 2187.8L1697.9 2229.7L1839.8 2310.4L1981.7 2391.6L2123.6 2446.3L2265.5 2481M1414.1 2227.4L1556 2265.6L1697.9 2318L1839.8 2402.4L1981.7 2476.3L2123.6 2493.4L2265.5 2499.3M1414.1 2152.4L1556 2203.1L1697.9 2234.4L1839.8 2284.1L1981.7 2348.2L2123.6 2419.3L2265.5 2475.6M1414.1 2162.7L1556 2191.6L1697.9 2218.2L1839.8 2257.1L1981.7 2322.9L2123.6 2409L2265.5 2468.1M1414.1 2182.2L1556 2215.7L1697.9 2257L1839.8 2313.3L1981.7 2392.4L2123.6 2454.6L2265.5 2484.1M1414.1 2228.4L1556 2268.2L1697.9 2327.4L1839.8 2381.3L1981.7 2449.3L2123.6 2482.1L2265.5 2496.6M1414.1 2200.8L1556 2243L1697.9 2264.5L1839.8 2334.8L1981.7 2394.3L2123.6 2448.8L2265.5 2479.6M1414.1 2208.8L1556 2264.6L1697.9 2305.4L1839.8 2364.3L1981.7 2458.2L2123.6 2487.2L2265.5 2500.2M1414.1 2246L1556 2285.2L1697.9 2328.3L1839.8 2395.1L1981.7 2455.7L2123.6 2484.9L2265.5 2497.6M1414.1 2193.1L1556 2214.9L1697.9 2248.9L1839.8 2308.8L1981.7 2366.2L2123.6 2425.9L2265.5 2474.4M1414.1 2181.7L1556 2226L1697.9 2264.1L1839.8 2337.3L1981.7 2414.3L2123.6 2463.1L2265.5 2491.1M1414.1 2192.1L1556 2228.7L1697.9 2270.5L1839.8 2318.8L1981.7 2384.1L2123.6 2445.9L2265.5 2481.3M1414.1 2216.7L1556 2255.8L1697.9 2320.1L1839.8 2373.2L1981.7 2451.5L2123.6 2488.9L2265.5 2498.3M1414.1 2211.1L1556 2253.9L1697.9 2309.9L1839.8 2396.4L1981.7 2463.2L2123.6 2489.2L2265.5 2497.6M1414.1 2182.5L1556 2219.1L1697.9 2248.9L1839.8 2297.2L1981.7 2367.7L2123.6 2439.3L2265.5 2478.6M1414.1 2190.3L1556 2222.2L1697.9 2253.7L1839.8 2299L1981.7 2359.9L2123.6 2422.3L2265.5 2476.9M1414.1 2196.5L1556 2233.5L1697.9 2280.6L1839.8 2341.5L1981.7 2421.2L2123.6 2456.5L2265.5 2484.8M1414.1 2172.4L1556 2212.8L1697.9 2271.7L1839.8 2347.9L1981.7 2411.4L2123.6 2457.8L2265.5 2484M1414.1 2191L1556 2232.6L1697.9 2273.2L1839.8 2324.3L1981.7 2402.8L2123.6 2457.6L2265.5 2485.3M1414.1 2198.7L1556 2248L1697.9 2312.7L1839.8 2374.8L1981.7 2432.4L2123.6 2471.2L2265.5 2489.8M1414.1 2224.3L1556 2251.5L1697.9 2324.6L1839.8 2411.6L1981.7 2484.2L2123.6 2502.6L2265.5 2504M1414.1 2162.2L1556 2180L1697.9 2232L1839.8 2284.5L1981.7 2349.6L2123.6 2412.6L2265.5 2470.5M1414.1 2226.9L1556 2258.1L1697.9 2294.1L1839.8 2359L1981.7 2451.2L2123.6 2489.3L2265.5 2502.1M1414.1 2213L1556 2244.7L1697.9 2289L1839.8 2349.3L1981.7 2400.8L2123.6 2461.5L2265.5 2484.9M1414.1 2159.1L1556 2181.5L1697.9 2207.2L1839.8 2257.1L1981.7 2322.9L2123.6 2407.8L2265.5 2467.3M1414.1 2225.8L1556 2266.6L1697.9 2331.3L1839.8 2419.6L1981.7 2478.9L2123.6 2504L2265.5 2504M1414.1 2211.4L1556 2243.4L1697.9 2295.6L1839.8 2340.7L1981.7 2407.2L2123.6 2455.3L2265.5 2483.8M1414.1 2223.7L1556 2278.9L1697.9 2347.7L1839.8 2419.6L1981.7 2484.2L2123.6 2499L2265.5 2503.1M1414.1 2155.6L1556 2195L1697.9 2218.7L1839.8 2270.3L1981.7 2322.9L2123.6 2406L2265.5 2467.3M1414.1 2224.6L1556 2256.9L1697.9 2305.9L1839.8 2360.8L1981.7 2434.3L2123.6 2463.8L2265.5 2490M1414.1 2239.4L1556 2279L1697.9 2312.6L1839.8 2365.9L1981.7 2439.8L2123.6 2468.2L2265.5 2490.4M1414.1 2144.3L1556 2172.8L1697.9 2202.6L1839.8 2257.1L1981.7 2322.9L2123.6 2406L2265.5 2468.7M1414.1 2246L1556 2277.1L1697.9 2317.7L1839.8 2370.2L1981.7 2431.4L2123.6 2479.5L2265.5 2490M1414.1 2224.9L1556 2247.8L1697.9 2288.3L1839.8 2341.8L1981.7 2377.2L2123.6 2439.6L2265.5 2476.7M1414.1 2247.5L1556 2288.4L1697.9 2350.9L1839.8 2434.8L1981.7 2487.6L2123.6 2504L2265.5 2504M1414.1 2139.3L1556 2171L1697.9 2196.4L1839.8 2226.1L1981.7 2285.7L2123.6 2397.3L2265.5 2464.3M1414.1 2133.8L1556 2172.8L1697.9 2195.4L1839.8 2222.7L1981.7 2281.2L2123.6 2396.6L2265.5 2464.3M1414.1 2257.1L1556 2296.6L1697.9 2347.7L1839.8 2446.4L1981.7 2487.6L2123.6 2504L2265.5 2504M1414.1 2255.9L1556 2293.1L1697.9 2348.9L1839.8 2442L1981.7 2486.6L2123.6 2504L2265.5 2504" stroke="#b3b3b3" stroke-width="2.2" fill="none" stroke-linejoin="round"/>
<path d="M1414.1 2247.4h0M1556 2288.4h0M1697.9 2350.9h0M1839.8 2434.8h0M1981.7 2487.3h0M2123.6 2504h0M2265.5 2504h0M1414.1 2247.2h0M1556 2287.8h0M1697.9 2349.9h0M1839.8 2429.4h0M1981.7 2485.6h0M2123.6 2504h0M2265.5 2504h0M1414.1 2246.9h0M1556 2288.1h0M1697.9 2350.4h0M1839.8 2430.1h0M1981.7 2486.5h0M2123.6 2504h0M2265.5 2504h0M1414.1 2246.5h0M1556 2287.4h0M1697.9 2349.2h0M1839.8 2426h0M1981.7 2485.8h0M2123.6 2504h0M2265.5 2504h0M1414.1 2246.2h0M1556 2287.3h0M1697.9 2348.3h0M1839.8 2422.3h0M1981.7 2484.5h0M2123.6 2504h0M2265.5 2504h0M1414.1 2246h0M1556 2286.7h0M1697.9 2347.7h0M1839.8 2415.7h0M1981.7 2484.2h0M2123.6 2501h0M1414.1 2139.3h0M1556 2171.2h0M1697.9 2196.9h0M1839.8 2227.7h0M1981.7 2285.7h0M2123.6 2397.8h0M2265.5 2464.3h0M1414.1 2141.1h0M1556 2171.8h0M1697.9 2198.9h0M1839.8 2241.8h0M1981.7 2308.4h0M2123.6 2402h0M2265.5 2465.8h0M1414.1 2140.6h0M1556 2171.6h0M1697.9 2198.5h0M1839.8 2237.9h0M1981.7 2298.6h0M2123.6 2399.3h0M2265.5 2465.1h0M1414.1 2141.2h0M1556 2171.9h0M1697.9 2199.3h0M1839.8 2238.7h0M1981.7 2303.5h0M2123.6 2400.9h0M2265.5 2465.7h0M1414.1 2141.3h0M1556 2171.8h0M1697.9 2200.1h0M1839.8 2245.9h0M1981.7 2313.9h0M2123.6 2404.9h0M2265.5 2467h0M1414.1 2142.7h0M1556 2172.3h0M1697.9 2201.7h0M1839.8 2254.7h0M1981.7 2323.1h0M2123.6 2406h0M2265.5 2468.7h0M1414.1 2143.4h0M1556 2172.5h0M1697.9 2201.1h0M1839.8 2248.6h0M1981.7 2313.6h0M2123.6 2403.7h0M2265.5 2466.4h0M1414.1 2144.2h0M1556 2172.5h0M1697.9 2202h0M1839.8 2255.1h0M1981.7 2323.3h0M2123.6 2406h0M2265.5 2470.1h0M1697.9 2204.4h0M2265.5 2471.1h0M1839.8 2257.1h0M1414.1 2148.5h0M1556 2177.3h0M1981.7 2326h0M2265.5 2468.4h0M1414.1 2147.8h0M1981.7 2327h0M2123.6 2406h0M2265.5 2467.3h0M1839.8 2257.4h0M1981.7 2322.9h0M2123.6 2409.6h0M2265.5 2467.3h0M1981.7 2480.9h0M2265.5 2467.3h0M2123.6 2409.3h0M2123.6 2499.2h0M2265.5 2502.9h0M1414.1 2243.6h0M1556 2283.6h0M1697.9 2344.8h0M1839.8 2419.6h0M1981.7 2484.2h0M1414.1 2144.3h0M1556 2174.7h0M1839.8 2257.1h0M1981.7 2322.9h0M2265.5 2468.4h0M1839.8 2257.1h0M2123.6 2410.7h0M2265.5 2467.3h0M1414.1 2241.8h0M1556 2282h0M2265.5 2500.8h0M2265.5 2504h0M2265.5 2468h0M1414.1 2241.1h0M1556 2283.9h0M1697.9 2347.7h0M1839.8 2419.6h0M1981.7 2484.2h0M2123.6 2504h0M2265.5 2504h0M2265.5 2469.1h0M1414.1 2149.1h0M1556 2177.5h0M1697.9 2202.6h0M1839.8 2260.1h0M1981.7 2322.9h0M2123.6 2407.8h0M2265.5 2468.2h0M1697.9 2202.6h0M1981.7 2322.9h0M1414.1 2144.3h0M1556 2172.8h0M1697.9 2203.3h0M1697.9 2204.1h0M1839.8 2257.1h0M1981.7 2322.9h0M2123.6 2406h0M2265.5 2467.3h0M1414.1 2246h0M1556 2286.3h0M1697.9 2347.7h0M1839.8 2419.6h0M1981.7 2484.2h0M2123.6 2504h0M2265.5 2502.1h0M1556 2173.5h0M1697.9 2202.6h0M1839.8 2261.8h0M2265.5 2469.2h0M2265.5 2470.4h0M1414.1 2144.3h0M1556 2172.8h0M1697.9 2202.6h0M1839.8 2257.1h0M1981.7 2322.9h0M2265.5 2470.7h0M1697.9 2345.1h0M1839.8 2419.6h0M2265.5 2499.3h0M1697.9 2347.7h0M1839.8 2419.6h0M1981.7 2484.2h0M2123.6 2410.8h0M2265.5 2499.8h0M1556 2282.7h0M1697.9 2347.7h0M1839.8 2419.6h0M1981.7 2484.2h0M2265.5 2504h0M1414.1 2148.5h0M2265.5 2500.1h0M2265.5 2501.6h0M2265.5 2500.8h0M1414.1 2246h0M1556 2286.9h0M1697.9 2344.7h0M1839.8 2419.6h0M2123.6 2500h0M2265.5 2504h0M1556 2283.4h0M1697.9 2347.7h0M1839.8 2419.6h0M1981.7 2484.2h0M2123.6 2504h0M2265.5 2504h0M1414.1 2144.3h0M1556 2172.8h0M1839.8 2261.3h0M2123.6 2406h0M2265.5 2467.3h0M1697.9 2205.2h0M1839.8 2259.8h0M1981.7 2322.9h0M2123.6 2408.4h0M2265.5 2470.5h0M2265.5 2467.3h0M2265.5 2504h0M1414.1 2243.7h0M1556 2286.9h0M1839.8 2419.6h0M2123.6 2504h0M2265.5 2503h0M2265.5 2470.1h0M1414.1 2246h0M1556 2286.9h0M1697.9 2347.7h0M1414.1 2241.9h0M1556 2286.7h0M1697.9 2345.7h0M1839.8 2419.6h0M1981.7 2484.2h0M2123.6 2504h0M2265.5 2504h0M1981.7 2322.9h0M2123.6 2406h0M2265.5 2468.4h0M1697.9 2347.7h0M1414.1 2246h0M1556 2286.9h0M1697.9 2342.8h0M1839.8 2419.6h0M1981.7 2484.2h0M2123.6 2504h0M2265.5 2504h0M2123.6 2499.4h0M2265.5 2504h0M1981.7 2327.8h0M2123.6 2409.6h0M2265.5 2469.1h0M1414.1 2246h0M1556 2286.9h0M1697.9 2345.4h0M1839.8 2419.6h0M1981.7 2484.2h0M2265.5 2499.4h0M1981.7 2323.8h0M2265.5 2472.2h0M1556 2172.8h0M1697.9 2206.3h0M1981.7 2326.2h0M2123.6 2406h0M2265.5 2467.3h0M1556 2286.9h0M1697.9 2347.7h0M1839.8 2417.4h0M1981.7 2484.2h0M2265.5 2500.4h0M1414.1 2144.3h0M1556 2172.8h0M1697.9 2203.4h0M1697.9 2346.7h0M1839.8 2419.6h0M1981.7 2484.2h0M2265.5 2500.7h0M2123.6 2410.6h0M2265.5 2471.4h0M1839.8 2419.6h0M1981.7 2484.2h0M2123.6 2504h0M2265.5 2502.3h0M1697.9 2202.6h0M1839.8 2257.2h0M1981.7 2322.9h0M2123.6 2406h0M2265.5 2467.3h0M2123.6 2406h0M2265.5 2468.8h0M1981.7 2322.9h0M2123.6 2408.4h0M2265.5 2470.5h0M1414.1 2245.8h0M1556 2286.9h0M1697.9 2347.7h0M1414.1 2241.7h0M1697.9 2346.6h0M2265.5 2503h0M1697.9 2347.7h0M1839.8 2419.6h0M1981.7 2484.2h0M2265.5 2500.7h0M1414.1 2246h0M1556 2286.9h0M1414.1 2244.3h0M1556 2286.9h0M1697.9 2347.7h0M1839.8 2419.6h0M1981.7 2484.2h0M2123.6 2504h0M2265.5 2504h0M1697.9 2346.1h0M1981.7 2482.4h0M2123.6 2500h0M2265.5 2504h0M1414.1 2246h0M1556 2286.9h0M1697.9 2347.7h0M1839.8 2419.6h0M1981.7 2483.9h0M2123.6 2504h0M2265.5 2502.8h0M1414.1 2147h0M2265.5 2499.2h0M1697.9 2204.3h0M1839.8 2261.3h0M2123.6 2407.4h0M2265.5 2467.3h0M1839.8 2259.5h0M2123.6 2410.1h0M2265.5 2469.9h0M2123.6 2406h0M2265.5 2467.3h0M2123.6 2504h0M2265.5 2504h0M1414.1 2145.6h0M1556 2173.6h0M2123.6 2406h0M2265.5 2467.3h0M1839.8 2257.1h0M1981.7 2324.6h0M2265.5 2471.8h0M1556 2177.3h0M1697.9 2202.6h0M1981.7 2326.4h0M2123.6 2407.6h0M2265.5 2469.3h0M1697.9 2347.7h0M1981.7 2327.8h0M1414.1 2149.2h0M2265.5 2470.3h0M1556 2175.9h0M1839.8 2258.5h0M1981.7 2322.9h0M2123.6 2406h0M2265.5 2467.3h0M1697.9 2202.6h0M1414.1 2244h0M2123.6 2502.5h0M2265.5 2502.8h0M1556 2172.8h0M2123.6 2406.1h0M2265.5 2467.3h0M1981.7 2322.9h0M2123.6 2408.7h0M2265.5 2467.3h0M2265.5 2499.3h0M1697.9 2202.6h0M1839.8 2257.1h0M2265.5 2469.9h0M1981.7 2327.4h0M2123.6 2407.8h0M2265.5 2470.6h0M1414.1 2148.5h0M1556 2172.8h0M1839.8 2257.1h0M2265.5 2470.6h0M2265.5 2467.3h0M2265.5 2499.4h0M1839.8 2417.2h0M1981.7 2482.8h0M2265.5 2502.1h0M1414.1 2244.2h0M1556 2282h0M1697.9 2347.7h0M1839.8 2419.6h0M1981.7 2481.3h0M2123.6 2504h0M2265.5 2503.5h0M1981.7 2327.7h0M2123.6 2406h0M2265.5 2467.7h0M1556 2172.8h0M1697.9 2202.6h0M1839.8 2262h0M1981.7 2323.1h0M1414.1 2245.1h0M2265.5 2501.2h0M2265.5 2471.8h0M2265.5 2469.3h0M1697.9 2347h0M1839.8 2419.6h0M2265.5 2499.3h0M1839.8 2257.1h0M1981.7 2322.9h0M2123.6 2409h0M2265.5 2468.1h0M2265.5 2500.2h0M1414.1 2246h0M1556 2285.2h0M1981.7 2484.2h0M2123.6 2502.6h0M2265.5 2504h0M2265.5 2470.5h0M2265.5 2502.1h0M1697.9 2207.2h0M1839.8 2257.1h0M1981.7 2322.9h0M2123.6 2407.8h0M2265.5 2467.3h0M1839.8 2419.6h0M2123.6 2504h0M2265.5 2504h0M1697.9 2347.7h0M1839.8 2419.6h0M1981.7 2484.2h0M2265.5 2503.1h0M1981.7 2322.9h0M2123.6 2406h0M2265.5 2467.3h0M1414.1 2144.3h0M1556 2172.8h0M1697.9 2202.6h0M1839.8 2257.1h0M1981.7 2322.9h0M2123.6 2406h0M2265.5 2468.7h0M1414.1 2246h0M1414.1 2247.5h0M1556 2288.4h0M1697.9 2350.9h0M1839.8 2434.8h0M1981.7 2487.6h0M2123.6 2504h0M2265.5 2504h0M1414.1 2139.3h0M1556 2171h0M1697.9 2196.4h0M1839.8 2226.1h0M1981.7 2285.7h0M2123.6 2397.3h0M2265.5 2464.3h0M1414.1 2133.8h0M1556 2172.8h0M1697.9 2195.4h0M1839.8 2222.7h0M1981.7 2281.2h0M2123.6 2396.6h0M2265.5 2464.3h0M1414.1 2257.1h0M1556 2296.6h0M1697.9 2347.7h0M1839.8 2446.4h0M1981.7 2487.6h0M2123.6 2504h0M2265.5 2504h0M1414.1 2255.9h0M1556 2293.1h0M1697.9 2348.9h0M1839.8 2442h0M1981.7 2486.6h0M2123.6 2504h0M2265.5 2504h0" stroke="#000" stroke-width="4.4" stroke-linecap="square" fill="none"/>
<line x1="1414.1" y1="2144.3" x2="1414.1" y2="2246" stroke="#000" stroke-width="4.8"/>
<line x1="1556" y1="2172.8" x2="1556" y2="2286.9" stroke="#000" stroke-width="4.8"/>
<line x1="1697.9" y1="2202.6" x2="1697.9" y2="2347.7" stroke="#000" stroke-width="4.8"/>
<line x1="1839.8" y1="2257.1" x2="1839.8" y2="2419.6" stroke="#000" stroke-width="4.8"/>
<line x1="1981.7" y1="2322.9" x2="1981.7" y2="2484.2" stroke="#000" stroke-width="4.8"/>
<line x1="2123.6" y1="2406" x2="2123.6" y2="2504" stroke="#000" stroke-width="4.8"/>
<line x1="2265.5" y1="2467.3" x2="2265.5" y2="2504" stroke="#000" stroke-width="4.8"/>
<text font-size="56" text-anchor="middle" transform="translate(1837 2028.1) scale(1 1.04)">3D-1M</text>
<line x1="1207.6" y1="84" x2="1207.6" y2="2527" stroke="#141414" stroke-width="3.8"/>
<text font-size="57.5" text-anchor="start" transform="translate(1169.5 1546.5) rotate(-90) scale(1 1.04)">RBD IgG (ABS<tspan font-size="36" dy="19">450</tspan><tspan dy="-19">)</tspan></text>
<text font-size="54" text-anchor="end" transform="translate(1447.9 2560.2) rotate(-45) scale(1 1.04)">200</text>
<text font-size="54" text-anchor="end" transform="translate(1589.8 2560.2) rotate(-45) scale(1 1.04)">800</text>
<text font-size="54" text-anchor="end" transform="translate(1731.7 2560.2) rotate(-45) scale(1 1.04)">3200</text>
<text font-size="54" text-anchor="end" transform="translate(1873.6 2560.2) rotate(-45) scale(1 1.04)">12800</text>
<text font-size="54" text-anchor="end" transform="translate(2015.5 2560.2) rotate(-45) scale(1 1.04)">51200</text>
<text font-size="54" text-anchor="end" transform="translate(2157.4 2560.2) rotate(-45) scale(1 1.04)">204800</text>
<text font-size="54" text-anchor="end" transform="translate(2299.3 2560.2) rotate(-45) scale(1 1.04)">819200</text>
<text font-size="52" text-anchor="middle" transform="translate(1835.7 2775) scale(1 1.04)">Dilution</text>
<text font-size="100" text-anchor="start" transform="translate(27 157.6) scale(1 1.04)">A</text>
<text font-size="100" text-anchor="start" transform="translate(20 1531.8) scale(1 1.04)">B</text>
<text font-size="98" text-anchor="start" transform="translate(1041 158.5) scale(1 1.04)">C</text>
<text font-size="98" text-anchor="start" transform="translate(1036.3 775.2) scale(1 1.04)">D</text>
<text font-size="98" text-anchor="start" transform="translate(1036.6 1426.7) scale(1 1.04)">E</text>
<text font-size="98" text-anchor="start" transform="translate(1036.5 2059) scale(1 1.04)">F</text>
</svg>
</body></html>
